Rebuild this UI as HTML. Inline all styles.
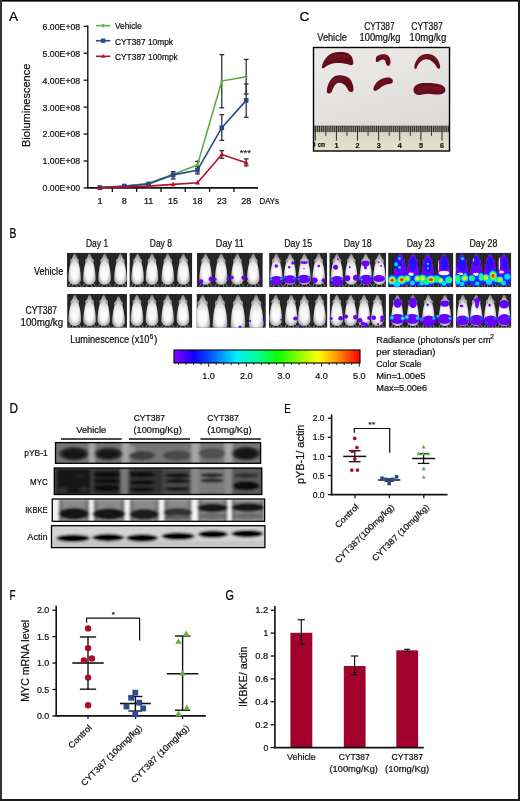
<!DOCTYPE html>
<html><head><meta charset="utf-8"><title>Figure</title>
<style>
html,body{margin:0;padding:0;background:#fff;overflow:hidden;}
svg{display:block;}
text{font-family:'Liberation Sans', Arial, sans-serif;fill:#111;stroke:#111;stroke-width:0.22px;}
</style></head><body>
<svg width="520" height="801" viewBox="0 0 520 801">
<defs>
<filter id="blur03" x="-20%" y="-20%" width="140%" height="140%"><feGaussianBlur stdDeviation="0.3"/></filter>
<filter id="blur05" x="-20%" y="-20%" width="140%" height="140%"><feGaussianBlur stdDeviation="0.5"/></filter>
<filter id="blur08" x="-30%" y="-30%" width="160%" height="160%"><feGaussianBlur stdDeviation="0.8"/></filter>
<filter id="blur12" x="-30%" y="-30%" width="160%" height="160%"><feGaussianBlur stdDeviation="1.2"/></filter>
<filter id="blurD" x="-10%" y="-30%" width="120%" height="160%"><feGaussianBlur stdDeviation="1.4 1.1"/></filter>
<filter id="blur2" x="-30%" y="-30%" width="160%" height="160%"><feGaussianBlur stdDeviation="2"/></filter>
<linearGradient id="cbar" x1="0" y1="0" x2="1" y2="0">
<stop offset="0" stop-color="#8a00ff"/>
<stop offset="0.11" stop-color="#1000ff"/>
<stop offset="0.22" stop-color="#0070ff"/>
<stop offset="0.335" stop-color="#00f0ff"/>
<stop offset="0.45" stop-color="#00ff90"/>
<stop offset="0.56" stop-color="#10ff00"/>
<stop offset="0.775" stop-color="#ffff00"/>
<stop offset="0.88" stop-color="#ff9000"/>
<stop offset="1" stop-color="#ff0000"/>
</linearGradient>
<linearGradient id="photo" x1="0.2" y1="0" x2="0.6" y2="1">
<stop offset="0" stop-color="#eceae9"/>
<stop offset="0.55" stop-color="#e3e1e0"/>
<stop offset="1" stop-color="#dad8d7"/>
</linearGradient>
<linearGradient id="ruler" x1="0" y1="0" x2="0" y2="1">
<stop offset="0" stop-color="#d6d3c2"/>
<stop offset="1" stop-color="#e4e1d2"/>
</linearGradient>
<linearGradient id="mouseg" x1="0" y1="0" x2="0" y2="1">
<stop offset="0" stop-color="#b4b4b4"/>
<stop offset="0.25" stop-color="#dadada"/>
<stop offset="0.45" stop-color="#f2f2f2"/>
<stop offset="0.8" stop-color="#f8f8f8"/>
<stop offset="1" stop-color="#e2e2e2"/>
</linearGradient>
<radialGradient id="mouseedge" cx="0.5" cy="0.55" r="0.55">
<stop offset="0.55" stop-color="#000" stop-opacity="0"/>
<stop offset="1" stop-color="#000" stop-opacity="0.3"/>
</radialGradient>
</defs>
<text x="9.00" y="20.90" font-size="13.5" style="fill:#000;stroke:#000">A</text>
<line x1="87.80" y1="25.50" x2="87.80" y2="188.50" stroke="#111" stroke-width="1.4"/>
<line x1="83.60" y1="187.90" x2="87.80" y2="187.90" stroke="#111" stroke-width="1.3"/>
<text x="80.20" y="191.30" font-size="9" text-anchor="end" textLength="37.60" lengthAdjust="spacingAndGlyphs">0.00E+00</text>
<line x1="83.60" y1="160.97" x2="87.80" y2="160.97" stroke="#111" stroke-width="1.3"/>
<text x="80.20" y="164.37" font-size="9" text-anchor="end" textLength="37.60" lengthAdjust="spacingAndGlyphs">1.00E+08</text>
<line x1="83.60" y1="134.04" x2="87.80" y2="134.04" stroke="#111" stroke-width="1.3"/>
<text x="80.20" y="137.44" font-size="9" text-anchor="end" textLength="37.60" lengthAdjust="spacingAndGlyphs">2.00E+08</text>
<line x1="83.60" y1="107.11" x2="87.80" y2="107.11" stroke="#111" stroke-width="1.3"/>
<text x="80.20" y="110.51" font-size="9" text-anchor="end" textLength="37.60" lengthAdjust="spacingAndGlyphs">3.00E+08</text>
<line x1="83.60" y1="80.18" x2="87.80" y2="80.18" stroke="#111" stroke-width="1.3"/>
<text x="80.20" y="83.58" font-size="9" text-anchor="end" textLength="37.60" lengthAdjust="spacingAndGlyphs">4.00E+08</text>
<line x1="83.60" y1="53.25" x2="87.80" y2="53.25" stroke="#111" stroke-width="1.3"/>
<text x="80.20" y="56.65" font-size="9" text-anchor="end" textLength="37.60" lengthAdjust="spacingAndGlyphs">5.00E+08</text>
<line x1="83.60" y1="26.32" x2="87.80" y2="26.32" stroke="#111" stroke-width="1.3"/>
<text x="80.20" y="29.72" font-size="9" text-anchor="end" textLength="37.60" lengthAdjust="spacingAndGlyphs">6.00E+08</text>
<line x1="87.10" y1="187.90" x2="258.00" y2="187.90" stroke="#111" stroke-width="1.6"/>
<line x1="112.32" y1="187.90" x2="112.32" y2="191.90" stroke="#111" stroke-width="1.3"/>
<line x1="136.64" y1="187.90" x2="136.64" y2="191.90" stroke="#111" stroke-width="1.3"/>
<line x1="160.96" y1="187.90" x2="160.96" y2="191.90" stroke="#111" stroke-width="1.3"/>
<line x1="185.28" y1="187.90" x2="185.28" y2="191.90" stroke="#111" stroke-width="1.3"/>
<line x1="209.60" y1="187.90" x2="209.60" y2="191.90" stroke="#111" stroke-width="1.3"/>
<line x1="233.92" y1="187.90" x2="233.92" y2="191.90" stroke="#111" stroke-width="1.3"/>
<text x="99.90" y="203.80" font-size="9" text-anchor="middle">1</text>
<text x="124.30" y="203.80" font-size="9" text-anchor="middle">8</text>
<text x="148.60" y="203.80" font-size="9" text-anchor="middle">11</text>
<text x="173.10" y="203.80" font-size="9" text-anchor="middle">15</text>
<text x="197.50" y="203.80" font-size="9" text-anchor="middle">18</text>
<text x="221.80" y="203.80" font-size="9" text-anchor="middle">23</text>
<text x="246.20" y="203.80" font-size="9" text-anchor="middle">28</text>
<text x="259.50" y="203.80" font-size="9" textLength="19.50" lengthAdjust="spacingAndGlyphs">DAYs</text>
<text x="30.20" y="105.30" font-size="11" text-anchor="middle" textLength="83.40" lengthAdjust="spacingAndGlyphs" transform="rotate(-90 30.20 105.30)">Bioluminescence</text>
<line x1="221.80" y1="54.70" x2="221.80" y2="107.80" stroke="#222" stroke-width="1.2"/>
<line x1="219.40" y1="54.70" x2="224.20" y2="54.70" stroke="#222" stroke-width="1.2"/>
<line x1="219.40" y1="107.80" x2="224.20" y2="107.80" stroke="#222" stroke-width="1.2"/>
<line x1="246.20" y1="59.40" x2="246.20" y2="94.00" stroke="#222" stroke-width="1.2"/>
<line x1="243.80" y1="59.40" x2="248.60" y2="59.40" stroke="#222" stroke-width="1.2"/>
<line x1="243.80" y1="94.00" x2="248.60" y2="94.00" stroke="#222" stroke-width="1.2"/>
<line x1="197.50" y1="161.30" x2="197.50" y2="168.50" stroke="#222" stroke-width="1.2"/>
<line x1="195.10" y1="161.30" x2="199.90" y2="161.30" stroke="#222" stroke-width="1.2"/>
<line x1="195.10" y1="168.50" x2="199.90" y2="168.50" stroke="#222" stroke-width="1.2"/>
<line x1="221.80" y1="114.70" x2="221.80" y2="140.30" stroke="#222" stroke-width="1.2"/>
<line x1="219.40" y1="114.70" x2="224.20" y2="114.70" stroke="#222" stroke-width="1.2"/>
<line x1="219.40" y1="140.30" x2="224.20" y2="140.30" stroke="#222" stroke-width="1.2"/>
<line x1="246.20" y1="83.90" x2="246.20" y2="117.30" stroke="#222" stroke-width="1.2"/>
<line x1="243.80" y1="83.90" x2="248.60" y2="83.90" stroke="#222" stroke-width="1.2"/>
<line x1="243.80" y1="117.30" x2="248.60" y2="117.30" stroke="#222" stroke-width="1.2"/>
<line x1="197.50" y1="166.30" x2="197.50" y2="174.00" stroke="#222" stroke-width="1.2"/>
<line x1="195.10" y1="166.30" x2="199.90" y2="166.30" stroke="#222" stroke-width="1.2"/>
<line x1="195.10" y1="174.00" x2="199.90" y2="174.00" stroke="#222" stroke-width="1.2"/>
<line x1="173.10" y1="171.70" x2="173.10" y2="179.00" stroke="#222" stroke-width="1.2"/>
<line x1="170.70" y1="171.70" x2="175.50" y2="171.70" stroke="#222" stroke-width="1.2"/>
<line x1="170.70" y1="179.00" x2="175.50" y2="179.00" stroke="#222" stroke-width="1.2"/>
<line x1="221.80" y1="150.70" x2="221.80" y2="158.20" stroke="#222" stroke-width="1.2"/>
<line x1="219.40" y1="150.70" x2="224.20" y2="150.70" stroke="#222" stroke-width="1.2"/>
<line x1="219.40" y1="158.20" x2="224.20" y2="158.20" stroke="#222" stroke-width="1.2"/>
<line x1="246.20" y1="158.90" x2="246.20" y2="165.90" stroke="#222" stroke-width="1.2"/>
<line x1="243.80" y1="158.90" x2="248.60" y2="158.90" stroke="#222" stroke-width="1.2"/>
<line x1="243.80" y1="165.90" x2="248.60" y2="165.90" stroke="#222" stroke-width="1.2"/>
<polyline points="99.9,187.6 124.3,186.4 148.6,183.3 173.1,174.3 197.5,164.9 221.8,81.0 246.2,76.7" fill="none" stroke="#5dac3e" stroke-width="1.6" stroke-linejoin="round"/>
<polyline points="99.9,187.6 124.3,186.1 148.6,184.0 173.1,174.9 197.5,170.2 221.8,127.7 246.2,100.4" fill="none" stroke="#27468b" stroke-width="1.6" stroke-linejoin="round"/>
<polyline points="99.9,187.6 124.3,187.0 148.6,186.1 173.1,184.4 197.5,182.7 221.8,154.5 246.2,162.7" fill="none" stroke="#b3112e" stroke-width="1.6" stroke-linejoin="round"/>
<path d="M99.9 185.5 L101.5 187.6 L99.9 189.7 L98.3 187.6Z" fill="#5dac3e"/>
<path d="M124.3 184.3 L125.9 186.4 L124.3 188.5 L122.7 186.4Z" fill="#5dac3e"/>
<path d="M148.6 181.2 L150.2 183.3 L148.6 185.4 L147.0 183.3Z" fill="#5dac3e"/>
<path d="M173.1 172.2 L174.7 174.3 L173.1 176.4 L171.5 174.3Z" fill="#5dac3e"/>
<path d="M197.5 162.8 L199.1 164.9 L197.5 167.0 L195.9 164.9Z" fill="#5dac3e"/>
<path d="M221.8 78.9 L223.4 81.0 L221.8 83.1 L220.2 81.0Z" fill="#5dac3e"/>
<path d="M246.2 74.6 L247.8 76.7 L246.2 78.8 L244.6 76.7Z" fill="#5dac3e"/>
<rect x="97.6" y="185.2" width="4.6" height="4.8" fill="#27468b"/>
<rect x="122.0" y="183.7" width="4.6" height="4.8" fill="#27468b"/>
<rect x="146.3" y="181.6" width="4.6" height="4.8" fill="#27468b"/>
<rect x="170.8" y="172.5" width="4.6" height="4.8" fill="#27468b"/>
<rect x="195.2" y="167.8" width="4.6" height="4.8" fill="#27468b"/>
<rect x="219.5" y="125.3" width="4.6" height="4.8" fill="#27468b"/>
<rect x="243.9" y="98.0" width="4.6" height="4.8" fill="#27468b"/>
<path d="M99.9 184.9 L102.4 189.4 L97.4 189.4Z" fill="#b3112e"/>
<path d="M124.3 184.3 L126.8 188.8 L121.8 188.8Z" fill="#b3112e"/>
<path d="M148.6 183.4 L151.1 187.9 L146.1 187.9Z" fill="#b3112e"/>
<path d="M173.1 181.7 L175.6 186.2 L170.6 186.2Z" fill="#b3112e"/>
<path d="M197.5 180.0 L200.0 184.5 L195.0 184.5Z" fill="#b3112e"/>
<path d="M221.8 151.8 L224.3 156.3 L219.3 156.3Z" fill="#b3112e"/>
<path d="M246.2 160.0 L248.7 164.5 L243.7 164.5Z" fill="#b3112e"/>
<text x="245.40" y="156.30" font-size="8.2" text-anchor="middle" textLength="11.30" lengthAdjust="spacingAndGlyphs" style="stroke-width:0.1px">***</text>
<line x1="95.90" y1="25.60" x2="110.30" y2="25.60" stroke="#5dac3e" stroke-width="1.6"/>
<path d="M103.2 23.5 L104.8 25.6 L103.2 27.700000000000003 L101.60000000000001 25.6Z" fill="#5dac3e"/>
<text x="115.00" y="29.40" font-size="9" textLength="26.80" lengthAdjust="spacingAndGlyphs">Vehicle</text>
<line x1="95.90" y1="40.70" x2="110.30" y2="40.70" stroke="#27468b" stroke-width="1.6"/>
<rect x="101.10000000000001" y="38.5" width="4.2" height="4.4" fill="#27468b"/>
<text x="115.00" y="44.50" font-size="9" textLength="58.00" lengthAdjust="spacingAndGlyphs">CYT387 10mpk</text>
<line x1="95.90" y1="56.30" x2="110.30" y2="56.30" stroke="#b3112e" stroke-width="1.6"/>
<path d="M103.2 53.9 L105.4 57.8 L101.0 57.8Z" fill="#b3112e"/>
<text x="115.00" y="60.10" font-size="9" textLength="62.80" lengthAdjust="spacingAndGlyphs">CYT387 100mpk</text>
<text x="299.40" y="20.90" font-size="13.5" style="fill:#000;stroke:#000">C</text>
<text x="317.30" y="41.30" font-size="10" textLength="29.60" lengthAdjust="spacingAndGlyphs">Vehicle</text>
<text x="364.20" y="30.00" font-size="10" textLength="30.40" lengthAdjust="spacingAndGlyphs">CYT387</text>
<text x="359.60" y="41.30" font-size="10" textLength="40.80" lengthAdjust="spacingAndGlyphs">100mg/kg</text>
<text x="411.30" y="30.00" font-size="10" textLength="31.60" lengthAdjust="spacingAndGlyphs">CYT387</text>
<text x="409.60" y="41.30" font-size="10" textLength="36.60" lengthAdjust="spacingAndGlyphs">10mg/kg</text>
<clipPath id="photoclip"><rect x="313.5" y="47.5" width="136.0" height="103.5"/></clipPath><g clip-path="url(#photoclip)">
<rect x="313.5" y="47.5" width="136.0" height="103.5" fill="url(#photo)"/>
<rect x="313.5" y="125.4" width="136.0" height="25.599999999999994" fill="url(#ruler)"/>
<rect x="313.5" y="125.4" width="136.0" height="1.2" fill="#8a887c" opacity="0.6"/>
<rect x="313.5" y="125.8" width="136.0" height="6.2" fill="#5a5850" opacity="0.55"/>
<g opacity="0.9"><line x1="315.28" y1="126.0" x2="315.28" y2="140.6" stroke="#111" stroke-width="1.0"/><line x1="317.39" y1="126.0" x2="317.39" y2="132.2" stroke="#111" stroke-width="0.85"/><line x1="319.50" y1="126.0" x2="319.50" y2="132.2" stroke="#111" stroke-width="0.85"/><line x1="321.62" y1="126.0" x2="321.62" y2="132.2" stroke="#111" stroke-width="0.85"/><line x1="323.73" y1="126.0" x2="323.73" y2="132.2" stroke="#111" stroke-width="0.85"/><line x1="325.84" y1="126.0" x2="325.84" y2="135.8" stroke="#111" stroke-width="0.95"/><line x1="327.95" y1="126.0" x2="327.95" y2="132.2" stroke="#111" stroke-width="0.85"/><line x1="330.06" y1="126.0" x2="330.06" y2="132.2" stroke="#111" stroke-width="0.85"/><line x1="332.18" y1="126.0" x2="332.18" y2="132.2" stroke="#111" stroke-width="0.85"/><line x1="334.29" y1="126.0" x2="334.29" y2="132.2" stroke="#111" stroke-width="0.85"/><line x1="336.40" y1="126.0" x2="336.40" y2="140.6" stroke="#111" stroke-width="1.0"/><line x1="338.51" y1="126.0" x2="338.51" y2="132.2" stroke="#111" stroke-width="0.85"/><line x1="340.62" y1="126.0" x2="340.62" y2="132.2" stroke="#111" stroke-width="0.85"/><line x1="342.74" y1="126.0" x2="342.74" y2="132.2" stroke="#111" stroke-width="0.85"/><line x1="344.85" y1="126.0" x2="344.85" y2="132.2" stroke="#111" stroke-width="0.85"/><line x1="346.96" y1="126.0" x2="346.96" y2="135.8" stroke="#111" stroke-width="0.95"/><line x1="349.07" y1="126.0" x2="349.07" y2="132.2" stroke="#111" stroke-width="0.85"/><line x1="351.18" y1="126.0" x2="351.18" y2="132.2" stroke="#111" stroke-width="0.85"/><line x1="353.30" y1="126.0" x2="353.30" y2="132.2" stroke="#111" stroke-width="0.85"/><line x1="355.41" y1="126.0" x2="355.41" y2="132.2" stroke="#111" stroke-width="0.85"/><line x1="357.52" y1="126.0" x2="357.52" y2="140.6" stroke="#111" stroke-width="1.0"/><line x1="359.63" y1="126.0" x2="359.63" y2="132.2" stroke="#111" stroke-width="0.85"/><line x1="361.74" y1="126.0" x2="361.74" y2="132.2" stroke="#111" stroke-width="0.85"/><line x1="363.86" y1="126.0" x2="363.86" y2="132.2" stroke="#111" stroke-width="0.85"/><line x1="365.97" y1="126.0" x2="365.97" y2="132.2" stroke="#111" stroke-width="0.85"/><line x1="368.08" y1="126.0" x2="368.08" y2="135.8" stroke="#111" stroke-width="0.95"/><line x1="370.19" y1="126.0" x2="370.19" y2="132.2" stroke="#111" stroke-width="0.85"/><line x1="372.30" y1="126.0" x2="372.30" y2="132.2" stroke="#111" stroke-width="0.85"/><line x1="374.42" y1="126.0" x2="374.42" y2="132.2" stroke="#111" stroke-width="0.85"/><line x1="376.53" y1="126.0" x2="376.53" y2="132.2" stroke="#111" stroke-width="0.85"/><line x1="378.64" y1="126.0" x2="378.64" y2="140.6" stroke="#111" stroke-width="1.0"/><line x1="380.75" y1="126.0" x2="380.75" y2="132.2" stroke="#111" stroke-width="0.85"/><line x1="382.86" y1="126.0" x2="382.86" y2="132.2" stroke="#111" stroke-width="0.85"/><line x1="384.98" y1="126.0" x2="384.98" y2="132.2" stroke="#111" stroke-width="0.85"/><line x1="387.09" y1="126.0" x2="387.09" y2="132.2" stroke="#111" stroke-width="0.85"/><line x1="389.20" y1="126.0" x2="389.20" y2="135.8" stroke="#111" stroke-width="0.95"/><line x1="391.31" y1="126.0" x2="391.31" y2="132.2" stroke="#111" stroke-width="0.85"/><line x1="393.42" y1="126.0" x2="393.42" y2="132.2" stroke="#111" stroke-width="0.85"/><line x1="395.54" y1="126.0" x2="395.54" y2="132.2" stroke="#111" stroke-width="0.85"/><line x1="397.65" y1="126.0" x2="397.65" y2="132.2" stroke="#111" stroke-width="0.85"/><line x1="399.76" y1="126.0" x2="399.76" y2="140.6" stroke="#111" stroke-width="1.0"/><line x1="401.87" y1="126.0" x2="401.87" y2="132.2" stroke="#111" stroke-width="0.85"/><line x1="403.98" y1="126.0" x2="403.98" y2="132.2" stroke="#111" stroke-width="0.85"/><line x1="406.10" y1="126.0" x2="406.10" y2="132.2" stroke="#111" stroke-width="0.85"/><line x1="408.21" y1="126.0" x2="408.21" y2="132.2" stroke="#111" stroke-width="0.85"/><line x1="410.32" y1="126.0" x2="410.32" y2="135.8" stroke="#111" stroke-width="0.95"/><line x1="412.43" y1="126.0" x2="412.43" y2="132.2" stroke="#111" stroke-width="0.85"/><line x1="414.54" y1="126.0" x2="414.54" y2="132.2" stroke="#111" stroke-width="0.85"/><line x1="416.66" y1="126.0" x2="416.66" y2="132.2" stroke="#111" stroke-width="0.85"/><line x1="418.77" y1="126.0" x2="418.77" y2="132.2" stroke="#111" stroke-width="0.85"/><line x1="420.88" y1="126.0" x2="420.88" y2="140.6" stroke="#111" stroke-width="1.0"/><line x1="422.99" y1="126.0" x2="422.99" y2="132.2" stroke="#111" stroke-width="0.85"/><line x1="425.10" y1="126.0" x2="425.10" y2="132.2" stroke="#111" stroke-width="0.85"/><line x1="427.22" y1="126.0" x2="427.22" y2="132.2" stroke="#111" stroke-width="0.85"/><line x1="429.33" y1="126.0" x2="429.33" y2="132.2" stroke="#111" stroke-width="0.85"/><line x1="431.44" y1="126.0" x2="431.44" y2="135.8" stroke="#111" stroke-width="0.95"/><line x1="433.55" y1="126.0" x2="433.55" y2="132.2" stroke="#111" stroke-width="0.85"/><line x1="435.66" y1="126.0" x2="435.66" y2="132.2" stroke="#111" stroke-width="0.85"/><line x1="437.78" y1="126.0" x2="437.78" y2="132.2" stroke="#111" stroke-width="0.85"/><line x1="439.89" y1="126.0" x2="439.89" y2="132.2" stroke="#111" stroke-width="0.85"/><line x1="442.00" y1="126.0" x2="442.00" y2="140.6" stroke="#111" stroke-width="1.0"/><line x1="444.11" y1="126.0" x2="444.11" y2="132.2" stroke="#111" stroke-width="0.85"/><line x1="446.22" y1="126.0" x2="446.22" y2="132.2" stroke="#111" stroke-width="0.85"/><line x1="448.34" y1="126.0" x2="448.34" y2="132.2" stroke="#111" stroke-width="0.85"/></g>
<text x="336.40" y="147.60" font-size="7.2" text-anchor="middle" font-weight="bold">1</text>
<text x="357.52" y="147.60" font-size="7.2" text-anchor="middle" font-weight="bold">2</text>
<text x="378.64" y="147.60" font-size="7.2" text-anchor="middle" font-weight="bold">3</text>
<text x="399.76" y="147.60" font-size="7.2" text-anchor="middle" font-weight="bold">4</text>
<text x="420.88" y="147.60" font-size="7.2" text-anchor="middle" font-weight="bold">5</text>
<text x="442.00" y="147.60" font-size="7.2" text-anchor="middle" font-weight="bold">6</text>
<text x="318.00" y="147.40" font-size="6.8" textLength="7.20" lengthAdjust="spacingAndGlyphs" font-weight="bold">cm</text>
<text x="313.60" y="147.40" font-size="7.2" text-anchor="middle" font-weight="bold">0</text>
<clipPath id="kc0"><path d="M321.8,67 C323,61 327,55.5 332,53.3 C337,51.6 344,51.6 348,53.3 C351.5,55 353.4,59 353.3,63.6 C353.1,65.4 351,65.6 349.3,64.8 C346,63.6 341,63 336,63.1 C331,63.4 326.5,65.6 324,68 C323,68.8 321.6,68.5 321.8,67 Z"/></clipPath>
<path d="M321.8,67 C323,61 327,55.5 332,53.3 C337,51.6 344,51.6 348,53.3 C351.5,55 353.4,59 353.3,63.6 C353.1,65.4 351,65.6 349.3,64.8 C346,63.6 341,63 336,63.1 C331,63.4 326.5,65.6 324,68 C323,68.8 321.6,68.5 321.8,67 Z" fill="#620a1a" filter="url(#blur03)"/>
<clipPath id="kc1"><path d="M326.8,91.5 C327,85 330.5,78 335.8,75.8 C340,74.6 345,75.3 348.7,77.8 C351.8,80.3 353.6,85.5 353.5,90 C353.2,92.5 350.3,92.8 348.5,90.8 C347,87.5 345,84 341,83 C337.5,82.2 335,84.5 333.5,87.5 C332.5,89.5 332,92 330.8,93 C329,94 326.6,93.2 326.8,91.5 Z"/></clipPath>
<path d="M326.8,91.5 C327,85 330.5,78 335.8,75.8 C340,74.6 345,75.3 348.7,77.8 C351.8,80.3 353.6,85.5 353.5,90 C353.2,92.5 350.3,92.8 348.5,90.8 C347,87.5 345,84 341,83 C337.5,82.2 335,84.5 333.5,87.5 C332.5,89.5 332,92 330.8,93 C329,94 326.6,93.2 326.8,91.5 Z" fill="#620a1a" filter="url(#blur03)"/>
<clipPath id="kc2"><path d="M375.8,59 C376,55.8 379.5,54.3 384,54.3 C388,54.4 390.5,57.5 390.5,61.5 C390.5,64.5 389.2,66.2 387.8,66 C386.3,65.5 386,63 385.3,61 C384.5,59.5 382.5,59 380.5,60.3 C378.8,61.5 376.8,62.8 376,61.5 C375.7,60.8 375.7,60 375.8,59 Z"/></clipPath>
<path d="M375.8,59 C376,55.8 379.5,54.3 384,54.3 C388,54.4 390.5,57.5 390.5,61.5 C390.5,64.5 389.2,66.2 387.8,66 C386.3,65.5 386,63 385.3,61 C384.5,59.5 382.5,59 380.5,60.3 C378.8,61.5 376.8,62.8 376,61.5 C375.7,60.8 375.7,60 375.8,59 Z" fill="#620a1a" filter="url(#blur03)"/>
<clipPath id="kc3"><path d="M373.5,88.3 C374.5,84 378,80 383.5,78.2 C387,77.2 391,77.2 392.6,79.8 C393.5,81.8 392.3,83.8 389.5,84 C386.5,84.2 383.5,85.3 381,87.3 C378.5,89.3 376.5,91 374.8,90.9 C373.6,90.8 373.2,89.5 373.5,88.3 Z"/></clipPath>
<path d="M373.5,88.3 C374.5,84 378,80 383.5,78.2 C387,77.2 391,77.2 392.6,79.8 C393.5,81.8 392.3,83.8 389.5,84 C386.5,84.2 383.5,85.3 381,87.3 C378.5,89.3 376.5,91 374.8,90.9 C373.6,90.8 373.2,89.5 373.5,88.3 Z" fill="#620a1a" filter="url(#blur03)"/>
<clipPath id="kc4"><path d="M414.3,67 C414.8,62 418,57 422,55 C425.5,53.5 429.5,53.5 433,55.3 C437,57.5 439.7,62 440.2,66.8 C440.3,68.8 438.5,69.5 437.3,68 C436,65.5 433.5,61.8 430,60 C427.5,59 424.5,59 422,60.5 C419,62.5 417.5,65.5 416.6,68 C416,69.5 414.2,69 414.3,67 Z"/></clipPath>
<path d="M414.3,67 C414.8,62 418,57 422,55 C425.5,53.5 429.5,53.5 433,55.3 C437,57.5 439.7,62 440.2,66.8 C440.3,68.8 438.5,69.5 437.3,68 C436,65.5 433.5,61.8 430,60 C427.5,59 424.5,59 422,60.5 C419,62.5 417.5,65.5 416.6,68 C416,69.5 414.2,69 414.3,67 Z" fill="#620a1a" filter="url(#blur03)"/>
<clipPath id="kc5"><path d="M413.5,89.2 C413.8,86 417,83.8 423,83.1 C428,82.7 436,82.9 441,84.8 C444.5,86.2 445.8,88.5 445.4,90.5 C445,93 442,94.6 437.5,94.6 C434,94.6 431,93.8 428.5,93.8 C425,93.9 422,95 418.5,94.9 C415.5,94.8 413.3,92.5 413.5,89.2 Z"/></clipPath>
<path d="M413.5,89.2 C413.8,86 417,83.8 423,83.1 C428,82.7 436,82.9 441,84.8 C444.5,86.2 445.8,88.5 445.4,90.5 C445,93 442,94.6 437.5,94.6 C434,94.6 431,93.8 428.5,93.8 C425,93.9 422,95 418.5,94.9 C415.5,94.8 413.3,92.5 413.5,89.2 Z" fill="#620a1a" filter="url(#blur03)"/>
<path d="M328,60 C334,56 342,55 349,57.5" fill="none" stroke="#8a1a2a" stroke-width="2.86" opacity="0.6" filter="url(#blur08)" clip-path="url(#kc0)"/>
<path d="M331,84 C334,79 340,77.5 346,79.5" fill="none" stroke="#8a1a2a" stroke-width="2.34" opacity="0.6" filter="url(#blur08)" clip-path="url(#kc1)"/>
<path d="M379,57 C382,56 386,56 388,59" fill="none" stroke="#8a1a2a" stroke-width="1.56" opacity="0.6" filter="url(#blur08)" clip-path="url(#kc2)"/>
<path d="M377,87 C380,83 384,80.5 389,80" fill="none" stroke="#8a1a2a" stroke-width="1.95" opacity="0.6" filter="url(#blur08)" clip-path="url(#kc3)"/>
<path d="M418,62 C421,57.5 426,56 431,56.5" fill="none" stroke="#8a1a2a" stroke-width="1.95" opacity="0.6" filter="url(#blur08)" clip-path="url(#kc4)"/>
<path d="M418,89.5 C424,87 434,87 442,89" fill="none" stroke="#8a1a2a" stroke-width="3.12" opacity="0.6" filter="url(#blur08)" clip-path="url(#kc5)"/>
</g>
<rect x="313.5" y="47.5" width="136.0" height="103.5" fill="none" stroke="#000" stroke-width="1.4"/>
<text x="9.60" y="237.60" font-size="14" style="fill:#000;stroke:#000" textLength="6.90" lengthAdjust="spacingAndGlyphs">B</text>
<text x="97.05" y="246.50" font-size="10" text-anchor="middle" textLength="22.20" lengthAdjust="spacingAndGlyphs">Day 1</text>
<text x="160.85" y="246.50" font-size="10" text-anchor="middle" textLength="22.20" lengthAdjust="spacingAndGlyphs">Day 8</text>
<text x="229.85" y="246.50" font-size="10" text-anchor="middle" textLength="28.00" lengthAdjust="spacingAndGlyphs">Day 11</text>
<text x="298.15" y="246.50" font-size="10" text-anchor="middle" textLength="28.00" lengthAdjust="spacingAndGlyphs">Day 15</text>
<text x="357.65" y="246.50" font-size="10" text-anchor="middle" textLength="28.00" lengthAdjust="spacingAndGlyphs">Day 18</text>
<text x="420.70" y="246.50" font-size="10" text-anchor="middle" textLength="28.00" lengthAdjust="spacingAndGlyphs">Day 23</text>
<text x="483.40" y="246.50" font-size="10" text-anchor="middle" textLength="28.00" lengthAdjust="spacingAndGlyphs">Day 28</text>
<text x="63.20" y="274.90" font-size="10" text-anchor="end" textLength="29.30" lengthAdjust="spacingAndGlyphs">Vehicle</text>
<text x="41.30" y="314.30" font-size="10" text-anchor="middle" textLength="31.50" lengthAdjust="spacingAndGlyphs">CYT387</text>
<text x="41.80" y="326.20" font-size="10" text-anchor="middle" textLength="42.60" lengthAdjust="spacingAndGlyphs">100mg/kg</text>
<text x="70.20" y="343.40" font-size="10" textLength="79.20" lengthAdjust="spacingAndGlyphs">Luminescence (x10</text>
<text x="149.80" y="339.00" font-size="6.5">6</text>
<text x="154.00" y="343.40" font-size="10">)</text>
<rect x="174" y="350" width="186" height="13" fill="url(#cbar)" stroke="#000" stroke-width="1.1"/>
<line x1="178.53" y1="363.00" x2="178.53" y2="365.00" stroke="#111" stroke-width="0.9"/>
<line x1="186.06" y1="363.00" x2="186.06" y2="365.00" stroke="#111" stroke-width="0.9"/>
<line x1="193.59" y1="363.00" x2="193.59" y2="365.00" stroke="#111" stroke-width="0.9"/>
<line x1="201.12" y1="363.00" x2="201.12" y2="365.00" stroke="#111" stroke-width="0.9"/>
<line x1="208.65" y1="363.00" x2="208.65" y2="366.80" stroke="#111" stroke-width="0.9"/>
<line x1="216.18" y1="363.00" x2="216.18" y2="365.00" stroke="#111" stroke-width="0.9"/>
<line x1="223.71" y1="363.00" x2="223.71" y2="365.00" stroke="#111" stroke-width="0.9"/>
<line x1="231.24" y1="363.00" x2="231.24" y2="365.00" stroke="#111" stroke-width="0.9"/>
<line x1="238.77" y1="363.00" x2="238.77" y2="365.00" stroke="#111" stroke-width="0.9"/>
<line x1="246.30" y1="363.00" x2="246.30" y2="366.80" stroke="#111" stroke-width="0.9"/>
<line x1="253.83" y1="363.00" x2="253.83" y2="365.00" stroke="#111" stroke-width="0.9"/>
<line x1="261.36" y1="363.00" x2="261.36" y2="365.00" stroke="#111" stroke-width="0.9"/>
<line x1="268.89" y1="363.00" x2="268.89" y2="365.00" stroke="#111" stroke-width="0.9"/>
<line x1="276.42" y1="363.00" x2="276.42" y2="365.00" stroke="#111" stroke-width="0.9"/>
<line x1="283.95" y1="363.00" x2="283.95" y2="366.80" stroke="#111" stroke-width="0.9"/>
<line x1="291.48" y1="363.00" x2="291.48" y2="365.00" stroke="#111" stroke-width="0.9"/>
<line x1="299.01" y1="363.00" x2="299.01" y2="365.00" stroke="#111" stroke-width="0.9"/>
<line x1="306.54" y1="363.00" x2="306.54" y2="365.00" stroke="#111" stroke-width="0.9"/>
<line x1="314.07" y1="363.00" x2="314.07" y2="365.00" stroke="#111" stroke-width="0.9"/>
<line x1="321.60" y1="363.00" x2="321.60" y2="366.80" stroke="#111" stroke-width="0.9"/>
<line x1="329.13" y1="363.00" x2="329.13" y2="365.00" stroke="#111" stroke-width="0.9"/>
<line x1="336.66" y1="363.00" x2="336.66" y2="365.00" stroke="#111" stroke-width="0.9"/>
<line x1="344.19" y1="363.00" x2="344.19" y2="365.00" stroke="#111" stroke-width="0.9"/>
<line x1="351.72" y1="363.00" x2="351.72" y2="365.00" stroke="#111" stroke-width="0.9"/>
<line x1="359.25" y1="363.00" x2="359.25" y2="366.80" stroke="#111" stroke-width="0.9"/>
<text x="208.60" y="379.30" font-size="9" text-anchor="middle" textLength="12.60" lengthAdjust="spacingAndGlyphs">1.0</text>
<text x="246.25" y="379.30" font-size="9" text-anchor="middle" textLength="12.60" lengthAdjust="spacingAndGlyphs">2.0</text>
<text x="283.90" y="379.30" font-size="9" text-anchor="middle" textLength="12.60" lengthAdjust="spacingAndGlyphs">3.0</text>
<text x="321.55" y="379.30" font-size="9" text-anchor="middle" textLength="12.60" lengthAdjust="spacingAndGlyphs">4.0</text>
<text x="359.20" y="379.30" font-size="9" text-anchor="middle" textLength="12.60" lengthAdjust="spacingAndGlyphs">5.0</text>
<text x="376.30" y="343.20" font-size="9" textLength="114.20" lengthAdjust="spacingAndGlyphs">Radiance (photons/s per cm</text>
<text x="376.30" y="354.80" font-size="9" textLength="59.20" lengthAdjust="spacingAndGlyphs">per steradian)</text>
<text x="376.30" y="366.80" font-size="9" textLength="45.20" lengthAdjust="spacingAndGlyphs">Color Scale</text>
<text x="376.30" y="378.60" font-size="9" textLength="49.20" lengthAdjust="spacingAndGlyphs">Min=1.00e5</text>
<text x="376.30" y="390.50" font-size="9" textLength="50.80" lengthAdjust="spacingAndGlyphs">Max=5.00e6</text>
<text x="490.20" y="339.00" font-size="6.5">2</text>
<clipPath id="clip66_252"><rect x="66.9" y="252.8" width="60.3" height="34.39999999999998"/></clipPath>
<g clip-path="url(#clip66_252)">
<rect x="66.9" y="252.8" width="60.3" height="34.39999999999998" fill="#2c2c2c"/>
<g opacity="0.7"><rect x="68.4" y="252.8" width="1.1" height="34.39999999999998" fill="#1b1b1b"/><rect x="71.0" y="252.8" width="1.1" height="34.39999999999998" fill="#1b1b1b"/><rect x="73.6" y="252.8" width="1.1" height="34.39999999999998" fill="#1b1b1b"/><rect x="76.2" y="252.8" width="1.1" height="34.39999999999998" fill="#1b1b1b"/><rect x="78.8" y="252.8" width="1.1" height="34.39999999999998" fill="#1b1b1b"/><rect x="81.4" y="252.8" width="1.1" height="34.39999999999998" fill="#1b1b1b"/><rect x="84.0" y="252.8" width="1.1" height="34.39999999999998" fill="#1b1b1b"/><rect x="86.6" y="252.8" width="1.1" height="34.39999999999998" fill="#1b1b1b"/><rect x="89.2" y="252.8" width="1.1" height="34.39999999999998" fill="#1b1b1b"/><rect x="91.8" y="252.8" width="1.1" height="34.39999999999998" fill="#1b1b1b"/><rect x="94.4" y="252.8" width="1.1" height="34.39999999999998" fill="#1b1b1b"/><rect x="97.0" y="252.8" width="1.1" height="34.39999999999998" fill="#1b1b1b"/><rect x="99.6" y="252.8" width="1.1" height="34.39999999999998" fill="#1b1b1b"/><rect x="102.2" y="252.8" width="1.1" height="34.39999999999998" fill="#1b1b1b"/><rect x="104.8" y="252.8" width="1.1" height="34.39999999999998" fill="#1b1b1b"/><rect x="107.4" y="252.8" width="1.1" height="34.39999999999998" fill="#1b1b1b"/><rect x="110.0" y="252.8" width="1.1" height="34.39999999999998" fill="#1b1b1b"/><rect x="112.6" y="252.8" width="1.1" height="34.39999999999998" fill="#1b1b1b"/><rect x="115.2" y="252.8" width="1.1" height="34.39999999999998" fill="#1b1b1b"/><rect x="117.8" y="252.8" width="1.1" height="34.39999999999998" fill="#1b1b1b"/><rect x="120.4" y="252.8" width="1.1" height="34.39999999999998" fill="#1b1b1b"/><rect x="123.0" y="252.8" width="1.1" height="34.39999999999998" fill="#1b1b1b"/><rect x="125.6" y="252.8" width="1.1" height="34.39999999999998" fill="#1b1b1b"/></g>
<g transform="translate(74.6 253.6) scale(0.930 1.000)" filter="url(#blur05)"><path d="M-4,29 L-7,33 M-2,30 L-3,33.5 M4,29 L7,33 M2,30 L3,33.5" stroke="#9a9a9a" stroke-width="0.8" fill="none"/><path d="M0,0 C0.8,0.4 1.6,1.8 2.1,3.2 C2.6,4.5 3.2,5.4 4.1,5.9 C4.8,6.4 4.8,8 4.1,8.9 C4.6,10.5 5.4,13 5.8,16 C6.3,19.5 6.8,23 6.6,26 C6.4,28.5 4.5,30.6 0,31.2 C-4.5,30.6 -6.4,28.5 -6.6,26 C-6.8,23 -6.3,19.5 -5.8,16 C-5.4,13 -4.6,10.5 -4.1,8.9 C-4.8,8 -4.8,6.4 -4.1,5.9 C-3.2,5.4 -2.6,4.5 -2.1,3.2 C-1.6,1.8 -0.8,0.4 0,0 Z" fill="url(#mouseg)"/><path d="M0,0 C0.8,0.4 1.6,1.8 2.1,3.2 C2.6,4.5 3.2,5.4 4.1,5.9 C4.8,6.4 4.8,8 4.1,8.9 C4.6,10.5 5.4,13 5.8,16 C6.3,19.5 6.8,23 6.6,26 C6.4,28.5 4.5,30.6 0,31.2 C-4.5,30.6 -6.4,28.5 -6.6,26 C-6.8,23 -6.3,19.5 -5.8,16 C-5.4,13 -4.6,10.5 -4.1,8.9 C-4.8,8 -4.8,6.4 -4.1,5.9 C-3.2,5.4 -2.6,4.5 -2.1,3.2 C-1.6,1.8 -0.8,0.4 0,0 Z" fill="url(#mouseedge)"/><ellipse cx="-3.2" cy="7.6" rx="1.2" ry="1.2" fill="#8c8c8c" opacity="0.6"/><ellipse cx="3.2" cy="7.6" rx="1.2" ry="1.2" fill="#8c8c8c" opacity="0.6"/><ellipse cx="0" cy="19" rx="3.5" ry="6" fill="#fff" opacity="0.5"/></g>
<g transform="translate(89.4 253.6) scale(0.930 1.000)" filter="url(#blur05)"><path d="M-4,29 L-7,33 M-2,30 L-3,33.5 M4,29 L7,33 M2,30 L3,33.5" stroke="#9a9a9a" stroke-width="0.8" fill="none"/><path d="M0,0 C0.8,0.4 1.6,1.8 2.1,3.2 C2.6,4.5 3.2,5.4 4.1,5.9 C4.8,6.4 4.8,8 4.1,8.9 C4.6,10.5 5.4,13 5.8,16 C6.3,19.5 6.8,23 6.6,26 C6.4,28.5 4.5,30.6 0,31.2 C-4.5,30.6 -6.4,28.5 -6.6,26 C-6.8,23 -6.3,19.5 -5.8,16 C-5.4,13 -4.6,10.5 -4.1,8.9 C-4.8,8 -4.8,6.4 -4.1,5.9 C-3.2,5.4 -2.6,4.5 -2.1,3.2 C-1.6,1.8 -0.8,0.4 0,0 Z" fill="url(#mouseg)"/><path d="M0,0 C0.8,0.4 1.6,1.8 2.1,3.2 C2.6,4.5 3.2,5.4 4.1,5.9 C4.8,6.4 4.8,8 4.1,8.9 C4.6,10.5 5.4,13 5.8,16 C6.3,19.5 6.8,23 6.6,26 C6.4,28.5 4.5,30.6 0,31.2 C-4.5,30.6 -6.4,28.5 -6.6,26 C-6.8,23 -6.3,19.5 -5.8,16 C-5.4,13 -4.6,10.5 -4.1,8.9 C-4.8,8 -4.8,6.4 -4.1,5.9 C-3.2,5.4 -2.6,4.5 -2.1,3.2 C-1.6,1.8 -0.8,0.4 0,0 Z" fill="url(#mouseedge)"/><ellipse cx="-3.2" cy="7.6" rx="1.2" ry="1.2" fill="#8c8c8c" opacity="0.6"/><ellipse cx="3.2" cy="7.6" rx="1.2" ry="1.2" fill="#8c8c8c" opacity="0.6"/><ellipse cx="0" cy="19" rx="3.5" ry="6" fill="#fff" opacity="0.5"/></g>
<g transform="translate(104.6 253.6) scale(0.930 1.000)" filter="url(#blur05)"><path d="M-4,29 L-7,33 M-2,30 L-3,33.5 M4,29 L7,33 M2,30 L3,33.5" stroke="#9a9a9a" stroke-width="0.8" fill="none"/><path d="M0,0 C0.8,0.4 1.6,1.8 2.1,3.2 C2.6,4.5 3.2,5.4 4.1,5.9 C4.8,6.4 4.8,8 4.1,8.9 C4.6,10.5 5.4,13 5.8,16 C6.3,19.5 6.8,23 6.6,26 C6.4,28.5 4.5,30.6 0,31.2 C-4.5,30.6 -6.4,28.5 -6.6,26 C-6.8,23 -6.3,19.5 -5.8,16 C-5.4,13 -4.6,10.5 -4.1,8.9 C-4.8,8 -4.8,6.4 -4.1,5.9 C-3.2,5.4 -2.6,4.5 -2.1,3.2 C-1.6,1.8 -0.8,0.4 0,0 Z" fill="url(#mouseg)"/><path d="M0,0 C0.8,0.4 1.6,1.8 2.1,3.2 C2.6,4.5 3.2,5.4 4.1,5.9 C4.8,6.4 4.8,8 4.1,8.9 C4.6,10.5 5.4,13 5.8,16 C6.3,19.5 6.8,23 6.6,26 C6.4,28.5 4.5,30.6 0,31.2 C-4.5,30.6 -6.4,28.5 -6.6,26 C-6.8,23 -6.3,19.5 -5.8,16 C-5.4,13 -4.6,10.5 -4.1,8.9 C-4.8,8 -4.8,6.4 -4.1,5.9 C-3.2,5.4 -2.6,4.5 -2.1,3.2 C-1.6,1.8 -0.8,0.4 0,0 Z" fill="url(#mouseedge)"/><ellipse cx="-3.2" cy="7.6" rx="1.2" ry="1.2" fill="#8c8c8c" opacity="0.6"/><ellipse cx="3.2" cy="7.6" rx="1.2" ry="1.2" fill="#8c8c8c" opacity="0.6"/><ellipse cx="0" cy="19" rx="3.5" ry="6" fill="#fff" opacity="0.5"/></g>
<g transform="translate(120.4 253.6) scale(0.930 1.000)" filter="url(#blur05)"><path d="M-4,29 L-7,33 M-2,30 L-3,33.5 M4,29 L7,33 M2,30 L3,33.5" stroke="#9a9a9a" stroke-width="0.8" fill="none"/><path d="M0,0 C0.8,0.4 1.6,1.8 2.1,3.2 C2.6,4.5 3.2,5.4 4.1,5.9 C4.8,6.4 4.8,8 4.1,8.9 C4.6,10.5 5.4,13 5.8,16 C6.3,19.5 6.8,23 6.6,26 C6.4,28.5 4.5,30.6 0,31.2 C-4.5,30.6 -6.4,28.5 -6.6,26 C-6.8,23 -6.3,19.5 -5.8,16 C-5.4,13 -4.6,10.5 -4.1,8.9 C-4.8,8 -4.8,6.4 -4.1,5.9 C-3.2,5.4 -2.6,4.5 -2.1,3.2 C-1.6,1.8 -0.8,0.4 0,0 Z" fill="url(#mouseg)"/><path d="M0,0 C0.8,0.4 1.6,1.8 2.1,3.2 C2.6,4.5 3.2,5.4 4.1,5.9 C4.8,6.4 4.8,8 4.1,8.9 C4.6,10.5 5.4,13 5.8,16 C6.3,19.5 6.8,23 6.6,26 C6.4,28.5 4.5,30.6 0,31.2 C-4.5,30.6 -6.4,28.5 -6.6,26 C-6.8,23 -6.3,19.5 -5.8,16 C-5.4,13 -4.6,10.5 -4.1,8.9 C-4.8,8 -4.8,6.4 -4.1,5.9 C-3.2,5.4 -2.6,4.5 -2.1,3.2 C-1.6,1.8 -0.8,0.4 0,0 Z" fill="url(#mouseedge)"/><ellipse cx="-3.2" cy="7.6" rx="1.2" ry="1.2" fill="#8c8c8c" opacity="0.6"/><ellipse cx="3.2" cy="7.6" rx="1.2" ry="1.2" fill="#8c8c8c" opacity="0.6"/><ellipse cx="0" cy="19" rx="3.5" ry="6" fill="#fff" opacity="0.5"/></g>
</g>
<clipPath id="clip129_252"><rect x="129.4" y="252.8" width="62.900000000000006" height="34.39999999999998"/></clipPath>
<g clip-path="url(#clip129_252)">
<rect x="129.4" y="252.8" width="62.900000000000006" height="34.39999999999998" fill="#2c2c2c"/>
<g opacity="0.7"><rect x="130.9" y="252.8" width="1.1" height="34.39999999999998" fill="#1b1b1b"/><rect x="133.5" y="252.8" width="1.1" height="34.39999999999998" fill="#1b1b1b"/><rect x="136.1" y="252.8" width="1.1" height="34.39999999999998" fill="#1b1b1b"/><rect x="138.7" y="252.8" width="1.1" height="34.39999999999998" fill="#1b1b1b"/><rect x="141.3" y="252.8" width="1.1" height="34.39999999999998" fill="#1b1b1b"/><rect x="143.9" y="252.8" width="1.1" height="34.39999999999998" fill="#1b1b1b"/><rect x="146.5" y="252.8" width="1.1" height="34.39999999999998" fill="#1b1b1b"/><rect x="149.1" y="252.8" width="1.1" height="34.39999999999998" fill="#1b1b1b"/><rect x="151.7" y="252.8" width="1.1" height="34.39999999999998" fill="#1b1b1b"/><rect x="154.3" y="252.8" width="1.1" height="34.39999999999998" fill="#1b1b1b"/><rect x="156.9" y="252.8" width="1.1" height="34.39999999999998" fill="#1b1b1b"/><rect x="159.5" y="252.8" width="1.1" height="34.39999999999998" fill="#1b1b1b"/><rect x="162.1" y="252.8" width="1.1" height="34.39999999999998" fill="#1b1b1b"/><rect x="164.7" y="252.8" width="1.1" height="34.39999999999998" fill="#1b1b1b"/><rect x="167.3" y="252.8" width="1.1" height="34.39999999999998" fill="#1b1b1b"/><rect x="169.9" y="252.8" width="1.1" height="34.39999999999998" fill="#1b1b1b"/><rect x="172.5" y="252.8" width="1.1" height="34.39999999999998" fill="#1b1b1b"/><rect x="175.1" y="252.8" width="1.1" height="34.39999999999998" fill="#1b1b1b"/><rect x="177.7" y="252.8" width="1.1" height="34.39999999999998" fill="#1b1b1b"/><rect x="180.3" y="252.8" width="1.1" height="34.39999999999998" fill="#1b1b1b"/><rect x="182.9" y="252.8" width="1.1" height="34.39999999999998" fill="#1b1b1b"/><rect x="185.5" y="252.8" width="1.1" height="34.39999999999998" fill="#1b1b1b"/><rect x="188.1" y="252.8" width="1.1" height="34.39999999999998" fill="#1b1b1b"/><rect x="190.7" y="252.8" width="1.1" height="34.39999999999998" fill="#1b1b1b"/></g>
<g transform="translate(137.6 253.6) scale(0.930 1.000)" filter="url(#blur05)"><path d="M-4,29 L-7,33 M-2,30 L-3,33.5 M4,29 L7,33 M2,30 L3,33.5" stroke="#9a9a9a" stroke-width="0.8" fill="none"/><path d="M0,0 C0.8,0.4 1.6,1.8 2.1,3.2 C2.6,4.5 3.2,5.4 4.1,5.9 C4.8,6.4 4.8,8 4.1,8.9 C4.6,10.5 5.4,13 5.8,16 C6.3,19.5 6.8,23 6.6,26 C6.4,28.5 4.5,30.6 0,31.2 C-4.5,30.6 -6.4,28.5 -6.6,26 C-6.8,23 -6.3,19.5 -5.8,16 C-5.4,13 -4.6,10.5 -4.1,8.9 C-4.8,8 -4.8,6.4 -4.1,5.9 C-3.2,5.4 -2.6,4.5 -2.1,3.2 C-1.6,1.8 -0.8,0.4 0,0 Z" fill="url(#mouseg)"/><path d="M0,0 C0.8,0.4 1.6,1.8 2.1,3.2 C2.6,4.5 3.2,5.4 4.1,5.9 C4.8,6.4 4.8,8 4.1,8.9 C4.6,10.5 5.4,13 5.8,16 C6.3,19.5 6.8,23 6.6,26 C6.4,28.5 4.5,30.6 0,31.2 C-4.5,30.6 -6.4,28.5 -6.6,26 C-6.8,23 -6.3,19.5 -5.8,16 C-5.4,13 -4.6,10.5 -4.1,8.9 C-4.8,8 -4.8,6.4 -4.1,5.9 C-3.2,5.4 -2.6,4.5 -2.1,3.2 C-1.6,1.8 -0.8,0.4 0,0 Z" fill="url(#mouseedge)"/><ellipse cx="-3.2" cy="7.6" rx="1.2" ry="1.2" fill="#8c8c8c" opacity="0.6"/><ellipse cx="3.2" cy="7.6" rx="1.2" ry="1.2" fill="#8c8c8c" opacity="0.6"/><ellipse cx="0" cy="19" rx="3.5" ry="6" fill="#fff" opacity="0.5"/></g>
<g transform="translate(152.0 253.6) scale(0.930 1.000)" filter="url(#blur05)"><path d="M-4,29 L-7,33 M-2,30 L-3,33.5 M4,29 L7,33 M2,30 L3,33.5" stroke="#9a9a9a" stroke-width="0.8" fill="none"/><path d="M0,0 C0.8,0.4 1.6,1.8 2.1,3.2 C2.6,4.5 3.2,5.4 4.1,5.9 C4.8,6.4 4.8,8 4.1,8.9 C4.6,10.5 5.4,13 5.8,16 C6.3,19.5 6.8,23 6.6,26 C6.4,28.5 4.5,30.6 0,31.2 C-4.5,30.6 -6.4,28.5 -6.6,26 C-6.8,23 -6.3,19.5 -5.8,16 C-5.4,13 -4.6,10.5 -4.1,8.9 C-4.8,8 -4.8,6.4 -4.1,5.9 C-3.2,5.4 -2.6,4.5 -2.1,3.2 C-1.6,1.8 -0.8,0.4 0,0 Z" fill="url(#mouseg)"/><path d="M0,0 C0.8,0.4 1.6,1.8 2.1,3.2 C2.6,4.5 3.2,5.4 4.1,5.9 C4.8,6.4 4.8,8 4.1,8.9 C4.6,10.5 5.4,13 5.8,16 C6.3,19.5 6.8,23 6.6,26 C6.4,28.5 4.5,30.6 0,31.2 C-4.5,30.6 -6.4,28.5 -6.6,26 C-6.8,23 -6.3,19.5 -5.8,16 C-5.4,13 -4.6,10.5 -4.1,8.9 C-4.8,8 -4.8,6.4 -4.1,5.9 C-3.2,5.4 -2.6,4.5 -2.1,3.2 C-1.6,1.8 -0.8,0.4 0,0 Z" fill="url(#mouseedge)"/><ellipse cx="-3.2" cy="7.6" rx="1.2" ry="1.2" fill="#8c8c8c" opacity="0.6"/><ellipse cx="3.2" cy="7.6" rx="1.2" ry="1.2" fill="#8c8c8c" opacity="0.6"/><ellipse cx="0" cy="19" rx="3.5" ry="6" fill="#fff" opacity="0.5"/></g>
<g transform="translate(167.8 253.6) scale(0.930 1.000)" filter="url(#blur05)"><path d="M-4,29 L-7,33 M-2,30 L-3,33.5 M4,29 L7,33 M2,30 L3,33.5" stroke="#9a9a9a" stroke-width="0.8" fill="none"/><path d="M0,0 C0.8,0.4 1.6,1.8 2.1,3.2 C2.6,4.5 3.2,5.4 4.1,5.9 C4.8,6.4 4.8,8 4.1,8.9 C4.6,10.5 5.4,13 5.8,16 C6.3,19.5 6.8,23 6.6,26 C6.4,28.5 4.5,30.6 0,31.2 C-4.5,30.6 -6.4,28.5 -6.6,26 C-6.8,23 -6.3,19.5 -5.8,16 C-5.4,13 -4.6,10.5 -4.1,8.9 C-4.8,8 -4.8,6.4 -4.1,5.9 C-3.2,5.4 -2.6,4.5 -2.1,3.2 C-1.6,1.8 -0.8,0.4 0,0 Z" fill="url(#mouseg)"/><path d="M0,0 C0.8,0.4 1.6,1.8 2.1,3.2 C2.6,4.5 3.2,5.4 4.1,5.9 C4.8,6.4 4.8,8 4.1,8.9 C4.6,10.5 5.4,13 5.8,16 C6.3,19.5 6.8,23 6.6,26 C6.4,28.5 4.5,30.6 0,31.2 C-4.5,30.6 -6.4,28.5 -6.6,26 C-6.8,23 -6.3,19.5 -5.8,16 C-5.4,13 -4.6,10.5 -4.1,8.9 C-4.8,8 -4.8,6.4 -4.1,5.9 C-3.2,5.4 -2.6,4.5 -2.1,3.2 C-1.6,1.8 -0.8,0.4 0,0 Z" fill="url(#mouseedge)"/><ellipse cx="-3.2" cy="7.6" rx="1.2" ry="1.2" fill="#8c8c8c" opacity="0.6"/><ellipse cx="3.2" cy="7.6" rx="1.2" ry="1.2" fill="#8c8c8c" opacity="0.6"/><ellipse cx="0" cy="19" rx="3.5" ry="6" fill="#fff" opacity="0.5"/></g>
<g transform="translate(183.4 253.6) scale(0.930 1.000)" filter="url(#blur05)"><path d="M-4,29 L-7,33 M-2,30 L-3,33.5 M4,29 L7,33 M2,30 L3,33.5" stroke="#9a9a9a" stroke-width="0.8" fill="none"/><path d="M0,0 C0.8,0.4 1.6,1.8 2.1,3.2 C2.6,4.5 3.2,5.4 4.1,5.9 C4.8,6.4 4.8,8 4.1,8.9 C4.6,10.5 5.4,13 5.8,16 C6.3,19.5 6.8,23 6.6,26 C6.4,28.5 4.5,30.6 0,31.2 C-4.5,30.6 -6.4,28.5 -6.6,26 C-6.8,23 -6.3,19.5 -5.8,16 C-5.4,13 -4.6,10.5 -4.1,8.9 C-4.8,8 -4.8,6.4 -4.1,5.9 C-3.2,5.4 -2.6,4.5 -2.1,3.2 C-1.6,1.8 -0.8,0.4 0,0 Z" fill="url(#mouseg)"/><path d="M0,0 C0.8,0.4 1.6,1.8 2.1,3.2 C2.6,4.5 3.2,5.4 4.1,5.9 C4.8,6.4 4.8,8 4.1,8.9 C4.6,10.5 5.4,13 5.8,16 C6.3,19.5 6.8,23 6.6,26 C6.4,28.5 4.5,30.6 0,31.2 C-4.5,30.6 -6.4,28.5 -6.6,26 C-6.8,23 -6.3,19.5 -5.8,16 C-5.4,13 -4.6,10.5 -4.1,8.9 C-4.8,8 -4.8,6.4 -4.1,5.9 C-3.2,5.4 -2.6,4.5 -2.1,3.2 C-1.6,1.8 -0.8,0.4 0,0 Z" fill="url(#mouseedge)"/><ellipse cx="-3.2" cy="7.6" rx="1.2" ry="1.2" fill="#8c8c8c" opacity="0.6"/><ellipse cx="3.2" cy="7.6" rx="1.2" ry="1.2" fill="#8c8c8c" opacity="0.6"/><ellipse cx="0" cy="19" rx="3.5" ry="6" fill="#fff" opacity="0.5"/></g>
</g>
<clipPath id="clip196_252"><rect x="196.9" y="252.8" width="65.9" height="34.39999999999998"/></clipPath>
<g clip-path="url(#clip196_252)">
<rect x="196.9" y="252.8" width="65.9" height="34.39999999999998" fill="#2c2c2c"/>
<g opacity="0.7"><rect x="198.4" y="252.8" width="1.1" height="34.39999999999998" fill="#1b1b1b"/><rect x="201.0" y="252.8" width="1.1" height="34.39999999999998" fill="#1b1b1b"/><rect x="203.6" y="252.8" width="1.1" height="34.39999999999998" fill="#1b1b1b"/><rect x="206.2" y="252.8" width="1.1" height="34.39999999999998" fill="#1b1b1b"/><rect x="208.8" y="252.8" width="1.1" height="34.39999999999998" fill="#1b1b1b"/><rect x="211.4" y="252.8" width="1.1" height="34.39999999999998" fill="#1b1b1b"/><rect x="214.0" y="252.8" width="1.1" height="34.39999999999998" fill="#1b1b1b"/><rect x="216.6" y="252.8" width="1.1" height="34.39999999999998" fill="#1b1b1b"/><rect x="219.2" y="252.8" width="1.1" height="34.39999999999998" fill="#1b1b1b"/><rect x="221.8" y="252.8" width="1.1" height="34.39999999999998" fill="#1b1b1b"/><rect x="224.4" y="252.8" width="1.1" height="34.39999999999998" fill="#1b1b1b"/><rect x="227.0" y="252.8" width="1.1" height="34.39999999999998" fill="#1b1b1b"/><rect x="229.6" y="252.8" width="1.1" height="34.39999999999998" fill="#1b1b1b"/><rect x="232.2" y="252.8" width="1.1" height="34.39999999999998" fill="#1b1b1b"/><rect x="234.8" y="252.8" width="1.1" height="34.39999999999998" fill="#1b1b1b"/><rect x="237.4" y="252.8" width="1.1" height="34.39999999999998" fill="#1b1b1b"/><rect x="240.0" y="252.8" width="1.1" height="34.39999999999998" fill="#1b1b1b"/><rect x="242.6" y="252.8" width="1.1" height="34.39999999999998" fill="#1b1b1b"/><rect x="245.2" y="252.8" width="1.1" height="34.39999999999998" fill="#1b1b1b"/><rect x="247.8" y="252.8" width="1.1" height="34.39999999999998" fill="#1b1b1b"/><rect x="250.4" y="252.8" width="1.1" height="34.39999999999998" fill="#1b1b1b"/><rect x="253.0" y="252.8" width="1.1" height="34.39999999999998" fill="#1b1b1b"/><rect x="255.6" y="252.8" width="1.1" height="34.39999999999998" fill="#1b1b1b"/><rect x="258.2" y="252.8" width="1.1" height="34.39999999999998" fill="#1b1b1b"/><rect x="260.8" y="252.8" width="1.1" height="34.39999999999998" fill="#1b1b1b"/></g>
<g transform="translate(205.6 253.6) scale(0.930 1.000)" filter="url(#blur05)"><path d="M-4,29 L-7,33 M-2,30 L-3,33.5 M4,29 L7,33 M2,30 L3,33.5" stroke="#9a9a9a" stroke-width="0.8" fill="none"/><path d="M0,0 C0.8,0.4 1.6,1.8 2.1,3.2 C2.6,4.5 3.2,5.4 4.1,5.9 C4.8,6.4 4.8,8 4.1,8.9 C4.6,10.5 5.4,13 5.8,16 C6.3,19.5 6.8,23 6.6,26 C6.4,28.5 4.5,30.6 0,31.2 C-4.5,30.6 -6.4,28.5 -6.6,26 C-6.8,23 -6.3,19.5 -5.8,16 C-5.4,13 -4.6,10.5 -4.1,8.9 C-4.8,8 -4.8,6.4 -4.1,5.9 C-3.2,5.4 -2.6,4.5 -2.1,3.2 C-1.6,1.8 -0.8,0.4 0,0 Z" fill="url(#mouseg)"/><path d="M0,0 C0.8,0.4 1.6,1.8 2.1,3.2 C2.6,4.5 3.2,5.4 4.1,5.9 C4.8,6.4 4.8,8 4.1,8.9 C4.6,10.5 5.4,13 5.8,16 C6.3,19.5 6.8,23 6.6,26 C6.4,28.5 4.5,30.6 0,31.2 C-4.5,30.6 -6.4,28.5 -6.6,26 C-6.8,23 -6.3,19.5 -5.8,16 C-5.4,13 -4.6,10.5 -4.1,8.9 C-4.8,8 -4.8,6.4 -4.1,5.9 C-3.2,5.4 -2.6,4.5 -2.1,3.2 C-1.6,1.8 -0.8,0.4 0,0 Z" fill="url(#mouseedge)"/><ellipse cx="-3.2" cy="7.6" rx="1.2" ry="1.2" fill="#8c8c8c" opacity="0.6"/><ellipse cx="3.2" cy="7.6" rx="1.2" ry="1.2" fill="#8c8c8c" opacity="0.6"/><ellipse cx="0" cy="19" rx="3.5" ry="6" fill="#fff" opacity="0.5"/></g>
<g transform="translate(221.2 253.6) scale(0.930 1.000)" filter="url(#blur05)"><path d="M-4,29 L-7,33 M-2,30 L-3,33.5 M4,29 L7,33 M2,30 L3,33.5" stroke="#9a9a9a" stroke-width="0.8" fill="none"/><path d="M0,0 C0.8,0.4 1.6,1.8 2.1,3.2 C2.6,4.5 3.2,5.4 4.1,5.9 C4.8,6.4 4.8,8 4.1,8.9 C4.6,10.5 5.4,13 5.8,16 C6.3,19.5 6.8,23 6.6,26 C6.4,28.5 4.5,30.6 0,31.2 C-4.5,30.6 -6.4,28.5 -6.6,26 C-6.8,23 -6.3,19.5 -5.8,16 C-5.4,13 -4.6,10.5 -4.1,8.9 C-4.8,8 -4.8,6.4 -4.1,5.9 C-3.2,5.4 -2.6,4.5 -2.1,3.2 C-1.6,1.8 -0.8,0.4 0,0 Z" fill="url(#mouseg)"/><path d="M0,0 C0.8,0.4 1.6,1.8 2.1,3.2 C2.6,4.5 3.2,5.4 4.1,5.9 C4.8,6.4 4.8,8 4.1,8.9 C4.6,10.5 5.4,13 5.8,16 C6.3,19.5 6.8,23 6.6,26 C6.4,28.5 4.5,30.6 0,31.2 C-4.5,30.6 -6.4,28.5 -6.6,26 C-6.8,23 -6.3,19.5 -5.8,16 C-5.4,13 -4.6,10.5 -4.1,8.9 C-4.8,8 -4.8,6.4 -4.1,5.9 C-3.2,5.4 -2.6,4.5 -2.1,3.2 C-1.6,1.8 -0.8,0.4 0,0 Z" fill="url(#mouseedge)"/><ellipse cx="-3.2" cy="7.6" rx="1.2" ry="1.2" fill="#8c8c8c" opacity="0.6"/><ellipse cx="3.2" cy="7.6" rx="1.2" ry="1.2" fill="#8c8c8c" opacity="0.6"/><ellipse cx="0" cy="19" rx="3.5" ry="6" fill="#fff" opacity="0.5"/></g>
<g transform="translate(237.4 253.6) scale(0.930 1.000)" filter="url(#blur05)"><path d="M-4,29 L-7,33 M-2,30 L-3,33.5 M4,29 L7,33 M2,30 L3,33.5" stroke="#9a9a9a" stroke-width="0.8" fill="none"/><path d="M0,0 C0.8,0.4 1.6,1.8 2.1,3.2 C2.6,4.5 3.2,5.4 4.1,5.9 C4.8,6.4 4.8,8 4.1,8.9 C4.6,10.5 5.4,13 5.8,16 C6.3,19.5 6.8,23 6.6,26 C6.4,28.5 4.5,30.6 0,31.2 C-4.5,30.6 -6.4,28.5 -6.6,26 C-6.8,23 -6.3,19.5 -5.8,16 C-5.4,13 -4.6,10.5 -4.1,8.9 C-4.8,8 -4.8,6.4 -4.1,5.9 C-3.2,5.4 -2.6,4.5 -2.1,3.2 C-1.6,1.8 -0.8,0.4 0,0 Z" fill="url(#mouseg)"/><path d="M0,0 C0.8,0.4 1.6,1.8 2.1,3.2 C2.6,4.5 3.2,5.4 4.1,5.9 C4.8,6.4 4.8,8 4.1,8.9 C4.6,10.5 5.4,13 5.8,16 C6.3,19.5 6.8,23 6.6,26 C6.4,28.5 4.5,30.6 0,31.2 C-4.5,30.6 -6.4,28.5 -6.6,26 C-6.8,23 -6.3,19.5 -5.8,16 C-5.4,13 -4.6,10.5 -4.1,8.9 C-4.8,8 -4.8,6.4 -4.1,5.9 C-3.2,5.4 -2.6,4.5 -2.1,3.2 C-1.6,1.8 -0.8,0.4 0,0 Z" fill="url(#mouseedge)"/><ellipse cx="-3.2" cy="7.6" rx="1.2" ry="1.2" fill="#8c8c8c" opacity="0.6"/><ellipse cx="3.2" cy="7.6" rx="1.2" ry="1.2" fill="#8c8c8c" opacity="0.6"/><ellipse cx="0" cy="19" rx="3.5" ry="6" fill="#fff" opacity="0.5"/></g>
<g transform="translate(253.2 253.6) scale(0.930 1.000)" filter="url(#blur05)"><path d="M-4,29 L-7,33 M-2,30 L-3,33.5 M4,29 L7,33 M2,30 L3,33.5" stroke="#9a9a9a" stroke-width="0.8" fill="none"/><path d="M0,0 C0.8,0.4 1.6,1.8 2.1,3.2 C2.6,4.5 3.2,5.4 4.1,5.9 C4.8,6.4 4.8,8 4.1,8.9 C4.6,10.5 5.4,13 5.8,16 C6.3,19.5 6.8,23 6.6,26 C6.4,28.5 4.5,30.6 0,31.2 C-4.5,30.6 -6.4,28.5 -6.6,26 C-6.8,23 -6.3,19.5 -5.8,16 C-5.4,13 -4.6,10.5 -4.1,8.9 C-4.8,8 -4.8,6.4 -4.1,5.9 C-3.2,5.4 -2.6,4.5 -2.1,3.2 C-1.6,1.8 -0.8,0.4 0,0 Z" fill="url(#mouseg)"/><path d="M0,0 C0.8,0.4 1.6,1.8 2.1,3.2 C2.6,4.5 3.2,5.4 4.1,5.9 C4.8,6.4 4.8,8 4.1,8.9 C4.6,10.5 5.4,13 5.8,16 C6.3,19.5 6.8,23 6.6,26 C6.4,28.5 4.5,30.6 0,31.2 C-4.5,30.6 -6.4,28.5 -6.6,26 C-6.8,23 -6.3,19.5 -5.8,16 C-5.4,13 -4.6,10.5 -4.1,8.9 C-4.8,8 -4.8,6.4 -4.1,5.9 C-3.2,5.4 -2.6,4.5 -2.1,3.2 C-1.6,1.8 -0.8,0.4 0,0 Z" fill="url(#mouseedge)"/><ellipse cx="-3.2" cy="7.6" rx="1.2" ry="1.2" fill="#8c8c8c" opacity="0.6"/><ellipse cx="3.2" cy="7.6" rx="1.2" ry="1.2" fill="#8c8c8c" opacity="0.6"/><ellipse cx="0" cy="19" rx="3.5" ry="6" fill="#fff" opacity="0.5"/></g>
<g filter="url(#blur05)">
<circle cx="201" cy="281.6" r="2.4" fill="#6a00ff"/>
<circle cx="211.2" cy="279" r="2.5" fill="#6a00ff"/>
<circle cx="215.2" cy="279.3" r="1.3" fill="#6a00ff"/>
<circle cx="228" cy="278.7" r="1.6" fill="#6a00ff"/>
<circle cx="232" cy="277.6" r="1.8" fill="#6a00ff"/>
<circle cx="243.7" cy="277.6" r="2.2" fill="#6a00ff"/>
<circle cx="247.2" cy="278.7" r="1.0" fill="#6a00ff"/>
<circle cx="260.3" cy="278.7" r="1.0" fill="#6a00ff"/>
</g>
</g>
<clipPath id="clip269_252"><rect x="269.1" y="252.8" width="58.099999999999966" height="34.39999999999998"/></clipPath>
<g clip-path="url(#clip269_252)">
<rect x="269.1" y="252.8" width="58.099999999999966" height="34.39999999999998" fill="#2c2c2c"/>
<g opacity="0.7"><rect x="270.6" y="252.8" width="1.1" height="34.39999999999998" fill="#1b1b1b"/><rect x="273.2" y="252.8" width="1.1" height="34.39999999999998" fill="#1b1b1b"/><rect x="275.8" y="252.8" width="1.1" height="34.39999999999998" fill="#1b1b1b"/><rect x="278.4" y="252.8" width="1.1" height="34.39999999999998" fill="#1b1b1b"/><rect x="281.0" y="252.8" width="1.1" height="34.39999999999998" fill="#1b1b1b"/><rect x="283.6" y="252.8" width="1.1" height="34.39999999999998" fill="#1b1b1b"/><rect x="286.2" y="252.8" width="1.1" height="34.39999999999998" fill="#1b1b1b"/><rect x="288.8" y="252.8" width="1.1" height="34.39999999999998" fill="#1b1b1b"/><rect x="291.4" y="252.8" width="1.1" height="34.39999999999998" fill="#1b1b1b"/><rect x="294.0" y="252.8" width="1.1" height="34.39999999999998" fill="#1b1b1b"/><rect x="296.6" y="252.8" width="1.1" height="34.39999999999998" fill="#1b1b1b"/><rect x="299.2" y="252.8" width="1.1" height="34.39999999999998" fill="#1b1b1b"/><rect x="301.8" y="252.8" width="1.1" height="34.39999999999998" fill="#1b1b1b"/><rect x="304.4" y="252.8" width="1.1" height="34.39999999999998" fill="#1b1b1b"/><rect x="307.0" y="252.8" width="1.1" height="34.39999999999998" fill="#1b1b1b"/><rect x="309.6" y="252.8" width="1.1" height="34.39999999999998" fill="#1b1b1b"/><rect x="312.2" y="252.8" width="1.1" height="34.39999999999998" fill="#1b1b1b"/><rect x="314.8" y="252.8" width="1.1" height="34.39999999999998" fill="#1b1b1b"/><rect x="317.4" y="252.8" width="1.1" height="34.39999999999998" fill="#1b1b1b"/><rect x="320.0" y="252.8" width="1.1" height="34.39999999999998" fill="#1b1b1b"/><rect x="322.6" y="252.8" width="1.1" height="34.39999999999998" fill="#1b1b1b"/><rect x="325.2" y="252.8" width="1.1" height="34.39999999999998" fill="#1b1b1b"/></g>
<g transform="translate(276.3 253.6) scale(0.930 1.000)" filter="url(#blur05)"><path d="M-4,29 L-7,33 M-2,30 L-3,33.5 M4,29 L7,33 M2,30 L3,33.5" stroke="#9a9a9a" stroke-width="0.8" fill="none"/><path d="M0,0 C0.8,0.4 1.6,1.8 2.1,3.2 C2.6,4.5 3.2,5.4 4.1,5.9 C4.8,6.4 4.8,8 4.1,8.9 C4.6,10.5 5.4,13 5.8,16 C6.3,19.5 6.8,23 6.6,26 C6.4,28.5 4.5,30.6 0,31.2 C-4.5,30.6 -6.4,28.5 -6.6,26 C-6.8,23 -6.3,19.5 -5.8,16 C-5.4,13 -4.6,10.5 -4.1,8.9 C-4.8,8 -4.8,6.4 -4.1,5.9 C-3.2,5.4 -2.6,4.5 -2.1,3.2 C-1.6,1.8 -0.8,0.4 0,0 Z" fill="url(#mouseg)"/><path d="M0,0 C0.8,0.4 1.6,1.8 2.1,3.2 C2.6,4.5 3.2,5.4 4.1,5.9 C4.8,6.4 4.8,8 4.1,8.9 C4.6,10.5 5.4,13 5.8,16 C6.3,19.5 6.8,23 6.6,26 C6.4,28.5 4.5,30.6 0,31.2 C-4.5,30.6 -6.4,28.5 -6.6,26 C-6.8,23 -6.3,19.5 -5.8,16 C-5.4,13 -4.6,10.5 -4.1,8.9 C-4.8,8 -4.8,6.4 -4.1,5.9 C-3.2,5.4 -2.6,4.5 -2.1,3.2 C-1.6,1.8 -0.8,0.4 0,0 Z" fill="url(#mouseedge)"/><ellipse cx="-3.2" cy="7.6" rx="1.2" ry="1.2" fill="#8c8c8c" opacity="0.6"/><ellipse cx="3.2" cy="7.6" rx="1.2" ry="1.2" fill="#8c8c8c" opacity="0.6"/><ellipse cx="0" cy="19" rx="3.5" ry="6" fill="#fff" opacity="0.5"/></g>
<g transform="translate(290.0 253.6) scale(0.930 1.000)" filter="url(#blur05)"><path d="M-4,29 L-7,33 M-2,30 L-3,33.5 M4,29 L7,33 M2,30 L3,33.5" stroke="#9a9a9a" stroke-width="0.8" fill="none"/><path d="M0,0 C0.8,0.4 1.6,1.8 2.1,3.2 C2.6,4.5 3.2,5.4 4.1,5.9 C4.8,6.4 4.8,8 4.1,8.9 C4.6,10.5 5.4,13 5.8,16 C6.3,19.5 6.8,23 6.6,26 C6.4,28.5 4.5,30.6 0,31.2 C-4.5,30.6 -6.4,28.5 -6.6,26 C-6.8,23 -6.3,19.5 -5.8,16 C-5.4,13 -4.6,10.5 -4.1,8.9 C-4.8,8 -4.8,6.4 -4.1,5.9 C-3.2,5.4 -2.6,4.5 -2.1,3.2 C-1.6,1.8 -0.8,0.4 0,0 Z" fill="url(#mouseg)"/><path d="M0,0 C0.8,0.4 1.6,1.8 2.1,3.2 C2.6,4.5 3.2,5.4 4.1,5.9 C4.8,6.4 4.8,8 4.1,8.9 C4.6,10.5 5.4,13 5.8,16 C6.3,19.5 6.8,23 6.6,26 C6.4,28.5 4.5,30.6 0,31.2 C-4.5,30.6 -6.4,28.5 -6.6,26 C-6.8,23 -6.3,19.5 -5.8,16 C-5.4,13 -4.6,10.5 -4.1,8.9 C-4.8,8 -4.8,6.4 -4.1,5.9 C-3.2,5.4 -2.6,4.5 -2.1,3.2 C-1.6,1.8 -0.8,0.4 0,0 Z" fill="url(#mouseedge)"/><ellipse cx="-3.2" cy="7.6" rx="1.2" ry="1.2" fill="#8c8c8c" opacity="0.6"/><ellipse cx="3.2" cy="7.6" rx="1.2" ry="1.2" fill="#8c8c8c" opacity="0.6"/><ellipse cx="0" cy="19" rx="3.5" ry="6" fill="#fff" opacity="0.5"/></g>
<g transform="translate(304.5 253.6) scale(0.930 1.000)" filter="url(#blur05)"><path d="M-4,29 L-7,33 M-2,30 L-3,33.5 M4,29 L7,33 M2,30 L3,33.5" stroke="#9a9a9a" stroke-width="0.8" fill="none"/><path d="M0,0 C0.8,0.4 1.6,1.8 2.1,3.2 C2.6,4.5 3.2,5.4 4.1,5.9 C4.8,6.4 4.8,8 4.1,8.9 C4.6,10.5 5.4,13 5.8,16 C6.3,19.5 6.8,23 6.6,26 C6.4,28.5 4.5,30.6 0,31.2 C-4.5,30.6 -6.4,28.5 -6.6,26 C-6.8,23 -6.3,19.5 -5.8,16 C-5.4,13 -4.6,10.5 -4.1,8.9 C-4.8,8 -4.8,6.4 -4.1,5.9 C-3.2,5.4 -2.6,4.5 -2.1,3.2 C-1.6,1.8 -0.8,0.4 0,0 Z" fill="url(#mouseg)"/><path d="M0,0 C0.8,0.4 1.6,1.8 2.1,3.2 C2.6,4.5 3.2,5.4 4.1,5.9 C4.8,6.4 4.8,8 4.1,8.9 C4.6,10.5 5.4,13 5.8,16 C6.3,19.5 6.8,23 6.6,26 C6.4,28.5 4.5,30.6 0,31.2 C-4.5,30.6 -6.4,28.5 -6.6,26 C-6.8,23 -6.3,19.5 -5.8,16 C-5.4,13 -4.6,10.5 -4.1,8.9 C-4.8,8 -4.8,6.4 -4.1,5.9 C-3.2,5.4 -2.6,4.5 -2.1,3.2 C-1.6,1.8 -0.8,0.4 0,0 Z" fill="url(#mouseedge)"/><ellipse cx="-3.2" cy="7.6" rx="1.2" ry="1.2" fill="#8c8c8c" opacity="0.6"/><ellipse cx="3.2" cy="7.6" rx="1.2" ry="1.2" fill="#8c8c8c" opacity="0.6"/><ellipse cx="0" cy="19" rx="3.5" ry="6" fill="#fff" opacity="0.5"/></g>
<g transform="translate(318.7 253.6) scale(0.930 1.000)" filter="url(#blur05)"><path d="M-4,29 L-7,33 M-2,30 L-3,33.5 M4,29 L7,33 M2,30 L3,33.5" stroke="#9a9a9a" stroke-width="0.8" fill="none"/><path d="M0,0 C0.8,0.4 1.6,1.8 2.1,3.2 C2.6,4.5 3.2,5.4 4.1,5.9 C4.8,6.4 4.8,8 4.1,8.9 C4.6,10.5 5.4,13 5.8,16 C6.3,19.5 6.8,23 6.6,26 C6.4,28.5 4.5,30.6 0,31.2 C-4.5,30.6 -6.4,28.5 -6.6,26 C-6.8,23 -6.3,19.5 -5.8,16 C-5.4,13 -4.6,10.5 -4.1,8.9 C-4.8,8 -4.8,6.4 -4.1,5.9 C-3.2,5.4 -2.6,4.5 -2.1,3.2 C-1.6,1.8 -0.8,0.4 0,0 Z" fill="url(#mouseg)"/><path d="M0,0 C0.8,0.4 1.6,1.8 2.1,3.2 C2.6,4.5 3.2,5.4 4.1,5.9 C4.8,6.4 4.8,8 4.1,8.9 C4.6,10.5 5.4,13 5.8,16 C6.3,19.5 6.8,23 6.6,26 C6.4,28.5 4.5,30.6 0,31.2 C-4.5,30.6 -6.4,28.5 -6.6,26 C-6.8,23 -6.3,19.5 -5.8,16 C-5.4,13 -4.6,10.5 -4.1,8.9 C-4.8,8 -4.8,6.4 -4.1,5.9 C-3.2,5.4 -2.6,4.5 -2.1,3.2 C-1.6,1.8 -0.8,0.4 0,0 Z" fill="url(#mouseedge)"/><ellipse cx="-3.2" cy="7.6" rx="1.2" ry="1.2" fill="#8c8c8c" opacity="0.6"/><ellipse cx="3.2" cy="7.6" rx="1.2" ry="1.2" fill="#8c8c8c" opacity="0.6"/><ellipse cx="0" cy="19" rx="3.5" ry="6" fill="#fff" opacity="0.5"/></g>
<g filter="url(#blur05)"><ellipse cx="276.3" cy="266" rx="1.8" ry="1.7" fill="#6a00ff"/><ellipse cx="276.3" cy="280.5" rx="6.5" ry="4.5" fill="#6a00ff"/><circle cx="271.3" cy="279.5" r="1.8" fill="#1a3cff"/><circle cx="271.3" cy="279.5" r="0.90" fill="#30a8ff"/><circle cx="281.2" cy="279" r="1.8" fill="#1a3cff"/><circle cx="281.2" cy="279" r="0.90" fill="#30a8ff"/><ellipse cx="289.2" cy="267.2" rx="1.2" ry="1.2" fill="#6a00ff"/><ellipse cx="292.8" cy="263" rx="1.5" ry="1.5" fill="#6a00ff"/><ellipse cx="290" cy="279.5" rx="6.25" ry="4.25" fill="#6a00ff"/><circle cx="284.8" cy="277" r="1.6" fill="#1a3cff"/><circle cx="284.8" cy="277" r="0.80" fill="#30a8ff"/><circle cx="294" cy="278.3" r="1.6" fill="#1a3cff"/><circle cx="294" cy="278.3" r="0.80" fill="#30a8ff"/><ellipse cx="304.2" cy="262.6" rx="3.5" ry="1.4" fill="#6a00ff"/><ellipse cx="304" cy="268.5" rx="0.7" ry="0.7" fill="#6a00ff"/><ellipse cx="304" cy="279" rx="6.5" ry="4.25" fill="#6a00ff"/><circle cx="298.8" cy="279" r="1.6" fill="#1a3cff"/><circle cx="298.8" cy="279" r="0.80" fill="#30a8ff"/><circle cx="308.8" cy="277.7" r="1.6" fill="#1a3cff"/><circle cx="308.8" cy="277.7" r="0.80" fill="#30a8ff"/><ellipse cx="318.7" cy="266" rx="1.3" ry="1.3" fill="#6a00ff"/><ellipse cx="314.6" cy="280.2" rx="3.0" ry="2.75" fill="#6a00ff"/><ellipse cx="323.6" cy="280.2" rx="2.0" ry="2.0" fill="#6a00ff"/></g>
</g>
<clipPath id="clip329_252"><rect x="329.3" y="252.8" width="56.69999999999999" height="34.39999999999998"/></clipPath>
<g clip-path="url(#clip329_252)">
<rect x="329.3" y="252.8" width="56.69999999999999" height="34.39999999999998" fill="#2c2c2c"/>
<g opacity="0.7"><rect x="330.8" y="252.8" width="1.1" height="34.39999999999998" fill="#1b1b1b"/><rect x="333.4" y="252.8" width="1.1" height="34.39999999999998" fill="#1b1b1b"/><rect x="336.0" y="252.8" width="1.1" height="34.39999999999998" fill="#1b1b1b"/><rect x="338.6" y="252.8" width="1.1" height="34.39999999999998" fill="#1b1b1b"/><rect x="341.2" y="252.8" width="1.1" height="34.39999999999998" fill="#1b1b1b"/><rect x="343.8" y="252.8" width="1.1" height="34.39999999999998" fill="#1b1b1b"/><rect x="346.4" y="252.8" width="1.1" height="34.39999999999998" fill="#1b1b1b"/><rect x="349.0" y="252.8" width="1.1" height="34.39999999999998" fill="#1b1b1b"/><rect x="351.6" y="252.8" width="1.1" height="34.39999999999998" fill="#1b1b1b"/><rect x="354.2" y="252.8" width="1.1" height="34.39999999999998" fill="#1b1b1b"/><rect x="356.8" y="252.8" width="1.1" height="34.39999999999998" fill="#1b1b1b"/><rect x="359.4" y="252.8" width="1.1" height="34.39999999999998" fill="#1b1b1b"/><rect x="362.0" y="252.8" width="1.1" height="34.39999999999998" fill="#1b1b1b"/><rect x="364.6" y="252.8" width="1.1" height="34.39999999999998" fill="#1b1b1b"/><rect x="367.2" y="252.8" width="1.1" height="34.39999999999998" fill="#1b1b1b"/><rect x="369.8" y="252.8" width="1.1" height="34.39999999999998" fill="#1b1b1b"/><rect x="372.4" y="252.8" width="1.1" height="34.39999999999998" fill="#1b1b1b"/><rect x="375.0" y="252.8" width="1.1" height="34.39999999999998" fill="#1b1b1b"/><rect x="377.6" y="252.8" width="1.1" height="34.39999999999998" fill="#1b1b1b"/><rect x="380.2" y="252.8" width="1.1" height="34.39999999999998" fill="#1b1b1b"/><rect x="382.8" y="252.8" width="1.1" height="34.39999999999998" fill="#1b1b1b"/><rect x="385.4" y="252.8" width="1.1" height="34.39999999999998" fill="#1b1b1b"/></g>
<g transform="translate(337.0 253.6) scale(0.930 1.000)" filter="url(#blur05)"><path d="M-4,29 L-7,33 M-2,30 L-3,33.5 M4,29 L7,33 M2,30 L3,33.5" stroke="#9a9a9a" stroke-width="0.8" fill="none"/><path d="M0,0 C0.8,0.4 1.6,1.8 2.1,3.2 C2.6,4.5 3.2,5.4 4.1,5.9 C4.8,6.4 4.8,8 4.1,8.9 C4.6,10.5 5.4,13 5.8,16 C6.3,19.5 6.8,23 6.6,26 C6.4,28.5 4.5,30.6 0,31.2 C-4.5,30.6 -6.4,28.5 -6.6,26 C-6.8,23 -6.3,19.5 -5.8,16 C-5.4,13 -4.6,10.5 -4.1,8.9 C-4.8,8 -4.8,6.4 -4.1,5.9 C-3.2,5.4 -2.6,4.5 -2.1,3.2 C-1.6,1.8 -0.8,0.4 0,0 Z" fill="url(#mouseg)"/><path d="M0,0 C0.8,0.4 1.6,1.8 2.1,3.2 C2.6,4.5 3.2,5.4 4.1,5.9 C4.8,6.4 4.8,8 4.1,8.9 C4.6,10.5 5.4,13 5.8,16 C6.3,19.5 6.8,23 6.6,26 C6.4,28.5 4.5,30.6 0,31.2 C-4.5,30.6 -6.4,28.5 -6.6,26 C-6.8,23 -6.3,19.5 -5.8,16 C-5.4,13 -4.6,10.5 -4.1,8.9 C-4.8,8 -4.8,6.4 -4.1,5.9 C-3.2,5.4 -2.6,4.5 -2.1,3.2 C-1.6,1.8 -0.8,0.4 0,0 Z" fill="url(#mouseedge)"/><ellipse cx="-3.2" cy="7.6" rx="1.2" ry="1.2" fill="#8c8c8c" opacity="0.6"/><ellipse cx="3.2" cy="7.6" rx="1.2" ry="1.2" fill="#8c8c8c" opacity="0.6"/><ellipse cx="0" cy="19" rx="3.5" ry="6" fill="#fff" opacity="0.5"/></g>
<g transform="translate(351.2 253.6) scale(0.930 1.000)" filter="url(#blur05)"><path d="M-4,29 L-7,33 M-2,30 L-3,33.5 M4,29 L7,33 M2,30 L3,33.5" stroke="#9a9a9a" stroke-width="0.8" fill="none"/><path d="M0,0 C0.8,0.4 1.6,1.8 2.1,3.2 C2.6,4.5 3.2,5.4 4.1,5.9 C4.8,6.4 4.8,8 4.1,8.9 C4.6,10.5 5.4,13 5.8,16 C6.3,19.5 6.8,23 6.6,26 C6.4,28.5 4.5,30.6 0,31.2 C-4.5,30.6 -6.4,28.5 -6.6,26 C-6.8,23 -6.3,19.5 -5.8,16 C-5.4,13 -4.6,10.5 -4.1,8.9 C-4.8,8 -4.8,6.4 -4.1,5.9 C-3.2,5.4 -2.6,4.5 -2.1,3.2 C-1.6,1.8 -0.8,0.4 0,0 Z" fill="url(#mouseg)"/><path d="M0,0 C0.8,0.4 1.6,1.8 2.1,3.2 C2.6,4.5 3.2,5.4 4.1,5.9 C4.8,6.4 4.8,8 4.1,8.9 C4.6,10.5 5.4,13 5.8,16 C6.3,19.5 6.8,23 6.6,26 C6.4,28.5 4.5,30.6 0,31.2 C-4.5,30.6 -6.4,28.5 -6.6,26 C-6.8,23 -6.3,19.5 -5.8,16 C-5.4,13 -4.6,10.5 -4.1,8.9 C-4.8,8 -4.8,6.4 -4.1,5.9 C-3.2,5.4 -2.6,4.5 -2.1,3.2 C-1.6,1.8 -0.8,0.4 0,0 Z" fill="url(#mouseedge)"/><ellipse cx="-3.2" cy="7.6" rx="1.2" ry="1.2" fill="#8c8c8c" opacity="0.6"/><ellipse cx="3.2" cy="7.6" rx="1.2" ry="1.2" fill="#8c8c8c" opacity="0.6"/><ellipse cx="0" cy="19" rx="3.5" ry="6" fill="#fff" opacity="0.5"/></g>
<g transform="translate(365.8 253.6) scale(0.930 1.000)" filter="url(#blur05)"><path d="M-4,29 L-7,33 M-2,30 L-3,33.5 M4,29 L7,33 M2,30 L3,33.5" stroke="#9a9a9a" stroke-width="0.8" fill="none"/><path d="M0,0 C0.8,0.4 1.6,1.8 2.1,3.2 C2.6,4.5 3.2,5.4 4.1,5.9 C4.8,6.4 4.8,8 4.1,8.9 C4.6,10.5 5.4,13 5.8,16 C6.3,19.5 6.8,23 6.6,26 C6.4,28.5 4.5,30.6 0,31.2 C-4.5,30.6 -6.4,28.5 -6.6,26 C-6.8,23 -6.3,19.5 -5.8,16 C-5.4,13 -4.6,10.5 -4.1,8.9 C-4.8,8 -4.8,6.4 -4.1,5.9 C-3.2,5.4 -2.6,4.5 -2.1,3.2 C-1.6,1.8 -0.8,0.4 0,0 Z" fill="url(#mouseg)"/><path d="M0,0 C0.8,0.4 1.6,1.8 2.1,3.2 C2.6,4.5 3.2,5.4 4.1,5.9 C4.8,6.4 4.8,8 4.1,8.9 C4.6,10.5 5.4,13 5.8,16 C6.3,19.5 6.8,23 6.6,26 C6.4,28.5 4.5,30.6 0,31.2 C-4.5,30.6 -6.4,28.5 -6.6,26 C-6.8,23 -6.3,19.5 -5.8,16 C-5.4,13 -4.6,10.5 -4.1,8.9 C-4.8,8 -4.8,6.4 -4.1,5.9 C-3.2,5.4 -2.6,4.5 -2.1,3.2 C-1.6,1.8 -0.8,0.4 0,0 Z" fill="url(#mouseedge)"/><ellipse cx="-3.2" cy="7.6" rx="1.2" ry="1.2" fill="#8c8c8c" opacity="0.6"/><ellipse cx="3.2" cy="7.6" rx="1.2" ry="1.2" fill="#8c8c8c" opacity="0.6"/><ellipse cx="0" cy="19" rx="3.5" ry="6" fill="#fff" opacity="0.5"/></g>
<g transform="translate(379.4 253.6) scale(0.930 1.000)" filter="url(#blur05)"><path d="M-4,29 L-7,33 M-2,30 L-3,33.5 M4,29 L7,33 M2,30 L3,33.5" stroke="#9a9a9a" stroke-width="0.8" fill="none"/><path d="M0,0 C0.8,0.4 1.6,1.8 2.1,3.2 C2.6,4.5 3.2,5.4 4.1,5.9 C4.8,6.4 4.8,8 4.1,8.9 C4.6,10.5 5.4,13 5.8,16 C6.3,19.5 6.8,23 6.6,26 C6.4,28.5 4.5,30.6 0,31.2 C-4.5,30.6 -6.4,28.5 -6.6,26 C-6.8,23 -6.3,19.5 -5.8,16 C-5.4,13 -4.6,10.5 -4.1,8.9 C-4.8,8 -4.8,6.4 -4.1,5.9 C-3.2,5.4 -2.6,4.5 -2.1,3.2 C-1.6,1.8 -0.8,0.4 0,0 Z" fill="url(#mouseg)"/><path d="M0,0 C0.8,0.4 1.6,1.8 2.1,3.2 C2.6,4.5 3.2,5.4 4.1,5.9 C4.8,6.4 4.8,8 4.1,8.9 C4.6,10.5 5.4,13 5.8,16 C6.3,19.5 6.8,23 6.6,26 C6.4,28.5 4.5,30.6 0,31.2 C-4.5,30.6 -6.4,28.5 -6.6,26 C-6.8,23 -6.3,19.5 -5.8,16 C-5.4,13 -4.6,10.5 -4.1,8.9 C-4.8,8 -4.8,6.4 -4.1,5.9 C-3.2,5.4 -2.6,4.5 -2.1,3.2 C-1.6,1.8 -0.8,0.4 0,0 Z" fill="url(#mouseedge)"/><ellipse cx="-3.2" cy="7.6" rx="1.2" ry="1.2" fill="#8c8c8c" opacity="0.6"/><ellipse cx="3.2" cy="7.6" rx="1.2" ry="1.2" fill="#8c8c8c" opacity="0.6"/><ellipse cx="0" cy="19" rx="3.5" ry="6" fill="#fff" opacity="0.5"/></g>
<g filter="url(#blur05)"><ellipse cx="338" cy="259.2" rx="0.9" ry="0.9" fill="#6a00ff"/><ellipse cx="335.6" cy="267.2" rx="2.5" ry="2.5" fill="#6a00ff"/><ellipse cx="337" cy="281" rx="6.5" ry="5.0" fill="#6a00ff"/><circle cx="332" cy="280.2" r="1.8" fill="#1a3cff"/><circle cx="332" cy="280.2" r="0.90" fill="#30a8ff"/><circle cx="341.8" cy="279" r="1.6" fill="#1a3cff"/><circle cx="341.8" cy="279" r="0.80" fill="#30a8ff"/><ellipse cx="349.8" cy="267.2" rx="1.0" ry="1.0" fill="#6a00ff"/><ellipse cx="347.3" cy="278.3" rx="3.0" ry="3.0" fill="#6a00ff"/><ellipse cx="355.9" cy="277.7" rx="3.0" ry="3.0" fill="#6a00ff"/><ellipse cx="365.5" cy="263.5" rx="4.0" ry="3.0" fill="#6a00ff"/><ellipse cx="365.5" cy="267.5" rx="1.5" ry="2.0" fill="#6a00ff"/><ellipse cx="366" cy="279.8" rx="6.5" ry="5.0" fill="#6a00ff"/><circle cx="361.5" cy="279.5" r="1.8" fill="#1a3cff"/><circle cx="361.5" cy="279.5" r="0.90" fill="#30a8ff"/><circle cx="370.7" cy="276.5" r="1.6" fill="#1a3cff"/><circle cx="370.7" cy="276.5" r="0.80" fill="#30a8ff"/><ellipse cx="378.7" cy="262.3" rx="0.9" ry="0.9" fill="#6a00ff"/><ellipse cx="381.2" cy="266" rx="0.9" ry="0.9" fill="#6a00ff"/><ellipse cx="379" cy="278.6" rx="6.0" ry="3.5" fill="#6a00ff"/></g>
</g>
<clipPath id="clip388_252"><rect x="388.1" y="252.8" width="65.19999999999999" height="34.39999999999998"/></clipPath>
<g clip-path="url(#clip388_252)">
<rect x="388.1" y="252.8" width="65.19999999999999" height="34.39999999999998" fill="#2c2c2c"/>
<g opacity="0.7"><rect x="389.6" y="252.8" width="1.1" height="34.39999999999998" fill="#1b1b1b"/><rect x="392.2" y="252.8" width="1.1" height="34.39999999999998" fill="#1b1b1b"/><rect x="394.8" y="252.8" width="1.1" height="34.39999999999998" fill="#1b1b1b"/><rect x="397.4" y="252.8" width="1.1" height="34.39999999999998" fill="#1b1b1b"/><rect x="400.0" y="252.8" width="1.1" height="34.39999999999998" fill="#1b1b1b"/><rect x="402.6" y="252.8" width="1.1" height="34.39999999999998" fill="#1b1b1b"/><rect x="405.2" y="252.8" width="1.1" height="34.39999999999998" fill="#1b1b1b"/><rect x="407.8" y="252.8" width="1.1" height="34.39999999999998" fill="#1b1b1b"/><rect x="410.4" y="252.8" width="1.1" height="34.39999999999998" fill="#1b1b1b"/><rect x="413.0" y="252.8" width="1.1" height="34.39999999999998" fill="#1b1b1b"/><rect x="415.6" y="252.8" width="1.1" height="34.39999999999998" fill="#1b1b1b"/><rect x="418.2" y="252.8" width="1.1" height="34.39999999999998" fill="#1b1b1b"/><rect x="420.8" y="252.8" width="1.1" height="34.39999999999998" fill="#1b1b1b"/><rect x="423.4" y="252.8" width="1.1" height="34.39999999999998" fill="#1b1b1b"/><rect x="426.0" y="252.8" width="1.1" height="34.39999999999998" fill="#1b1b1b"/><rect x="428.6" y="252.8" width="1.1" height="34.39999999999998" fill="#1b1b1b"/><rect x="431.2" y="252.8" width="1.1" height="34.39999999999998" fill="#1b1b1b"/><rect x="433.8" y="252.8" width="1.1" height="34.39999999999998" fill="#1b1b1b"/><rect x="436.4" y="252.8" width="1.1" height="34.39999999999998" fill="#1b1b1b"/><rect x="439.0" y="252.8" width="1.1" height="34.39999999999998" fill="#1b1b1b"/><rect x="441.6" y="252.8" width="1.1" height="34.39999999999998" fill="#1b1b1b"/><rect x="444.2" y="252.8" width="1.1" height="34.39999999999998" fill="#1b1b1b"/><rect x="446.8" y="252.8" width="1.1" height="34.39999999999998" fill="#1b1b1b"/><rect x="449.4" y="252.8" width="1.1" height="34.39999999999998" fill="#1b1b1b"/><rect x="452.0" y="252.8" width="1.1" height="34.39999999999998" fill="#1b1b1b"/></g>
<g transform="translate(400.2 253.6) scale(0.930 1.000)" filter="url(#blur05)"><path d="M-4,29 L-7,33 M-2,30 L-3,33.5 M4,29 L7,33 M2,30 L3,33.5" stroke="#9a9a9a" stroke-width="0.8" fill="none"/><path d="M0,0 C0.8,0.4 1.6,1.8 2.1,3.2 C2.6,4.5 3.2,5.4 4.1,5.9 C4.8,6.4 4.8,8 4.1,8.9 C4.6,10.5 5.4,13 5.8,16 C6.3,19.5 6.8,23 6.6,26 C6.4,28.5 4.5,30.6 0,31.2 C-4.5,30.6 -6.4,28.5 -6.6,26 C-6.8,23 -6.3,19.5 -5.8,16 C-5.4,13 -4.6,10.5 -4.1,8.9 C-4.8,8 -4.8,6.4 -4.1,5.9 C-3.2,5.4 -2.6,4.5 -2.1,3.2 C-1.6,1.8 -0.8,0.4 0,0 Z" fill="url(#mouseg)"/><path d="M0,0 C0.8,0.4 1.6,1.8 2.1,3.2 C2.6,4.5 3.2,5.4 4.1,5.9 C4.8,6.4 4.8,8 4.1,8.9 C4.6,10.5 5.4,13 5.8,16 C6.3,19.5 6.8,23 6.6,26 C6.4,28.5 4.5,30.6 0,31.2 C-4.5,30.6 -6.4,28.5 -6.6,26 C-6.8,23 -6.3,19.5 -5.8,16 C-5.4,13 -4.6,10.5 -4.1,8.9 C-4.8,8 -4.8,6.4 -4.1,5.9 C-3.2,5.4 -2.6,4.5 -2.1,3.2 C-1.6,1.8 -0.8,0.4 0,0 Z" fill="url(#mouseedge)"/><ellipse cx="-3.2" cy="7.6" rx="1.2" ry="1.2" fill="#8c8c8c" opacity="0.6"/><ellipse cx="3.2" cy="7.6" rx="1.2" ry="1.2" fill="#8c8c8c" opacity="0.6"/><ellipse cx="0" cy="19" rx="3.5" ry="6" fill="#fff" opacity="0.5"/></g>
<g transform="translate(413.0 253.6) scale(0.930 1.000)" filter="url(#blur05)"><path d="M-4,29 L-7,33 M-2,30 L-3,33.5 M4,29 L7,33 M2,30 L3,33.5" stroke="#9a9a9a" stroke-width="0.8" fill="none"/><path d="M0,0 C0.8,0.4 1.6,1.8 2.1,3.2 C2.6,4.5 3.2,5.4 4.1,5.9 C4.8,6.4 4.8,8 4.1,8.9 C4.6,10.5 5.4,13 5.8,16 C6.3,19.5 6.8,23 6.6,26 C6.4,28.5 4.5,30.6 0,31.2 C-4.5,30.6 -6.4,28.5 -6.6,26 C-6.8,23 -6.3,19.5 -5.8,16 C-5.4,13 -4.6,10.5 -4.1,8.9 C-4.8,8 -4.8,6.4 -4.1,5.9 C-3.2,5.4 -2.6,4.5 -2.1,3.2 C-1.6,1.8 -0.8,0.4 0,0 Z" fill="url(#mouseg)"/><path d="M0,0 C0.8,0.4 1.6,1.8 2.1,3.2 C2.6,4.5 3.2,5.4 4.1,5.9 C4.8,6.4 4.8,8 4.1,8.9 C4.6,10.5 5.4,13 5.8,16 C6.3,19.5 6.8,23 6.6,26 C6.4,28.5 4.5,30.6 0,31.2 C-4.5,30.6 -6.4,28.5 -6.6,26 C-6.8,23 -6.3,19.5 -5.8,16 C-5.4,13 -4.6,10.5 -4.1,8.9 C-4.8,8 -4.8,6.4 -4.1,5.9 C-3.2,5.4 -2.6,4.5 -2.1,3.2 C-1.6,1.8 -0.8,0.4 0,0 Z" fill="url(#mouseedge)"/><ellipse cx="-3.2" cy="7.6" rx="1.2" ry="1.2" fill="#8c8c8c" opacity="0.6"/><ellipse cx="3.2" cy="7.6" rx="1.2" ry="1.2" fill="#8c8c8c" opacity="0.6"/><ellipse cx="0" cy="19" rx="3.5" ry="6" fill="#fff" opacity="0.5"/></g>
<g transform="translate(427.8 253.6) scale(0.930 1.000)" filter="url(#blur05)"><path d="M-4,29 L-7,33 M-2,30 L-3,33.5 M4,29 L7,33 M2,30 L3,33.5" stroke="#9a9a9a" stroke-width="0.8" fill="none"/><path d="M0,0 C0.8,0.4 1.6,1.8 2.1,3.2 C2.6,4.5 3.2,5.4 4.1,5.9 C4.8,6.4 4.8,8 4.1,8.9 C4.6,10.5 5.4,13 5.8,16 C6.3,19.5 6.8,23 6.6,26 C6.4,28.5 4.5,30.6 0,31.2 C-4.5,30.6 -6.4,28.5 -6.6,26 C-6.8,23 -6.3,19.5 -5.8,16 C-5.4,13 -4.6,10.5 -4.1,8.9 C-4.8,8 -4.8,6.4 -4.1,5.9 C-3.2,5.4 -2.6,4.5 -2.1,3.2 C-1.6,1.8 -0.8,0.4 0,0 Z" fill="url(#mouseg)"/><path d="M0,0 C0.8,0.4 1.6,1.8 2.1,3.2 C2.6,4.5 3.2,5.4 4.1,5.9 C4.8,6.4 4.8,8 4.1,8.9 C4.6,10.5 5.4,13 5.8,16 C6.3,19.5 6.8,23 6.6,26 C6.4,28.5 4.5,30.6 0,31.2 C-4.5,30.6 -6.4,28.5 -6.6,26 C-6.8,23 -6.3,19.5 -5.8,16 C-5.4,13 -4.6,10.5 -4.1,8.9 C-4.8,8 -4.8,6.4 -4.1,5.9 C-3.2,5.4 -2.6,4.5 -2.1,3.2 C-1.6,1.8 -0.8,0.4 0,0 Z" fill="url(#mouseedge)"/><ellipse cx="-3.2" cy="7.6" rx="1.2" ry="1.2" fill="#8c8c8c" opacity="0.6"/><ellipse cx="3.2" cy="7.6" rx="1.2" ry="1.2" fill="#8c8c8c" opacity="0.6"/><ellipse cx="0" cy="19" rx="3.5" ry="6" fill="#fff" opacity="0.5"/></g>
<g transform="translate(444.0 253.6) scale(0.930 1.000)" filter="url(#blur05)"><path d="M-4,29 L-7,33 M-2,30 L-3,33.5 M4,29 L7,33 M2,30 L3,33.5" stroke="#9a9a9a" stroke-width="0.8" fill="none"/><path d="M0,0 C0.8,0.4 1.6,1.8 2.1,3.2 C2.6,4.5 3.2,5.4 4.1,5.9 C4.8,6.4 4.8,8 4.1,8.9 C4.6,10.5 5.4,13 5.8,16 C6.3,19.5 6.8,23 6.6,26 C6.4,28.5 4.5,30.6 0,31.2 C-4.5,30.6 -6.4,28.5 -6.6,26 C-6.8,23 -6.3,19.5 -5.8,16 C-5.4,13 -4.6,10.5 -4.1,8.9 C-4.8,8 -4.8,6.4 -4.1,5.9 C-3.2,5.4 -2.6,4.5 -2.1,3.2 C-1.6,1.8 -0.8,0.4 0,0 Z" fill="url(#mouseg)"/><path d="M0,0 C0.8,0.4 1.6,1.8 2.1,3.2 C2.6,4.5 3.2,5.4 4.1,5.9 C4.8,6.4 4.8,8 4.1,8.9 C4.6,10.5 5.4,13 5.8,16 C6.3,19.5 6.8,23 6.6,26 C6.4,28.5 4.5,30.6 0,31.2 C-4.5,30.6 -6.4,28.5 -6.6,26 C-6.8,23 -6.3,19.5 -5.8,16 C-5.4,13 -4.6,10.5 -4.1,8.9 C-4.8,8 -4.8,6.4 -4.1,5.9 C-3.2,5.4 -2.6,4.5 -2.1,3.2 C-1.6,1.8 -0.8,0.4 0,0 Z" fill="url(#mouseedge)"/><ellipse cx="-3.2" cy="7.6" rx="1.2" ry="1.2" fill="#8c8c8c" opacity="0.6"/><ellipse cx="3.2" cy="7.6" rx="1.2" ry="1.2" fill="#8c8c8c" opacity="0.6"/><ellipse cx="0" cy="19" rx="3.5" ry="6" fill="#fff" opacity="0.5"/></g>
<g filter="url(#blur05)"><g transform="translate(400.2 253.6)"><path d="M0,0 C0.8,0.4 1.6,1.8 2.1,3.2 C2.6,4.5 3.2,5.4 4.1,5.9 C4.8,6.4 4.8,8 4.1,8.9 C4.6,10.5 5.4,13 5.8,16 C6.3,19.5 6.8,23 6.6,26 C6.4,28.5 4.5,30.6 0,31.2 C-4.5,30.6 -6.4,28.5 -6.6,26 C-6.8,23 -6.3,19.5 -5.8,16 C-5.4,13 -4.6,10.5 -4.1,8.9 C-4.8,8 -4.8,6.4 -4.1,5.9 C-3.2,5.4 -2.6,4.5 -2.1,3.2 C-1.6,1.8 -0.8,0.4 0,0 Z" fill="#6a00ff"/></g><g transform="translate(413.0 253.6)"><path d="M0,0 C0.8,0.4 1.6,1.8 2.1,3.2 C2.6,4.5 3.2,5.4 4.1,5.9 C4.8,6.4 4.8,8 4.1,8.9 C4.6,10.5 5.4,13 5.8,16 C6.3,19.5 6.8,23 6.6,26 C6.4,28.5 4.5,30.6 0,31.2 C-4.5,30.6 -6.4,28.5 -6.6,26 C-6.8,23 -6.3,19.5 -5.8,16 C-5.4,13 -4.6,10.5 -4.1,8.9 C-4.8,8 -4.8,6.4 -4.1,5.9 C-3.2,5.4 -2.6,4.5 -2.1,3.2 C-1.6,1.8 -0.8,0.4 0,0 Z" fill="#6a00ff"/></g><g transform="translate(427.8 253.6)"><path d="M0,0 C0.8,0.4 1.6,1.8 2.1,3.2 C2.6,4.5 3.2,5.4 4.1,5.9 C4.8,6.4 4.8,8 4.1,8.9 C4.6,10.5 5.4,13 5.8,16 C6.3,19.5 6.8,23 6.6,26 C6.4,28.5 4.5,30.6 0,31.2 C-4.5,30.6 -6.4,28.5 -6.6,26 C-6.8,23 -6.3,19.5 -5.8,16 C-5.4,13 -4.6,10.5 -4.1,8.9 C-4.8,8 -4.8,6.4 -4.1,5.9 C-3.2,5.4 -2.6,4.5 -2.1,3.2 C-1.6,1.8 -0.8,0.4 0,0 Z" fill="#6a00ff"/></g><g transform="translate(444.0 253.6)"><path d="M0,0 C0.8,0.4 1.6,1.8 2.1,3.2 C2.6,4.5 3.2,5.4 4.1,5.9 C4.8,6.4 4.8,8 4.1,8.9 C4.6,10.5 5.4,13 5.8,16 C6.3,19.5 6.8,23 6.6,26 C6.4,28.5 4.5,30.6 0,31.2 C-4.5,30.6 -6.4,28.5 -6.6,26 C-6.8,23 -6.3,19.5 -5.8,16 C-5.4,13 -4.6,10.5 -4.1,8.9 C-4.8,8 -4.8,6.4 -4.1,5.9 C-3.2,5.4 -2.6,4.5 -2.1,3.2 C-1.6,1.8 -0.8,0.4 0,0 Z" fill="#6a00ff"/></g><ellipse cx="397.8" cy="263.5" rx="3.6" ry="7.0" fill="#2a10ff"/><ellipse cx="413.0" cy="264" rx="3.4" ry="7.0" fill="#2a10ff"/><ellipse cx="428.0" cy="265" rx="3.4" ry="7.0" fill="#2a10ff"/><ellipse cx="444.5" cy="263.5" rx="3.4" ry="7.0" fill="#2a10ff"/><ellipse cx="396.8" cy="281.0" rx="8.2" ry="5.6" fill="#1a28ff"/><ellipse cx="412.5" cy="280.5" rx="7.8" ry="5.6" fill="#1a28ff"/><ellipse cx="427.0" cy="281.0" rx="8.0" ry="5.6" fill="#1a28ff"/><ellipse cx="443.5" cy="280.5" rx="8.0" ry="5.6" fill="#1a28ff"/><ellipse cx="411.0" cy="274.2" rx="2.8" ry="1.8" fill="#f0f0f0"/><ellipse cx="444.0" cy="273.0" rx="5.4" ry="2.3" fill="#f0f0f0"/><ellipse cx="438.6" cy="266.0" rx="0.5" ry="6.0" fill="#f0f0f0"/><ellipse cx="399.5" cy="258.7" rx="1.80" ry="1.80" fill="#1830ff"/><ellipse cx="396.2" cy="264.2" rx="2.40" ry="2.40" fill="#1830ff"/><ellipse cx="399.5" cy="267.5" rx="1.80" ry="1.80" fill="#1830ff"/><ellipse cx="427.9" cy="263.9" rx="1.40" ry="1.40" fill="#1830ff"/><ellipse cx="427.9" cy="268.3" rx="1.40" ry="1.40" fill="#1830ff"/><ellipse cx="397.0" cy="283.8" rx="4.00" ry="4.00" fill="#1830ff"/><ellipse cx="392.2" cy="280.2" rx="5.60" ry="5.60" fill="#1830ff"/><ellipse cx="401.8" cy="279.8" rx="6.38" ry="5.51" fill="#1830ff"/><ellipse cx="407.3" cy="278.6" rx="4.20" ry="4.20" fill="#1830ff"/><ellipse cx="417.5" cy="278.6" rx="4.20" ry="4.20" fill="#1830ff"/><ellipse cx="412.3" cy="283.0" rx="3.00" ry="3.00" fill="#1830ff"/><ellipse cx="422.6" cy="278.4" rx="4.60" ry="4.60" fill="#1830ff"/><ellipse cx="431.0" cy="279.6" rx="6.90" ry="5.10" fill="#1830ff"/><ellipse cx="421.7" cy="283.2" rx="3.00" ry="3.00" fill="#1830ff"/><ellipse cx="426.5" cy="282.5" rx="3.20" ry="3.20" fill="#1830ff"/><ellipse cx="436.8" cy="279.0" rx="4.40" ry="4.40" fill="#1830ff"/><ellipse cx="440.5" cy="280.4" rx="3.80" ry="3.80" fill="#1830ff"/><ellipse cx="448.7" cy="280.0" rx="4.40" ry="4.40" fill="#1830ff"/><ellipse cx="444" cy="283.5" rx="3.00" ry="3.00" fill="#1830ff"/><ellipse cx="399.5" cy="258.7" rx="1.44" ry="1.44" fill="#00d8ff"/><ellipse cx="396.2" cy="264.2" rx="1.92" ry="1.92" fill="#00d8ff"/><ellipse cx="399.5" cy="267.5" rx="1.44" ry="1.44" fill="#00d8ff"/><ellipse cx="427.9" cy="263.9" rx="1.12" ry="1.12" fill="#00d8ff"/><ellipse cx="427.9" cy="268.3" rx="1.12" ry="1.12" fill="#00d8ff"/><ellipse cx="397.0" cy="283.8" rx="3.20" ry="3.20" fill="#00d8ff"/><ellipse cx="392.2" cy="280.2" rx="4.48" ry="4.48" fill="#00d8ff"/><ellipse cx="401.8" cy="279.8" rx="5.10" ry="4.41" fill="#00d8ff"/><ellipse cx="407.3" cy="278.6" rx="3.36" ry="3.36" fill="#00d8ff"/><ellipse cx="417.5" cy="278.6" rx="3.36" ry="3.36" fill="#00d8ff"/><ellipse cx="412.3" cy="283.0" rx="2.40" ry="2.40" fill="#00d8ff"/><ellipse cx="422.6" cy="278.4" rx="3.68" ry="3.68" fill="#00d8ff"/><ellipse cx="431.0" cy="279.6" rx="5.52" ry="4.08" fill="#00d8ff"/><ellipse cx="421.7" cy="283.2" rx="2.40" ry="2.40" fill="#00d8ff"/><ellipse cx="426.5" cy="282.5" rx="2.56" ry="2.56" fill="#00d8ff"/><ellipse cx="436.8" cy="279.0" rx="3.52" ry="3.52" fill="#00d8ff"/><ellipse cx="440.5" cy="280.4" rx="3.04" ry="3.04" fill="#00d8ff"/><ellipse cx="448.7" cy="280.0" rx="3.52" ry="3.52" fill="#00d8ff"/><ellipse cx="444" cy="283.5" rx="2.40" ry="2.40" fill="#00d8ff"/><ellipse cx="392.2" cy="280.2" rx="3.47" ry="3.47" fill="#20ff60"/><ellipse cx="401.8" cy="279.8" rx="3.96" ry="3.42" fill="#20ff60"/><ellipse cx="407.3" cy="278.6" rx="2.60" ry="2.60" fill="#20ff60"/><ellipse cx="417.5" cy="278.6" rx="2.60" ry="2.60" fill="#20ff60"/><ellipse cx="422.6" cy="278.4" rx="2.85" ry="2.85" fill="#20ff60"/><ellipse cx="431.0" cy="279.6" rx="4.28" ry="3.16" fill="#20ff60"/><ellipse cx="426.5" cy="282.5" rx="1.98" ry="1.98" fill="#20ff60"/><ellipse cx="436.8" cy="279.0" rx="2.73" ry="2.73" fill="#20ff60"/><ellipse cx="440.5" cy="280.4" rx="2.36" ry="2.36" fill="#20ff60"/><ellipse cx="448.7" cy="280.0" rx="2.73" ry="2.73" fill="#20ff60"/><ellipse cx="392.2" cy="280.2" rx="2.58" ry="2.58" fill="#f8ff00"/><ellipse cx="401.8" cy="279.8" rx="2.93" ry="2.53" fill="#f8ff00"/><ellipse cx="407.3" cy="278.6" rx="1.93" ry="1.93" fill="#f8ff00"/><ellipse cx="417.5" cy="278.6" rx="1.93" ry="1.93" fill="#f8ff00"/><ellipse cx="422.6" cy="278.4" rx="2.12" ry="2.12" fill="#f8ff00"/><ellipse cx="431.0" cy="279.6" rx="3.17" ry="2.35" fill="#f8ff00"/><ellipse cx="440.5" cy="280.4" rx="1.75" ry="1.75" fill="#f8ff00"/><ellipse cx="392.2" cy="280.2" rx="1.79" ry="1.79" fill="#ff2000"/><ellipse cx="401.8" cy="279.8" rx="2.04" ry="1.76" fill="#ff2000"/><ellipse cx="431.0" cy="279.6" rx="2.21" ry="1.63" fill="#ff2000"/></g>
</g>
<clipPath id="clip455_252"><rect x="455.5" y="252.8" width="55.80000000000001" height="34.39999999999998"/></clipPath>
<g clip-path="url(#clip455_252)">
<rect x="455.5" y="252.8" width="55.80000000000001" height="34.39999999999998" fill="#2c2c2c"/>
<g opacity="0.7"><rect x="457.0" y="252.8" width="1.1" height="34.39999999999998" fill="#1b1b1b"/><rect x="459.6" y="252.8" width="1.1" height="34.39999999999998" fill="#1b1b1b"/><rect x="462.2" y="252.8" width="1.1" height="34.39999999999998" fill="#1b1b1b"/><rect x="464.8" y="252.8" width="1.1" height="34.39999999999998" fill="#1b1b1b"/><rect x="467.4" y="252.8" width="1.1" height="34.39999999999998" fill="#1b1b1b"/><rect x="470.0" y="252.8" width="1.1" height="34.39999999999998" fill="#1b1b1b"/><rect x="472.6" y="252.8" width="1.1" height="34.39999999999998" fill="#1b1b1b"/><rect x="475.2" y="252.8" width="1.1" height="34.39999999999998" fill="#1b1b1b"/><rect x="477.8" y="252.8" width="1.1" height="34.39999999999998" fill="#1b1b1b"/><rect x="480.4" y="252.8" width="1.1" height="34.39999999999998" fill="#1b1b1b"/><rect x="483.0" y="252.8" width="1.1" height="34.39999999999998" fill="#1b1b1b"/><rect x="485.6" y="252.8" width="1.1" height="34.39999999999998" fill="#1b1b1b"/><rect x="488.2" y="252.8" width="1.1" height="34.39999999999998" fill="#1b1b1b"/><rect x="490.8" y="252.8" width="1.1" height="34.39999999999998" fill="#1b1b1b"/><rect x="493.4" y="252.8" width="1.1" height="34.39999999999998" fill="#1b1b1b"/><rect x="496.0" y="252.8" width="1.1" height="34.39999999999998" fill="#1b1b1b"/><rect x="498.6" y="252.8" width="1.1" height="34.39999999999998" fill="#1b1b1b"/><rect x="501.2" y="252.8" width="1.1" height="34.39999999999998" fill="#1b1b1b"/><rect x="503.8" y="252.8" width="1.1" height="34.39999999999998" fill="#1b1b1b"/><rect x="506.4" y="252.8" width="1.1" height="34.39999999999998" fill="#1b1b1b"/><rect x="509.0" y="252.8" width="1.1" height="34.39999999999998" fill="#1b1b1b"/></g>
<g transform="translate(462.0 253.6) scale(0.930 1.000)" filter="url(#blur05)"><path d="M-4,29 L-7,33 M-2,30 L-3,33.5 M4,29 L7,33 M2,30 L3,33.5" stroke="#9a9a9a" stroke-width="0.8" fill="none"/><path d="M0,0 C0.8,0.4 1.6,1.8 2.1,3.2 C2.6,4.5 3.2,5.4 4.1,5.9 C4.8,6.4 4.8,8 4.1,8.9 C4.6,10.5 5.4,13 5.8,16 C6.3,19.5 6.8,23 6.6,26 C6.4,28.5 4.5,30.6 0,31.2 C-4.5,30.6 -6.4,28.5 -6.6,26 C-6.8,23 -6.3,19.5 -5.8,16 C-5.4,13 -4.6,10.5 -4.1,8.9 C-4.8,8 -4.8,6.4 -4.1,5.9 C-3.2,5.4 -2.6,4.5 -2.1,3.2 C-1.6,1.8 -0.8,0.4 0,0 Z" fill="url(#mouseg)"/><path d="M0,0 C0.8,0.4 1.6,1.8 2.1,3.2 C2.6,4.5 3.2,5.4 4.1,5.9 C4.8,6.4 4.8,8 4.1,8.9 C4.6,10.5 5.4,13 5.8,16 C6.3,19.5 6.8,23 6.6,26 C6.4,28.5 4.5,30.6 0,31.2 C-4.5,30.6 -6.4,28.5 -6.6,26 C-6.8,23 -6.3,19.5 -5.8,16 C-5.4,13 -4.6,10.5 -4.1,8.9 C-4.8,8 -4.8,6.4 -4.1,5.9 C-3.2,5.4 -2.6,4.5 -2.1,3.2 C-1.6,1.8 -0.8,0.4 0,0 Z" fill="url(#mouseedge)"/><ellipse cx="-3.2" cy="7.6" rx="1.2" ry="1.2" fill="#8c8c8c" opacity="0.6"/><ellipse cx="3.2" cy="7.6" rx="1.2" ry="1.2" fill="#8c8c8c" opacity="0.6"/><ellipse cx="0" cy="19" rx="3.5" ry="6" fill="#fff" opacity="0.5"/></g>
<g transform="translate(476.3 253.6) scale(0.930 1.000)" filter="url(#blur05)"><path d="M-4,29 L-7,33 M-2,30 L-3,33.5 M4,29 L7,33 M2,30 L3,33.5" stroke="#9a9a9a" stroke-width="0.8" fill="none"/><path d="M0,0 C0.8,0.4 1.6,1.8 2.1,3.2 C2.6,4.5 3.2,5.4 4.1,5.9 C4.8,6.4 4.8,8 4.1,8.9 C4.6,10.5 5.4,13 5.8,16 C6.3,19.5 6.8,23 6.6,26 C6.4,28.5 4.5,30.6 0,31.2 C-4.5,30.6 -6.4,28.5 -6.6,26 C-6.8,23 -6.3,19.5 -5.8,16 C-5.4,13 -4.6,10.5 -4.1,8.9 C-4.8,8 -4.8,6.4 -4.1,5.9 C-3.2,5.4 -2.6,4.5 -2.1,3.2 C-1.6,1.8 -0.8,0.4 0,0 Z" fill="url(#mouseg)"/><path d="M0,0 C0.8,0.4 1.6,1.8 2.1,3.2 C2.6,4.5 3.2,5.4 4.1,5.9 C4.8,6.4 4.8,8 4.1,8.9 C4.6,10.5 5.4,13 5.8,16 C6.3,19.5 6.8,23 6.6,26 C6.4,28.5 4.5,30.6 0,31.2 C-4.5,30.6 -6.4,28.5 -6.6,26 C-6.8,23 -6.3,19.5 -5.8,16 C-5.4,13 -4.6,10.5 -4.1,8.9 C-4.8,8 -4.8,6.4 -4.1,5.9 C-3.2,5.4 -2.6,4.5 -2.1,3.2 C-1.6,1.8 -0.8,0.4 0,0 Z" fill="url(#mouseedge)"/><ellipse cx="-3.2" cy="7.6" rx="1.2" ry="1.2" fill="#8c8c8c" opacity="0.6"/><ellipse cx="3.2" cy="7.6" rx="1.2" ry="1.2" fill="#8c8c8c" opacity="0.6"/><ellipse cx="0" cy="19" rx="3.5" ry="6" fill="#fff" opacity="0.5"/></g>
<g transform="translate(490.2 253.6) scale(0.930 1.000)" filter="url(#blur05)"><path d="M-4,29 L-7,33 M-2,30 L-3,33.5 M4,29 L7,33 M2,30 L3,33.5" stroke="#9a9a9a" stroke-width="0.8" fill="none"/><path d="M0,0 C0.8,0.4 1.6,1.8 2.1,3.2 C2.6,4.5 3.2,5.4 4.1,5.9 C4.8,6.4 4.8,8 4.1,8.9 C4.6,10.5 5.4,13 5.8,16 C6.3,19.5 6.8,23 6.6,26 C6.4,28.5 4.5,30.6 0,31.2 C-4.5,30.6 -6.4,28.5 -6.6,26 C-6.8,23 -6.3,19.5 -5.8,16 C-5.4,13 -4.6,10.5 -4.1,8.9 C-4.8,8 -4.8,6.4 -4.1,5.9 C-3.2,5.4 -2.6,4.5 -2.1,3.2 C-1.6,1.8 -0.8,0.4 0,0 Z" fill="url(#mouseg)"/><path d="M0,0 C0.8,0.4 1.6,1.8 2.1,3.2 C2.6,4.5 3.2,5.4 4.1,5.9 C4.8,6.4 4.8,8 4.1,8.9 C4.6,10.5 5.4,13 5.8,16 C6.3,19.5 6.8,23 6.6,26 C6.4,28.5 4.5,30.6 0,31.2 C-4.5,30.6 -6.4,28.5 -6.6,26 C-6.8,23 -6.3,19.5 -5.8,16 C-5.4,13 -4.6,10.5 -4.1,8.9 C-4.8,8 -4.8,6.4 -4.1,5.9 C-3.2,5.4 -2.6,4.5 -2.1,3.2 C-1.6,1.8 -0.8,0.4 0,0 Z" fill="url(#mouseedge)"/><ellipse cx="-3.2" cy="7.6" rx="1.2" ry="1.2" fill="#8c8c8c" opacity="0.6"/><ellipse cx="3.2" cy="7.6" rx="1.2" ry="1.2" fill="#8c8c8c" opacity="0.6"/><ellipse cx="0" cy="19" rx="3.5" ry="6" fill="#fff" opacity="0.5"/></g>
<g transform="translate(503.8 253.6) scale(0.930 1.000)" filter="url(#blur05)"><path d="M-4,29 L-7,33 M-2,30 L-3,33.5 M4,29 L7,33 M2,30 L3,33.5" stroke="#9a9a9a" stroke-width="0.8" fill="none"/><path d="M0,0 C0.8,0.4 1.6,1.8 2.1,3.2 C2.6,4.5 3.2,5.4 4.1,5.9 C4.8,6.4 4.8,8 4.1,8.9 C4.6,10.5 5.4,13 5.8,16 C6.3,19.5 6.8,23 6.6,26 C6.4,28.5 4.5,30.6 0,31.2 C-4.5,30.6 -6.4,28.5 -6.6,26 C-6.8,23 -6.3,19.5 -5.8,16 C-5.4,13 -4.6,10.5 -4.1,8.9 C-4.8,8 -4.8,6.4 -4.1,5.9 C-3.2,5.4 -2.6,4.5 -2.1,3.2 C-1.6,1.8 -0.8,0.4 0,0 Z" fill="url(#mouseg)"/><path d="M0,0 C0.8,0.4 1.6,1.8 2.1,3.2 C2.6,4.5 3.2,5.4 4.1,5.9 C4.8,6.4 4.8,8 4.1,8.9 C4.6,10.5 5.4,13 5.8,16 C6.3,19.5 6.8,23 6.6,26 C6.4,28.5 4.5,30.6 0,31.2 C-4.5,30.6 -6.4,28.5 -6.6,26 C-6.8,23 -6.3,19.5 -5.8,16 C-5.4,13 -4.6,10.5 -4.1,8.9 C-4.8,8 -4.8,6.4 -4.1,5.9 C-3.2,5.4 -2.6,4.5 -2.1,3.2 C-1.6,1.8 -0.8,0.4 0,0 Z" fill="url(#mouseedge)"/><ellipse cx="-3.2" cy="7.6" rx="1.2" ry="1.2" fill="#8c8c8c" opacity="0.6"/><ellipse cx="3.2" cy="7.6" rx="1.2" ry="1.2" fill="#8c8c8c" opacity="0.6"/><ellipse cx="0" cy="19" rx="3.5" ry="6" fill="#fff" opacity="0.5"/></g>
<g filter="url(#blur05)"><g transform="translate(462.0 253.6)"><path d="M0,0 C0.8,0.4 1.6,1.8 2.1,3.2 C2.6,4.5 3.2,5.4 4.1,5.9 C4.8,6.4 4.8,8 4.1,8.9 C4.6,10.5 5.4,13 5.8,16 C6.3,19.5 6.8,23 6.6,26 C6.4,28.5 4.5,30.6 0,31.2 C-4.5,30.6 -6.4,28.5 -6.6,26 C-6.8,23 -6.3,19.5 -5.8,16 C-5.4,13 -4.6,10.5 -4.1,8.9 C-4.8,8 -4.8,6.4 -4.1,5.9 C-3.2,5.4 -2.6,4.5 -2.1,3.2 C-1.6,1.8 -0.8,0.4 0,0 Z" fill="#6a00ff"/></g><g transform="translate(476.3 253.6)"><path d="M0,0 C0.8,0.4 1.6,1.8 2.1,3.2 C2.6,4.5 3.2,5.4 4.1,5.9 C4.8,6.4 4.8,8 4.1,8.9 C4.6,10.5 5.4,13 5.8,16 C6.3,19.5 6.8,23 6.6,26 C6.4,28.5 4.5,30.6 0,31.2 C-4.5,30.6 -6.4,28.5 -6.6,26 C-6.8,23 -6.3,19.5 -5.8,16 C-5.4,13 -4.6,10.5 -4.1,8.9 C-4.8,8 -4.8,6.4 -4.1,5.9 C-3.2,5.4 -2.6,4.5 -2.1,3.2 C-1.6,1.8 -0.8,0.4 0,0 Z" fill="#6a00ff"/></g><g transform="translate(490.2 253.6)"><path d="M0,0 C0.8,0.4 1.6,1.8 2.1,3.2 C2.6,4.5 3.2,5.4 4.1,5.9 C4.8,6.4 4.8,8 4.1,8.9 C4.6,10.5 5.4,13 5.8,16 C6.3,19.5 6.8,23 6.6,26 C6.4,28.5 4.5,30.6 0,31.2 C-4.5,30.6 -6.4,28.5 -6.6,26 C-6.8,23 -6.3,19.5 -5.8,16 C-5.4,13 -4.6,10.5 -4.1,8.9 C-4.8,8 -4.8,6.4 -4.1,5.9 C-3.2,5.4 -2.6,4.5 -2.1,3.2 C-1.6,1.8 -0.8,0.4 0,0 Z" fill="#6a00ff"/></g><g transform="translate(503.8 253.6)"><path d="M0,0 C0.8,0.4 1.6,1.8 2.1,3.2 C2.6,4.5 3.2,5.4 4.1,5.9 C4.8,6.4 4.8,8 4.1,8.9 C4.6,10.5 5.4,13 5.8,16 C6.3,19.5 6.8,23 6.6,26 C6.4,28.5 4.5,30.6 0,31.2 C-4.5,30.6 -6.4,28.5 -6.6,26 C-6.8,23 -6.3,19.5 -5.8,16 C-5.4,13 -4.6,10.5 -4.1,8.9 C-4.8,8 -4.8,6.4 -4.1,5.9 C-3.2,5.4 -2.6,4.5 -2.1,3.2 C-1.6,1.8 -0.8,0.4 0,0 Z" fill="#6a00ff"/></g><ellipse cx="462.0" cy="264.0" rx="4.2" ry="7.5" fill="#2a10ff"/><ellipse cx="476.0" cy="261.0" rx="2.6" ry="5.0" fill="#2a10ff"/><ellipse cx="490.0" cy="263.5" rx="3.2" ry="6.5" fill="#2a10ff"/><ellipse cx="505.0" cy="264.0" rx="2.8" ry="6.0" fill="#2a10ff"/><ellipse cx="461.5" cy="280.5" rx="7.6" ry="5.6" fill="#1a28ff"/><ellipse cx="476.3" cy="280.5" rx="7.4" ry="5.6" fill="#1a28ff"/><ellipse cx="490.0" cy="280.0" rx="7.8" ry="5.6" fill="#1a28ff"/><ellipse cx="503.8" cy="280.0" rx="7.4" ry="5.4" fill="#1a28ff"/><ellipse cx="460.3" cy="274.2" rx="3.2" ry="1.4" fill="#f0f0f0"/><ellipse cx="476.2" cy="274.3" rx="3.2" ry="1.5" fill="#f0f0f0"/><ellipse cx="499.4" cy="264.0" rx="0.7" ry="7.0" fill="#f0f0f0"/><ellipse cx="501.5" cy="272.0" rx="2.5" ry="1.5" fill="#f0f0f0"/><ellipse cx="473.6" cy="260.0" rx="0.5" ry="1.5" fill="#f0f0f0"/><ellipse cx="462.5" cy="258.5" rx="2.00" ry="2.00" fill="#1830ff"/><ellipse cx="457.5" cy="278.3" rx="4.20" ry="4.20" fill="#1830ff"/><ellipse cx="464.7" cy="278.3" rx="4.40" ry="4.40" fill="#1830ff"/><ellipse cx="458.0" cy="282.0" rx="3.00" ry="3.00" fill="#1830ff"/><ellipse cx="462.1" cy="284.0" rx="2.80" ry="2.80" fill="#1830ff"/><ellipse cx="465.3" cy="274.8" rx="2.20" ry="2.20" fill="#1830ff"/><ellipse cx="471.9" cy="278.3" rx="3.80" ry="3.80" fill="#1830ff"/><ellipse cx="481.1" cy="277.1" rx="3.04" ry="4.94" fill="#1830ff"/><ellipse cx="477.1" cy="283.5" rx="2.60" ry="2.60" fill="#1830ff"/><ellipse cx="493.0" cy="275.8" rx="4.93" ry="6.67" fill="#1830ff"/><ellipse cx="485.8" cy="277.8" rx="4.40" ry="4.40" fill="#1830ff"/><ellipse cx="489.0" cy="281.8" rx="3.80" ry="3.80" fill="#1830ff"/><ellipse cx="496.5" cy="279.5" rx="3.40" ry="3.40" fill="#1830ff"/><ellipse cx="500.0" cy="279.8" rx="4.00" ry="4.00" fill="#1830ff"/><ellipse cx="507.3" cy="276.8" rx="3.80" ry="3.80" fill="#1830ff"/><ellipse cx="503.5" cy="283.0" rx="3.00" ry="3.00" fill="#1830ff"/><ellipse cx="462.5" cy="258.5" rx="1.60" ry="1.60" fill="#00d8ff"/><ellipse cx="457.5" cy="278.3" rx="3.36" ry="3.36" fill="#00d8ff"/><ellipse cx="464.7" cy="278.3" rx="3.52" ry="3.52" fill="#00d8ff"/><ellipse cx="458.0" cy="282.0" rx="2.40" ry="2.40" fill="#00d8ff"/><ellipse cx="462.1" cy="284.0" rx="2.24" ry="2.24" fill="#00d8ff"/><ellipse cx="465.3" cy="274.8" rx="1.76" ry="1.76" fill="#00d8ff"/><ellipse cx="471.9" cy="278.3" rx="3.04" ry="3.04" fill="#00d8ff"/><ellipse cx="481.1" cy="277.1" rx="2.43" ry="3.95" fill="#00d8ff"/><ellipse cx="477.1" cy="283.5" rx="2.08" ry="2.08" fill="#00d8ff"/><ellipse cx="493.0" cy="275.8" rx="3.94" ry="5.34" fill="#00d8ff"/><ellipse cx="485.8" cy="277.8" rx="3.52" ry="3.52" fill="#00d8ff"/><ellipse cx="489.0" cy="281.8" rx="3.04" ry="3.04" fill="#00d8ff"/><ellipse cx="496.5" cy="279.5" rx="2.72" ry="2.72" fill="#00d8ff"/><ellipse cx="500.0" cy="279.8" rx="3.20" ry="3.20" fill="#00d8ff"/><ellipse cx="507.3" cy="276.8" rx="3.04" ry="3.04" fill="#00d8ff"/><ellipse cx="503.5" cy="283.0" rx="2.40" ry="2.40" fill="#00d8ff"/><ellipse cx="457.5" cy="278.3" rx="2.60" ry="2.60" fill="#20ff60"/><ellipse cx="464.7" cy="278.3" rx="2.73" ry="2.73" fill="#20ff60"/><ellipse cx="471.9" cy="278.3" rx="2.36" ry="2.36" fill="#20ff60"/><ellipse cx="481.1" cy="277.1" rx="1.88" ry="3.06" fill="#20ff60"/><ellipse cx="493.0" cy="275.8" rx="3.06" ry="4.14" fill="#20ff60"/><ellipse cx="485.8" cy="277.8" rx="2.73" ry="2.73" fill="#20ff60"/><ellipse cx="496.5" cy="279.5" rx="2.11" ry="2.11" fill="#20ff60"/><ellipse cx="500.0" cy="279.8" rx="2.48" ry="2.48" fill="#20ff60"/><ellipse cx="464.7" cy="278.3" rx="2.02" ry="2.02" fill="#f8ff00"/><ellipse cx="493.0" cy="275.8" rx="2.27" ry="3.07" fill="#f8ff00"/><ellipse cx="485.8" cy="277.8" rx="2.02" ry="2.02" fill="#f8ff00"/><ellipse cx="500.0" cy="279.8" rx="1.84" ry="1.84" fill="#f8ff00"/><ellipse cx="493.0" cy="275.8" rx="1.58" ry="2.13" fill="#ff2000"/></g>
</g>
<clipPath id="clip67_293"><rect x="67.1" y="293.9" width="59.80000000000001" height="33.900000000000034"/></clipPath>
<g clip-path="url(#clip67_293)">
<rect x="67.1" y="293.9" width="59.80000000000001" height="33.900000000000034" fill="#2c2c2c"/>
<g opacity="0.7"><rect x="68.6" y="293.9" width="1.1" height="33.900000000000034" fill="#1b1b1b"/><rect x="71.2" y="293.9" width="1.1" height="33.900000000000034" fill="#1b1b1b"/><rect x="73.8" y="293.9" width="1.1" height="33.900000000000034" fill="#1b1b1b"/><rect x="76.4" y="293.9" width="1.1" height="33.900000000000034" fill="#1b1b1b"/><rect x="79.0" y="293.9" width="1.1" height="33.900000000000034" fill="#1b1b1b"/><rect x="81.6" y="293.9" width="1.1" height="33.900000000000034" fill="#1b1b1b"/><rect x="84.2" y="293.9" width="1.1" height="33.900000000000034" fill="#1b1b1b"/><rect x="86.8" y="293.9" width="1.1" height="33.900000000000034" fill="#1b1b1b"/><rect x="89.4" y="293.9" width="1.1" height="33.900000000000034" fill="#1b1b1b"/><rect x="92.0" y="293.9" width="1.1" height="33.900000000000034" fill="#1b1b1b"/><rect x="94.6" y="293.9" width="1.1" height="33.900000000000034" fill="#1b1b1b"/><rect x="97.2" y="293.9" width="1.1" height="33.900000000000034" fill="#1b1b1b"/><rect x="99.8" y="293.9" width="1.1" height="33.900000000000034" fill="#1b1b1b"/><rect x="102.4" y="293.9" width="1.1" height="33.900000000000034" fill="#1b1b1b"/><rect x="105.0" y="293.9" width="1.1" height="33.900000000000034" fill="#1b1b1b"/><rect x="107.6" y="293.9" width="1.1" height="33.900000000000034" fill="#1b1b1b"/><rect x="110.2" y="293.9" width="1.1" height="33.900000000000034" fill="#1b1b1b"/><rect x="112.8" y="293.9" width="1.1" height="33.900000000000034" fill="#1b1b1b"/><rect x="115.4" y="293.9" width="1.1" height="33.900000000000034" fill="#1b1b1b"/><rect x="118.0" y="293.9" width="1.1" height="33.900000000000034" fill="#1b1b1b"/><rect x="120.6" y="293.9" width="1.1" height="33.900000000000034" fill="#1b1b1b"/><rect x="123.2" y="293.9" width="1.1" height="33.900000000000034" fill="#1b1b1b"/><rect x="125.8" y="293.9" width="1.1" height="33.900000000000034" fill="#1b1b1b"/></g>
<g transform="translate(74.8 294.7) scale(0.930 1.000)" filter="url(#blur05)"><path d="M-4,29 L-7,33 M-2,30 L-3,33.5 M4,29 L7,33 M2,30 L3,33.5" stroke="#9a9a9a" stroke-width="0.8" fill="none"/><path d="M0,0 C0.8,0.4 1.6,1.8 2.1,3.2 C2.6,4.5 3.2,5.4 4.1,5.9 C4.8,6.4 4.8,8 4.1,8.9 C4.6,10.5 5.4,13 5.8,16 C6.3,19.5 6.8,23 6.6,26 C6.4,28.5 4.5,30.6 0,31.2 C-4.5,30.6 -6.4,28.5 -6.6,26 C-6.8,23 -6.3,19.5 -5.8,16 C-5.4,13 -4.6,10.5 -4.1,8.9 C-4.8,8 -4.8,6.4 -4.1,5.9 C-3.2,5.4 -2.6,4.5 -2.1,3.2 C-1.6,1.8 -0.8,0.4 0,0 Z" fill="url(#mouseg)"/><path d="M0,0 C0.8,0.4 1.6,1.8 2.1,3.2 C2.6,4.5 3.2,5.4 4.1,5.9 C4.8,6.4 4.8,8 4.1,8.9 C4.6,10.5 5.4,13 5.8,16 C6.3,19.5 6.8,23 6.6,26 C6.4,28.5 4.5,30.6 0,31.2 C-4.5,30.6 -6.4,28.5 -6.6,26 C-6.8,23 -6.3,19.5 -5.8,16 C-5.4,13 -4.6,10.5 -4.1,8.9 C-4.8,8 -4.8,6.4 -4.1,5.9 C-3.2,5.4 -2.6,4.5 -2.1,3.2 C-1.6,1.8 -0.8,0.4 0,0 Z" fill="url(#mouseedge)"/><ellipse cx="-3.2" cy="7.6" rx="1.2" ry="1.2" fill="#8c8c8c" opacity="0.6"/><ellipse cx="3.2" cy="7.6" rx="1.2" ry="1.2" fill="#8c8c8c" opacity="0.6"/><ellipse cx="0" cy="19" rx="3.5" ry="6" fill="#fff" opacity="0.5"/></g>
<g transform="translate(89.6 294.7) scale(0.930 1.000)" filter="url(#blur05)"><path d="M-4,29 L-7,33 M-2,30 L-3,33.5 M4,29 L7,33 M2,30 L3,33.5" stroke="#9a9a9a" stroke-width="0.8" fill="none"/><path d="M0,0 C0.8,0.4 1.6,1.8 2.1,3.2 C2.6,4.5 3.2,5.4 4.1,5.9 C4.8,6.4 4.8,8 4.1,8.9 C4.6,10.5 5.4,13 5.8,16 C6.3,19.5 6.8,23 6.6,26 C6.4,28.5 4.5,30.6 0,31.2 C-4.5,30.6 -6.4,28.5 -6.6,26 C-6.8,23 -6.3,19.5 -5.8,16 C-5.4,13 -4.6,10.5 -4.1,8.9 C-4.8,8 -4.8,6.4 -4.1,5.9 C-3.2,5.4 -2.6,4.5 -2.1,3.2 C-1.6,1.8 -0.8,0.4 0,0 Z" fill="url(#mouseg)"/><path d="M0,0 C0.8,0.4 1.6,1.8 2.1,3.2 C2.6,4.5 3.2,5.4 4.1,5.9 C4.8,6.4 4.8,8 4.1,8.9 C4.6,10.5 5.4,13 5.8,16 C6.3,19.5 6.8,23 6.6,26 C6.4,28.5 4.5,30.6 0,31.2 C-4.5,30.6 -6.4,28.5 -6.6,26 C-6.8,23 -6.3,19.5 -5.8,16 C-5.4,13 -4.6,10.5 -4.1,8.9 C-4.8,8 -4.8,6.4 -4.1,5.9 C-3.2,5.4 -2.6,4.5 -2.1,3.2 C-1.6,1.8 -0.8,0.4 0,0 Z" fill="url(#mouseedge)"/><ellipse cx="-3.2" cy="7.6" rx="1.2" ry="1.2" fill="#8c8c8c" opacity="0.6"/><ellipse cx="3.2" cy="7.6" rx="1.2" ry="1.2" fill="#8c8c8c" opacity="0.6"/><ellipse cx="0" cy="19" rx="3.5" ry="6" fill="#fff" opacity="0.5"/></g>
<g transform="translate(103.7 294.7) scale(0.930 1.000)" filter="url(#blur05)"><path d="M-4,29 L-7,33 M-2,30 L-3,33.5 M4,29 L7,33 M2,30 L3,33.5" stroke="#9a9a9a" stroke-width="0.8" fill="none"/><path d="M0,0 C0.8,0.4 1.6,1.8 2.1,3.2 C2.6,4.5 3.2,5.4 4.1,5.9 C4.8,6.4 4.8,8 4.1,8.9 C4.6,10.5 5.4,13 5.8,16 C6.3,19.5 6.8,23 6.6,26 C6.4,28.5 4.5,30.6 0,31.2 C-4.5,30.6 -6.4,28.5 -6.6,26 C-6.8,23 -6.3,19.5 -5.8,16 C-5.4,13 -4.6,10.5 -4.1,8.9 C-4.8,8 -4.8,6.4 -4.1,5.9 C-3.2,5.4 -2.6,4.5 -2.1,3.2 C-1.6,1.8 -0.8,0.4 0,0 Z" fill="url(#mouseg)"/><path d="M0,0 C0.8,0.4 1.6,1.8 2.1,3.2 C2.6,4.5 3.2,5.4 4.1,5.9 C4.8,6.4 4.8,8 4.1,8.9 C4.6,10.5 5.4,13 5.8,16 C6.3,19.5 6.8,23 6.6,26 C6.4,28.5 4.5,30.6 0,31.2 C-4.5,30.6 -6.4,28.5 -6.6,26 C-6.8,23 -6.3,19.5 -5.8,16 C-5.4,13 -4.6,10.5 -4.1,8.9 C-4.8,8 -4.8,6.4 -4.1,5.9 C-3.2,5.4 -2.6,4.5 -2.1,3.2 C-1.6,1.8 -0.8,0.4 0,0 Z" fill="url(#mouseedge)"/><ellipse cx="-3.2" cy="7.6" rx="1.2" ry="1.2" fill="#8c8c8c" opacity="0.6"/><ellipse cx="3.2" cy="7.6" rx="1.2" ry="1.2" fill="#8c8c8c" opacity="0.6"/><ellipse cx="0" cy="19" rx="3.5" ry="6" fill="#fff" opacity="0.5"/></g>
<g transform="translate(118.5 296.3) scale(0.930 1.000)" filter="url(#blur05)"><path d="M-4,29 L-7,33 M-2,30 L-3,33.5 M4,29 L7,33 M2,30 L3,33.5" stroke="#9a9a9a" stroke-width="0.8" fill="none"/><path d="M0,0 C0.8,0.4 1.6,1.8 2.1,3.2 C2.6,4.5 3.2,5.4 4.1,5.9 C4.8,6.4 4.8,8 4.1,8.9 C4.6,10.5 5.4,13 5.8,16 C6.3,19.5 6.8,23 6.6,26 C6.4,28.5 4.5,30.6 0,31.2 C-4.5,30.6 -6.4,28.5 -6.6,26 C-6.8,23 -6.3,19.5 -5.8,16 C-5.4,13 -4.6,10.5 -4.1,8.9 C-4.8,8 -4.8,6.4 -4.1,5.9 C-3.2,5.4 -2.6,4.5 -2.1,3.2 C-1.6,1.8 -0.8,0.4 0,0 Z" fill="url(#mouseg)"/><path d="M0,0 C0.8,0.4 1.6,1.8 2.1,3.2 C2.6,4.5 3.2,5.4 4.1,5.9 C4.8,6.4 4.8,8 4.1,8.9 C4.6,10.5 5.4,13 5.8,16 C6.3,19.5 6.8,23 6.6,26 C6.4,28.5 4.5,30.6 0,31.2 C-4.5,30.6 -6.4,28.5 -6.6,26 C-6.8,23 -6.3,19.5 -5.8,16 C-5.4,13 -4.6,10.5 -4.1,8.9 C-4.8,8 -4.8,6.4 -4.1,5.9 C-3.2,5.4 -2.6,4.5 -2.1,3.2 C-1.6,1.8 -0.8,0.4 0,0 Z" fill="url(#mouseedge)"/><ellipse cx="-3.2" cy="7.6" rx="1.2" ry="1.2" fill="#8c8c8c" opacity="0.6"/><ellipse cx="3.2" cy="7.6" rx="1.2" ry="1.2" fill="#8c8c8c" opacity="0.6"/><ellipse cx="0" cy="19" rx="3.5" ry="6" fill="#fff" opacity="0.5"/></g>
</g>
<clipPath id="clip129_293"><rect x="129.4" y="293.9" width="62.900000000000006" height="33.900000000000034"/></clipPath>
<g clip-path="url(#clip129_293)">
<rect x="129.4" y="293.9" width="62.900000000000006" height="33.900000000000034" fill="#2c2c2c"/>
<g opacity="0.7"><rect x="130.9" y="293.9" width="1.1" height="33.900000000000034" fill="#1b1b1b"/><rect x="133.5" y="293.9" width="1.1" height="33.900000000000034" fill="#1b1b1b"/><rect x="136.1" y="293.9" width="1.1" height="33.900000000000034" fill="#1b1b1b"/><rect x="138.7" y="293.9" width="1.1" height="33.900000000000034" fill="#1b1b1b"/><rect x="141.3" y="293.9" width="1.1" height="33.900000000000034" fill="#1b1b1b"/><rect x="143.9" y="293.9" width="1.1" height="33.900000000000034" fill="#1b1b1b"/><rect x="146.5" y="293.9" width="1.1" height="33.900000000000034" fill="#1b1b1b"/><rect x="149.1" y="293.9" width="1.1" height="33.900000000000034" fill="#1b1b1b"/><rect x="151.7" y="293.9" width="1.1" height="33.900000000000034" fill="#1b1b1b"/><rect x="154.3" y="293.9" width="1.1" height="33.900000000000034" fill="#1b1b1b"/><rect x="156.9" y="293.9" width="1.1" height="33.900000000000034" fill="#1b1b1b"/><rect x="159.5" y="293.9" width="1.1" height="33.900000000000034" fill="#1b1b1b"/><rect x="162.1" y="293.9" width="1.1" height="33.900000000000034" fill="#1b1b1b"/><rect x="164.7" y="293.9" width="1.1" height="33.900000000000034" fill="#1b1b1b"/><rect x="167.3" y="293.9" width="1.1" height="33.900000000000034" fill="#1b1b1b"/><rect x="169.9" y="293.9" width="1.1" height="33.900000000000034" fill="#1b1b1b"/><rect x="172.5" y="293.9" width="1.1" height="33.900000000000034" fill="#1b1b1b"/><rect x="175.1" y="293.9" width="1.1" height="33.900000000000034" fill="#1b1b1b"/><rect x="177.7" y="293.9" width="1.1" height="33.900000000000034" fill="#1b1b1b"/><rect x="180.3" y="293.9" width="1.1" height="33.900000000000034" fill="#1b1b1b"/><rect x="182.9" y="293.9" width="1.1" height="33.900000000000034" fill="#1b1b1b"/><rect x="185.5" y="293.9" width="1.1" height="33.900000000000034" fill="#1b1b1b"/><rect x="188.1" y="293.9" width="1.1" height="33.900000000000034" fill="#1b1b1b"/><rect x="190.7" y="293.9" width="1.1" height="33.900000000000034" fill="#1b1b1b"/></g>
<g transform="translate(137.0 294.7) scale(0.930 1.000)" filter="url(#blur05)"><path d="M-4,29 L-7,33 M-2,30 L-3,33.5 M4,29 L7,33 M2,30 L3,33.5" stroke="#9a9a9a" stroke-width="0.8" fill="none"/><path d="M0,0 C0.8,0.4 1.6,1.8 2.1,3.2 C2.6,4.5 3.2,5.4 4.1,5.9 C4.8,6.4 4.8,8 4.1,8.9 C4.6,10.5 5.4,13 5.8,16 C6.3,19.5 6.8,23 6.6,26 C6.4,28.5 4.5,30.6 0,31.2 C-4.5,30.6 -6.4,28.5 -6.6,26 C-6.8,23 -6.3,19.5 -5.8,16 C-5.4,13 -4.6,10.5 -4.1,8.9 C-4.8,8 -4.8,6.4 -4.1,5.9 C-3.2,5.4 -2.6,4.5 -2.1,3.2 C-1.6,1.8 -0.8,0.4 0,0 Z" fill="url(#mouseg)"/><path d="M0,0 C0.8,0.4 1.6,1.8 2.1,3.2 C2.6,4.5 3.2,5.4 4.1,5.9 C4.8,6.4 4.8,8 4.1,8.9 C4.6,10.5 5.4,13 5.8,16 C6.3,19.5 6.8,23 6.6,26 C6.4,28.5 4.5,30.6 0,31.2 C-4.5,30.6 -6.4,28.5 -6.6,26 C-6.8,23 -6.3,19.5 -5.8,16 C-5.4,13 -4.6,10.5 -4.1,8.9 C-4.8,8 -4.8,6.4 -4.1,5.9 C-3.2,5.4 -2.6,4.5 -2.1,3.2 C-1.6,1.8 -0.8,0.4 0,0 Z" fill="url(#mouseedge)"/><ellipse cx="-3.2" cy="7.6" rx="1.2" ry="1.2" fill="#8c8c8c" opacity="0.6"/><ellipse cx="3.2" cy="7.6" rx="1.2" ry="1.2" fill="#8c8c8c" opacity="0.6"/><ellipse cx="0" cy="19" rx="3.5" ry="6" fill="#fff" opacity="0.5"/></g>
<g transform="translate(152.0 294.7) scale(0.930 1.000)" filter="url(#blur05)"><path d="M-4,29 L-7,33 M-2,30 L-3,33.5 M4,29 L7,33 M2,30 L3,33.5" stroke="#9a9a9a" stroke-width="0.8" fill="none"/><path d="M0,0 C0.8,0.4 1.6,1.8 2.1,3.2 C2.6,4.5 3.2,5.4 4.1,5.9 C4.8,6.4 4.8,8 4.1,8.9 C4.6,10.5 5.4,13 5.8,16 C6.3,19.5 6.8,23 6.6,26 C6.4,28.5 4.5,30.6 0,31.2 C-4.5,30.6 -6.4,28.5 -6.6,26 C-6.8,23 -6.3,19.5 -5.8,16 C-5.4,13 -4.6,10.5 -4.1,8.9 C-4.8,8 -4.8,6.4 -4.1,5.9 C-3.2,5.4 -2.6,4.5 -2.1,3.2 C-1.6,1.8 -0.8,0.4 0,0 Z" fill="url(#mouseg)"/><path d="M0,0 C0.8,0.4 1.6,1.8 2.1,3.2 C2.6,4.5 3.2,5.4 4.1,5.9 C4.8,6.4 4.8,8 4.1,8.9 C4.6,10.5 5.4,13 5.8,16 C6.3,19.5 6.8,23 6.6,26 C6.4,28.5 4.5,30.6 0,31.2 C-4.5,30.6 -6.4,28.5 -6.6,26 C-6.8,23 -6.3,19.5 -5.8,16 C-5.4,13 -4.6,10.5 -4.1,8.9 C-4.8,8 -4.8,6.4 -4.1,5.9 C-3.2,5.4 -2.6,4.5 -2.1,3.2 C-1.6,1.8 -0.8,0.4 0,0 Z" fill="url(#mouseedge)"/><ellipse cx="-3.2" cy="7.6" rx="1.2" ry="1.2" fill="#8c8c8c" opacity="0.6"/><ellipse cx="3.2" cy="7.6" rx="1.2" ry="1.2" fill="#8c8c8c" opacity="0.6"/><ellipse cx="0" cy="19" rx="3.5" ry="6" fill="#fff" opacity="0.5"/></g>
<g transform="translate(167.6 294.7) scale(0.930 1.000)" filter="url(#blur05)"><path d="M-4,29 L-7,33 M-2,30 L-3,33.5 M4,29 L7,33 M2,30 L3,33.5" stroke="#9a9a9a" stroke-width="0.8" fill="none"/><path d="M0,0 C0.8,0.4 1.6,1.8 2.1,3.2 C2.6,4.5 3.2,5.4 4.1,5.9 C4.8,6.4 4.8,8 4.1,8.9 C4.6,10.5 5.4,13 5.8,16 C6.3,19.5 6.8,23 6.6,26 C6.4,28.5 4.5,30.6 0,31.2 C-4.5,30.6 -6.4,28.5 -6.6,26 C-6.8,23 -6.3,19.5 -5.8,16 C-5.4,13 -4.6,10.5 -4.1,8.9 C-4.8,8 -4.8,6.4 -4.1,5.9 C-3.2,5.4 -2.6,4.5 -2.1,3.2 C-1.6,1.8 -0.8,0.4 0,0 Z" fill="url(#mouseg)"/><path d="M0,0 C0.8,0.4 1.6,1.8 2.1,3.2 C2.6,4.5 3.2,5.4 4.1,5.9 C4.8,6.4 4.8,8 4.1,8.9 C4.6,10.5 5.4,13 5.8,16 C6.3,19.5 6.8,23 6.6,26 C6.4,28.5 4.5,30.6 0,31.2 C-4.5,30.6 -6.4,28.5 -6.6,26 C-6.8,23 -6.3,19.5 -5.8,16 C-5.4,13 -4.6,10.5 -4.1,8.9 C-4.8,8 -4.8,6.4 -4.1,5.9 C-3.2,5.4 -2.6,4.5 -2.1,3.2 C-1.6,1.8 -0.8,0.4 0,0 Z" fill="url(#mouseedge)"/><ellipse cx="-3.2" cy="7.6" rx="1.2" ry="1.2" fill="#8c8c8c" opacity="0.6"/><ellipse cx="3.2" cy="7.6" rx="1.2" ry="1.2" fill="#8c8c8c" opacity="0.6"/><ellipse cx="0" cy="19" rx="3.5" ry="6" fill="#fff" opacity="0.5"/></g>
<g transform="translate(183.0 294.7) scale(0.930 1.000)" filter="url(#blur05)"><path d="M-4,29 L-7,33 M-2,30 L-3,33.5 M4,29 L7,33 M2,30 L3,33.5" stroke="#9a9a9a" stroke-width="0.8" fill="none"/><path d="M0,0 C0.8,0.4 1.6,1.8 2.1,3.2 C2.6,4.5 3.2,5.4 4.1,5.9 C4.8,6.4 4.8,8 4.1,8.9 C4.6,10.5 5.4,13 5.8,16 C6.3,19.5 6.8,23 6.6,26 C6.4,28.5 4.5,30.6 0,31.2 C-4.5,30.6 -6.4,28.5 -6.6,26 C-6.8,23 -6.3,19.5 -5.8,16 C-5.4,13 -4.6,10.5 -4.1,8.9 C-4.8,8 -4.8,6.4 -4.1,5.9 C-3.2,5.4 -2.6,4.5 -2.1,3.2 C-1.6,1.8 -0.8,0.4 0,0 Z" fill="url(#mouseg)"/><path d="M0,0 C0.8,0.4 1.6,1.8 2.1,3.2 C2.6,4.5 3.2,5.4 4.1,5.9 C4.8,6.4 4.8,8 4.1,8.9 C4.6,10.5 5.4,13 5.8,16 C6.3,19.5 6.8,23 6.6,26 C6.4,28.5 4.5,30.6 0,31.2 C-4.5,30.6 -6.4,28.5 -6.6,26 C-6.8,23 -6.3,19.5 -5.8,16 C-5.4,13 -4.6,10.5 -4.1,8.9 C-4.8,8 -4.8,6.4 -4.1,5.9 C-3.2,5.4 -2.6,4.5 -2.1,3.2 C-1.6,1.8 -0.8,0.4 0,0 Z" fill="url(#mouseedge)"/><ellipse cx="-3.2" cy="7.6" rx="1.2" ry="1.2" fill="#8c8c8c" opacity="0.6"/><ellipse cx="3.2" cy="7.6" rx="1.2" ry="1.2" fill="#8c8c8c" opacity="0.6"/><ellipse cx="0" cy="19" rx="3.5" ry="6" fill="#fff" opacity="0.5"/></g>
</g>
<clipPath id="clip196_293"><rect x="196.5" y="293.9" width="69.30000000000001" height="33.900000000000034"/></clipPath>
<g clip-path="url(#clip196_293)">
<rect x="196.5" y="293.9" width="69.30000000000001" height="33.900000000000034" fill="#2c2c2c"/>
<g opacity="0.7"><rect x="198.0" y="293.9" width="1.1" height="33.900000000000034" fill="#1b1b1b"/><rect x="200.6" y="293.9" width="1.1" height="33.900000000000034" fill="#1b1b1b"/><rect x="203.2" y="293.9" width="1.1" height="33.900000000000034" fill="#1b1b1b"/><rect x="205.8" y="293.9" width="1.1" height="33.900000000000034" fill="#1b1b1b"/><rect x="208.4" y="293.9" width="1.1" height="33.900000000000034" fill="#1b1b1b"/><rect x="211.0" y="293.9" width="1.1" height="33.900000000000034" fill="#1b1b1b"/><rect x="213.6" y="293.9" width="1.1" height="33.900000000000034" fill="#1b1b1b"/><rect x="216.2" y="293.9" width="1.1" height="33.900000000000034" fill="#1b1b1b"/><rect x="218.8" y="293.9" width="1.1" height="33.900000000000034" fill="#1b1b1b"/><rect x="221.4" y="293.9" width="1.1" height="33.900000000000034" fill="#1b1b1b"/><rect x="224.0" y="293.9" width="1.1" height="33.900000000000034" fill="#1b1b1b"/><rect x="226.6" y="293.9" width="1.1" height="33.900000000000034" fill="#1b1b1b"/><rect x="229.2" y="293.9" width="1.1" height="33.900000000000034" fill="#1b1b1b"/><rect x="231.8" y="293.9" width="1.1" height="33.900000000000034" fill="#1b1b1b"/><rect x="234.4" y="293.9" width="1.1" height="33.900000000000034" fill="#1b1b1b"/><rect x="237.0" y="293.9" width="1.1" height="33.900000000000034" fill="#1b1b1b"/><rect x="239.6" y="293.9" width="1.1" height="33.900000000000034" fill="#1b1b1b"/><rect x="242.2" y="293.9" width="1.1" height="33.900000000000034" fill="#1b1b1b"/><rect x="244.8" y="293.9" width="1.1" height="33.900000000000034" fill="#1b1b1b"/><rect x="247.4" y="293.9" width="1.1" height="33.900000000000034" fill="#1b1b1b"/><rect x="250.0" y="293.9" width="1.1" height="33.900000000000034" fill="#1b1b1b"/><rect x="252.6" y="293.9" width="1.1" height="33.900000000000034" fill="#1b1b1b"/><rect x="255.2" y="293.9" width="1.1" height="33.900000000000034" fill="#1b1b1b"/><rect x="257.8" y="293.9" width="1.1" height="33.900000000000034" fill="#1b1b1b"/><rect x="260.4" y="293.9" width="1.1" height="33.900000000000034" fill="#1b1b1b"/><rect x="263.0" y="293.9" width="1.1" height="33.900000000000034" fill="#1b1b1b"/><rect x="265.6" y="293.9" width="1.1" height="33.900000000000034" fill="#1b1b1b"/></g>
<g transform="translate(202.6 294.7) scale(1.088 1.170)" filter="url(#blur05)"><path d="M-4,29 L-7,33 M-2,30 L-3,33.5 M4,29 L7,33 M2,30 L3,33.5" stroke="#9a9a9a" stroke-width="0.8" fill="none"/><path d="M0,0 C0.8,0.4 1.6,1.8 2.1,3.2 C2.6,4.5 3.2,5.4 4.1,5.9 C4.8,6.4 4.8,8 4.1,8.9 C4.6,10.5 5.4,13 5.8,16 C6.3,19.5 6.8,23 6.6,26 C6.4,28.5 4.5,30.6 0,31.2 C-4.5,30.6 -6.4,28.5 -6.6,26 C-6.8,23 -6.3,19.5 -5.8,16 C-5.4,13 -4.6,10.5 -4.1,8.9 C-4.8,8 -4.8,6.4 -4.1,5.9 C-3.2,5.4 -2.6,4.5 -2.1,3.2 C-1.6,1.8 -0.8,0.4 0,0 Z" fill="url(#mouseg)"/><path d="M0,0 C0.8,0.4 1.6,1.8 2.1,3.2 C2.6,4.5 3.2,5.4 4.1,5.9 C4.8,6.4 4.8,8 4.1,8.9 C4.6,10.5 5.4,13 5.8,16 C6.3,19.5 6.8,23 6.6,26 C6.4,28.5 4.5,30.6 0,31.2 C-4.5,30.6 -6.4,28.5 -6.6,26 C-6.8,23 -6.3,19.5 -5.8,16 C-5.4,13 -4.6,10.5 -4.1,8.9 C-4.8,8 -4.8,6.4 -4.1,5.9 C-3.2,5.4 -2.6,4.5 -2.1,3.2 C-1.6,1.8 -0.8,0.4 0,0 Z" fill="url(#mouseedge)"/><ellipse cx="-3.2" cy="7.6" rx="1.2" ry="1.2" fill="#8c8c8c" opacity="0.6"/><ellipse cx="3.2" cy="7.6" rx="1.2" ry="1.2" fill="#8c8c8c" opacity="0.6"/><ellipse cx="0" cy="19" rx="3.5" ry="6" fill="#fff" opacity="0.5"/></g>
<g transform="translate(220.0 294.7) scale(1.088 1.170)" filter="url(#blur05)"><path d="M-4,29 L-7,33 M-2,30 L-3,33.5 M4,29 L7,33 M2,30 L3,33.5" stroke="#9a9a9a" stroke-width="0.8" fill="none"/><path d="M0,0 C0.8,0.4 1.6,1.8 2.1,3.2 C2.6,4.5 3.2,5.4 4.1,5.9 C4.8,6.4 4.8,8 4.1,8.9 C4.6,10.5 5.4,13 5.8,16 C6.3,19.5 6.8,23 6.6,26 C6.4,28.5 4.5,30.6 0,31.2 C-4.5,30.6 -6.4,28.5 -6.6,26 C-6.8,23 -6.3,19.5 -5.8,16 C-5.4,13 -4.6,10.5 -4.1,8.9 C-4.8,8 -4.8,6.4 -4.1,5.9 C-3.2,5.4 -2.6,4.5 -2.1,3.2 C-1.6,1.8 -0.8,0.4 0,0 Z" fill="url(#mouseg)"/><path d="M0,0 C0.8,0.4 1.6,1.8 2.1,3.2 C2.6,4.5 3.2,5.4 4.1,5.9 C4.8,6.4 4.8,8 4.1,8.9 C4.6,10.5 5.4,13 5.8,16 C6.3,19.5 6.8,23 6.6,26 C6.4,28.5 4.5,30.6 0,31.2 C-4.5,30.6 -6.4,28.5 -6.6,26 C-6.8,23 -6.3,19.5 -5.8,16 C-5.4,13 -4.6,10.5 -4.1,8.9 C-4.8,8 -4.8,6.4 -4.1,5.9 C-3.2,5.4 -2.6,4.5 -2.1,3.2 C-1.6,1.8 -0.8,0.4 0,0 Z" fill="url(#mouseedge)"/><ellipse cx="-3.2" cy="7.6" rx="1.2" ry="1.2" fill="#8c8c8c" opacity="0.6"/><ellipse cx="3.2" cy="7.6" rx="1.2" ry="1.2" fill="#8c8c8c" opacity="0.6"/><ellipse cx="0" cy="19" rx="3.5" ry="6" fill="#fff" opacity="0.5"/></g>
<g transform="translate(238.0 294.7) scale(1.088 1.170)" filter="url(#blur05)"><path d="M-4,29 L-7,33 M-2,30 L-3,33.5 M4,29 L7,33 M2,30 L3,33.5" stroke="#9a9a9a" stroke-width="0.8" fill="none"/><path d="M0,0 C0.8,0.4 1.6,1.8 2.1,3.2 C2.6,4.5 3.2,5.4 4.1,5.9 C4.8,6.4 4.8,8 4.1,8.9 C4.6,10.5 5.4,13 5.8,16 C6.3,19.5 6.8,23 6.6,26 C6.4,28.5 4.5,30.6 0,31.2 C-4.5,30.6 -6.4,28.5 -6.6,26 C-6.8,23 -6.3,19.5 -5.8,16 C-5.4,13 -4.6,10.5 -4.1,8.9 C-4.8,8 -4.8,6.4 -4.1,5.9 C-3.2,5.4 -2.6,4.5 -2.1,3.2 C-1.6,1.8 -0.8,0.4 0,0 Z" fill="url(#mouseg)"/><path d="M0,0 C0.8,0.4 1.6,1.8 2.1,3.2 C2.6,4.5 3.2,5.4 4.1,5.9 C4.8,6.4 4.8,8 4.1,8.9 C4.6,10.5 5.4,13 5.8,16 C6.3,19.5 6.8,23 6.6,26 C6.4,28.5 4.5,30.6 0,31.2 C-4.5,30.6 -6.4,28.5 -6.6,26 C-6.8,23 -6.3,19.5 -5.8,16 C-5.4,13 -4.6,10.5 -4.1,8.9 C-4.8,8 -4.8,6.4 -4.1,5.9 C-3.2,5.4 -2.6,4.5 -2.1,3.2 C-1.6,1.8 -0.8,0.4 0,0 Z" fill="url(#mouseedge)"/><ellipse cx="-3.2" cy="7.6" rx="1.2" ry="1.2" fill="#8c8c8c" opacity="0.6"/><ellipse cx="3.2" cy="7.6" rx="1.2" ry="1.2" fill="#8c8c8c" opacity="0.6"/><ellipse cx="0" cy="19" rx="3.5" ry="6" fill="#fff" opacity="0.5"/></g>
<g transform="translate(256.2 294.7) scale(1.088 1.170)" filter="url(#blur05)"><path d="M-4,29 L-7,33 M-2,30 L-3,33.5 M4,29 L7,33 M2,30 L3,33.5" stroke="#9a9a9a" stroke-width="0.8" fill="none"/><path d="M0,0 C0.8,0.4 1.6,1.8 2.1,3.2 C2.6,4.5 3.2,5.4 4.1,5.9 C4.8,6.4 4.8,8 4.1,8.9 C4.6,10.5 5.4,13 5.8,16 C6.3,19.5 6.8,23 6.6,26 C6.4,28.5 4.5,30.6 0,31.2 C-4.5,30.6 -6.4,28.5 -6.6,26 C-6.8,23 -6.3,19.5 -5.8,16 C-5.4,13 -4.6,10.5 -4.1,8.9 C-4.8,8 -4.8,6.4 -4.1,5.9 C-3.2,5.4 -2.6,4.5 -2.1,3.2 C-1.6,1.8 -0.8,0.4 0,0 Z" fill="url(#mouseg)"/><path d="M0,0 C0.8,0.4 1.6,1.8 2.1,3.2 C2.6,4.5 3.2,5.4 4.1,5.9 C4.8,6.4 4.8,8 4.1,8.9 C4.6,10.5 5.4,13 5.8,16 C6.3,19.5 6.8,23 6.6,26 C6.4,28.5 4.5,30.6 0,31.2 C-4.5,30.6 -6.4,28.5 -6.6,26 C-6.8,23 -6.3,19.5 -5.8,16 C-5.4,13 -4.6,10.5 -4.1,8.9 C-4.8,8 -4.8,6.4 -4.1,5.9 C-3.2,5.4 -2.6,4.5 -2.1,3.2 C-1.6,1.8 -0.8,0.4 0,0 Z" fill="url(#mouseedge)"/><ellipse cx="-3.2" cy="7.6" rx="1.2" ry="1.2" fill="#8c8c8c" opacity="0.6"/><ellipse cx="3.2" cy="7.6" rx="1.2" ry="1.2" fill="#8c8c8c" opacity="0.6"/><ellipse cx="0" cy="19" rx="3.5" ry="6" fill="#fff" opacity="0.5"/></g>
<g filter="url(#blur05)">
<circle cx="240" cy="327" r="1.6" fill="#6a00ff"/>
<circle cx="250.2" cy="321" r="1.1" fill="#6a00ff"/>
<circle cx="264.3" cy="319.6" r="1.6" fill="#6a00ff"/>
</g>
</g>
<clipPath id="clip269_293"><rect x="269.0" y="293.9" width="58.39999999999998" height="33.900000000000034"/></clipPath>
<g clip-path="url(#clip269_293)">
<rect x="269.0" y="293.9" width="58.39999999999998" height="33.900000000000034" fill="#2c2c2c"/>
<g opacity="0.7"><rect x="270.5" y="293.9" width="1.1" height="33.900000000000034" fill="#1b1b1b"/><rect x="273.1" y="293.9" width="1.1" height="33.900000000000034" fill="#1b1b1b"/><rect x="275.7" y="293.9" width="1.1" height="33.900000000000034" fill="#1b1b1b"/><rect x="278.3" y="293.9" width="1.1" height="33.900000000000034" fill="#1b1b1b"/><rect x="280.9" y="293.9" width="1.1" height="33.900000000000034" fill="#1b1b1b"/><rect x="283.5" y="293.9" width="1.1" height="33.900000000000034" fill="#1b1b1b"/><rect x="286.1" y="293.9" width="1.1" height="33.900000000000034" fill="#1b1b1b"/><rect x="288.7" y="293.9" width="1.1" height="33.900000000000034" fill="#1b1b1b"/><rect x="291.3" y="293.9" width="1.1" height="33.900000000000034" fill="#1b1b1b"/><rect x="293.9" y="293.9" width="1.1" height="33.900000000000034" fill="#1b1b1b"/><rect x="296.5" y="293.9" width="1.1" height="33.900000000000034" fill="#1b1b1b"/><rect x="299.1" y="293.9" width="1.1" height="33.900000000000034" fill="#1b1b1b"/><rect x="301.7" y="293.9" width="1.1" height="33.900000000000034" fill="#1b1b1b"/><rect x="304.3" y="293.9" width="1.1" height="33.900000000000034" fill="#1b1b1b"/><rect x="306.9" y="293.9" width="1.1" height="33.900000000000034" fill="#1b1b1b"/><rect x="309.5" y="293.9" width="1.1" height="33.900000000000034" fill="#1b1b1b"/><rect x="312.1" y="293.9" width="1.1" height="33.900000000000034" fill="#1b1b1b"/><rect x="314.7" y="293.9" width="1.1" height="33.900000000000034" fill="#1b1b1b"/><rect x="317.3" y="293.9" width="1.1" height="33.900000000000034" fill="#1b1b1b"/><rect x="319.9" y="293.9" width="1.1" height="33.900000000000034" fill="#1b1b1b"/><rect x="322.5" y="293.9" width="1.1" height="33.900000000000034" fill="#1b1b1b"/><rect x="325.1" y="293.9" width="1.1" height="33.900000000000034" fill="#1b1b1b"/></g>
<g transform="translate(275.8 294.7) scale(0.930 1.000)" filter="url(#blur05)"><path d="M-4,29 L-7,33 M-2,30 L-3,33.5 M4,29 L7,33 M2,30 L3,33.5" stroke="#9a9a9a" stroke-width="0.8" fill="none"/><path d="M0,0 C0.8,0.4 1.6,1.8 2.1,3.2 C2.6,4.5 3.2,5.4 4.1,5.9 C4.8,6.4 4.8,8 4.1,8.9 C4.6,10.5 5.4,13 5.8,16 C6.3,19.5 6.8,23 6.6,26 C6.4,28.5 4.5,30.6 0,31.2 C-4.5,30.6 -6.4,28.5 -6.6,26 C-6.8,23 -6.3,19.5 -5.8,16 C-5.4,13 -4.6,10.5 -4.1,8.9 C-4.8,8 -4.8,6.4 -4.1,5.9 C-3.2,5.4 -2.6,4.5 -2.1,3.2 C-1.6,1.8 -0.8,0.4 0,0 Z" fill="url(#mouseg)"/><path d="M0,0 C0.8,0.4 1.6,1.8 2.1,3.2 C2.6,4.5 3.2,5.4 4.1,5.9 C4.8,6.4 4.8,8 4.1,8.9 C4.6,10.5 5.4,13 5.8,16 C6.3,19.5 6.8,23 6.6,26 C6.4,28.5 4.5,30.6 0,31.2 C-4.5,30.6 -6.4,28.5 -6.6,26 C-6.8,23 -6.3,19.5 -5.8,16 C-5.4,13 -4.6,10.5 -4.1,8.9 C-4.8,8 -4.8,6.4 -4.1,5.9 C-3.2,5.4 -2.6,4.5 -2.1,3.2 C-1.6,1.8 -0.8,0.4 0,0 Z" fill="url(#mouseedge)"/><ellipse cx="-3.2" cy="7.6" rx="1.2" ry="1.2" fill="#8c8c8c" opacity="0.6"/><ellipse cx="3.2" cy="7.6" rx="1.2" ry="1.2" fill="#8c8c8c" opacity="0.6"/><ellipse cx="0" cy="19" rx="3.5" ry="6" fill="#fff" opacity="0.5"/></g>
<g transform="translate(291.2 294.7) scale(0.930 1.000)" filter="url(#blur05)"><path d="M-4,29 L-7,33 M-2,30 L-3,33.5 M4,29 L7,33 M2,30 L3,33.5" stroke="#9a9a9a" stroke-width="0.8" fill="none"/><path d="M0,0 C0.8,0.4 1.6,1.8 2.1,3.2 C2.6,4.5 3.2,5.4 4.1,5.9 C4.8,6.4 4.8,8 4.1,8.9 C4.6,10.5 5.4,13 5.8,16 C6.3,19.5 6.8,23 6.6,26 C6.4,28.5 4.5,30.6 0,31.2 C-4.5,30.6 -6.4,28.5 -6.6,26 C-6.8,23 -6.3,19.5 -5.8,16 C-5.4,13 -4.6,10.5 -4.1,8.9 C-4.8,8 -4.8,6.4 -4.1,5.9 C-3.2,5.4 -2.6,4.5 -2.1,3.2 C-1.6,1.8 -0.8,0.4 0,0 Z" fill="url(#mouseg)"/><path d="M0,0 C0.8,0.4 1.6,1.8 2.1,3.2 C2.6,4.5 3.2,5.4 4.1,5.9 C4.8,6.4 4.8,8 4.1,8.9 C4.6,10.5 5.4,13 5.8,16 C6.3,19.5 6.8,23 6.6,26 C6.4,28.5 4.5,30.6 0,31.2 C-4.5,30.6 -6.4,28.5 -6.6,26 C-6.8,23 -6.3,19.5 -5.8,16 C-5.4,13 -4.6,10.5 -4.1,8.9 C-4.8,8 -4.8,6.4 -4.1,5.9 C-3.2,5.4 -2.6,4.5 -2.1,3.2 C-1.6,1.8 -0.8,0.4 0,0 Z" fill="url(#mouseedge)"/><ellipse cx="-3.2" cy="7.6" rx="1.2" ry="1.2" fill="#8c8c8c" opacity="0.6"/><ellipse cx="3.2" cy="7.6" rx="1.2" ry="1.2" fill="#8c8c8c" opacity="0.6"/><ellipse cx="0" cy="19" rx="3.5" ry="6" fill="#fff" opacity="0.5"/></g>
<g transform="translate(304.2 294.7) scale(0.930 1.000)" filter="url(#blur05)"><path d="M-4,29 L-7,33 M-2,30 L-3,33.5 M4,29 L7,33 M2,30 L3,33.5" stroke="#9a9a9a" stroke-width="0.8" fill="none"/><path d="M0,0 C0.8,0.4 1.6,1.8 2.1,3.2 C2.6,4.5 3.2,5.4 4.1,5.9 C4.8,6.4 4.8,8 4.1,8.9 C4.6,10.5 5.4,13 5.8,16 C6.3,19.5 6.8,23 6.6,26 C6.4,28.5 4.5,30.6 0,31.2 C-4.5,30.6 -6.4,28.5 -6.6,26 C-6.8,23 -6.3,19.5 -5.8,16 C-5.4,13 -4.6,10.5 -4.1,8.9 C-4.8,8 -4.8,6.4 -4.1,5.9 C-3.2,5.4 -2.6,4.5 -2.1,3.2 C-1.6,1.8 -0.8,0.4 0,0 Z" fill="url(#mouseg)"/><path d="M0,0 C0.8,0.4 1.6,1.8 2.1,3.2 C2.6,4.5 3.2,5.4 4.1,5.9 C4.8,6.4 4.8,8 4.1,8.9 C4.6,10.5 5.4,13 5.8,16 C6.3,19.5 6.8,23 6.6,26 C6.4,28.5 4.5,30.6 0,31.2 C-4.5,30.6 -6.4,28.5 -6.6,26 C-6.8,23 -6.3,19.5 -5.8,16 C-5.4,13 -4.6,10.5 -4.1,8.9 C-4.8,8 -4.8,6.4 -4.1,5.9 C-3.2,5.4 -2.6,4.5 -2.1,3.2 C-1.6,1.8 -0.8,0.4 0,0 Z" fill="url(#mouseedge)"/><ellipse cx="-3.2" cy="7.6" rx="1.2" ry="1.2" fill="#8c8c8c" opacity="0.6"/><ellipse cx="3.2" cy="7.6" rx="1.2" ry="1.2" fill="#8c8c8c" opacity="0.6"/><ellipse cx="0" cy="19" rx="3.5" ry="6" fill="#fff" opacity="0.5"/></g>
<g transform="translate(319.6 294.7) scale(0.930 1.000)" filter="url(#blur05)"><path d="M-4,29 L-7,33 M-2,30 L-3,33.5 M4,29 L7,33 M2,30 L3,33.5" stroke="#9a9a9a" stroke-width="0.8" fill="none"/><path d="M0,0 C0.8,0.4 1.6,1.8 2.1,3.2 C2.6,4.5 3.2,5.4 4.1,5.9 C4.8,6.4 4.8,8 4.1,8.9 C4.6,10.5 5.4,13 5.8,16 C6.3,19.5 6.8,23 6.6,26 C6.4,28.5 4.5,30.6 0,31.2 C-4.5,30.6 -6.4,28.5 -6.6,26 C-6.8,23 -6.3,19.5 -5.8,16 C-5.4,13 -4.6,10.5 -4.1,8.9 C-4.8,8 -4.8,6.4 -4.1,5.9 C-3.2,5.4 -2.6,4.5 -2.1,3.2 C-1.6,1.8 -0.8,0.4 0,0 Z" fill="url(#mouseg)"/><path d="M0,0 C0.8,0.4 1.6,1.8 2.1,3.2 C2.6,4.5 3.2,5.4 4.1,5.9 C4.8,6.4 4.8,8 4.1,8.9 C4.6,10.5 5.4,13 5.8,16 C6.3,19.5 6.8,23 6.6,26 C6.4,28.5 4.5,30.6 0,31.2 C-4.5,30.6 -6.4,28.5 -6.6,26 C-6.8,23 -6.3,19.5 -5.8,16 C-5.4,13 -4.6,10.5 -4.1,8.9 C-4.8,8 -4.8,6.4 -4.1,5.9 C-3.2,5.4 -2.6,4.5 -2.1,3.2 C-1.6,1.8 -0.8,0.4 0,0 Z" fill="url(#mouseedge)"/><ellipse cx="-3.2" cy="7.6" rx="1.2" ry="1.2" fill="#8c8c8c" opacity="0.6"/><ellipse cx="3.2" cy="7.6" rx="1.2" ry="1.2" fill="#8c8c8c" opacity="0.6"/><ellipse cx="0" cy="19" rx="3.5" ry="6" fill="#fff" opacity="0.5"/></g>
<g filter="url(#blur05)">
<circle cx="264.2" cy="319.7" r="1.5" fill="#6a00ff"/>
<circle cx="281.2" cy="319.7" r="1.0" fill="#6a00ff"/>
<circle cx="295.3" cy="318.5" r="2.1" fill="#6a00ff"/>
<circle cx="301.5" cy="327" r="1.3" fill="#6a00ff"/>
<circle cx="325.8" cy="320.5" r="0.9" fill="#6a00ff"/>
</g>
</g>
<clipPath id="clip329_293"><rect x="329.6" y="293.9" width="56.299999999999955" height="33.900000000000034"/></clipPath>
<g clip-path="url(#clip329_293)">
<rect x="329.6" y="293.9" width="56.299999999999955" height="33.900000000000034" fill="#2c2c2c"/>
<g opacity="0.7"><rect x="331.1" y="293.9" width="1.1" height="33.900000000000034" fill="#1b1b1b"/><rect x="333.7" y="293.9" width="1.1" height="33.900000000000034" fill="#1b1b1b"/><rect x="336.3" y="293.9" width="1.1" height="33.900000000000034" fill="#1b1b1b"/><rect x="338.9" y="293.9" width="1.1" height="33.900000000000034" fill="#1b1b1b"/><rect x="341.5" y="293.9" width="1.1" height="33.900000000000034" fill="#1b1b1b"/><rect x="344.1" y="293.9" width="1.1" height="33.900000000000034" fill="#1b1b1b"/><rect x="346.7" y="293.9" width="1.1" height="33.900000000000034" fill="#1b1b1b"/><rect x="349.3" y="293.9" width="1.1" height="33.900000000000034" fill="#1b1b1b"/><rect x="351.9" y="293.9" width="1.1" height="33.900000000000034" fill="#1b1b1b"/><rect x="354.5" y="293.9" width="1.1" height="33.900000000000034" fill="#1b1b1b"/><rect x="357.1" y="293.9" width="1.1" height="33.900000000000034" fill="#1b1b1b"/><rect x="359.7" y="293.9" width="1.1" height="33.900000000000034" fill="#1b1b1b"/><rect x="362.3" y="293.9" width="1.1" height="33.900000000000034" fill="#1b1b1b"/><rect x="364.9" y="293.9" width="1.1" height="33.900000000000034" fill="#1b1b1b"/><rect x="367.5" y="293.9" width="1.1" height="33.900000000000034" fill="#1b1b1b"/><rect x="370.1" y="293.9" width="1.1" height="33.900000000000034" fill="#1b1b1b"/><rect x="372.7" y="293.9" width="1.1" height="33.900000000000034" fill="#1b1b1b"/><rect x="375.3" y="293.9" width="1.1" height="33.900000000000034" fill="#1b1b1b"/><rect x="377.9" y="293.9" width="1.1" height="33.900000000000034" fill="#1b1b1b"/><rect x="380.5" y="293.9" width="1.1" height="33.900000000000034" fill="#1b1b1b"/><rect x="383.1" y="293.9" width="1.1" height="33.900000000000034" fill="#1b1b1b"/><rect x="385.7" y="293.9" width="1.1" height="33.900000000000034" fill="#1b1b1b"/></g>
<g transform="translate(336.8 294.7) scale(0.930 1.000)" filter="url(#blur05)"><path d="M-4,29 L-7,33 M-2,30 L-3,33.5 M4,29 L7,33 M2,30 L3,33.5" stroke="#9a9a9a" stroke-width="0.8" fill="none"/><path d="M0,0 C0.8,0.4 1.6,1.8 2.1,3.2 C2.6,4.5 3.2,5.4 4.1,5.9 C4.8,6.4 4.8,8 4.1,8.9 C4.6,10.5 5.4,13 5.8,16 C6.3,19.5 6.8,23 6.6,26 C6.4,28.5 4.5,30.6 0,31.2 C-4.5,30.6 -6.4,28.5 -6.6,26 C-6.8,23 -6.3,19.5 -5.8,16 C-5.4,13 -4.6,10.5 -4.1,8.9 C-4.8,8 -4.8,6.4 -4.1,5.9 C-3.2,5.4 -2.6,4.5 -2.1,3.2 C-1.6,1.8 -0.8,0.4 0,0 Z" fill="url(#mouseg)"/><path d="M0,0 C0.8,0.4 1.6,1.8 2.1,3.2 C2.6,4.5 3.2,5.4 4.1,5.9 C4.8,6.4 4.8,8 4.1,8.9 C4.6,10.5 5.4,13 5.8,16 C6.3,19.5 6.8,23 6.6,26 C6.4,28.5 4.5,30.6 0,31.2 C-4.5,30.6 -6.4,28.5 -6.6,26 C-6.8,23 -6.3,19.5 -5.8,16 C-5.4,13 -4.6,10.5 -4.1,8.9 C-4.8,8 -4.8,6.4 -4.1,5.9 C-3.2,5.4 -2.6,4.5 -2.1,3.2 C-1.6,1.8 -0.8,0.4 0,0 Z" fill="url(#mouseedge)"/><ellipse cx="-3.2" cy="7.6" rx="1.2" ry="1.2" fill="#8c8c8c" opacity="0.6"/><ellipse cx="3.2" cy="7.6" rx="1.2" ry="1.2" fill="#8c8c8c" opacity="0.6"/><ellipse cx="0" cy="19" rx="3.5" ry="6" fill="#fff" opacity="0.5"/></g>
<g transform="translate(350.7 294.7) scale(0.930 1.000)" filter="url(#blur05)"><path d="M-4,29 L-7,33 M-2,30 L-3,33.5 M4,29 L7,33 M2,30 L3,33.5" stroke="#9a9a9a" stroke-width="0.8" fill="none"/><path d="M0,0 C0.8,0.4 1.6,1.8 2.1,3.2 C2.6,4.5 3.2,5.4 4.1,5.9 C4.8,6.4 4.8,8 4.1,8.9 C4.6,10.5 5.4,13 5.8,16 C6.3,19.5 6.8,23 6.6,26 C6.4,28.5 4.5,30.6 0,31.2 C-4.5,30.6 -6.4,28.5 -6.6,26 C-6.8,23 -6.3,19.5 -5.8,16 C-5.4,13 -4.6,10.5 -4.1,8.9 C-4.8,8 -4.8,6.4 -4.1,5.9 C-3.2,5.4 -2.6,4.5 -2.1,3.2 C-1.6,1.8 -0.8,0.4 0,0 Z" fill="url(#mouseg)"/><path d="M0,0 C0.8,0.4 1.6,1.8 2.1,3.2 C2.6,4.5 3.2,5.4 4.1,5.9 C4.8,6.4 4.8,8 4.1,8.9 C4.6,10.5 5.4,13 5.8,16 C6.3,19.5 6.8,23 6.6,26 C6.4,28.5 4.5,30.6 0,31.2 C-4.5,30.6 -6.4,28.5 -6.6,26 C-6.8,23 -6.3,19.5 -5.8,16 C-5.4,13 -4.6,10.5 -4.1,8.9 C-4.8,8 -4.8,6.4 -4.1,5.9 C-3.2,5.4 -2.6,4.5 -2.1,3.2 C-1.6,1.8 -0.8,0.4 0,0 Z" fill="url(#mouseedge)"/><ellipse cx="-3.2" cy="7.6" rx="1.2" ry="1.2" fill="#8c8c8c" opacity="0.6"/><ellipse cx="3.2" cy="7.6" rx="1.2" ry="1.2" fill="#8c8c8c" opacity="0.6"/><ellipse cx="0" cy="19" rx="3.5" ry="6" fill="#fff" opacity="0.5"/></g>
<g transform="translate(364.0 294.7) scale(0.930 1.000)" filter="url(#blur05)"><path d="M-4,29 L-7,33 M-2,30 L-3,33.5 M4,29 L7,33 M2,30 L3,33.5" stroke="#9a9a9a" stroke-width="0.8" fill="none"/><path d="M0,0 C0.8,0.4 1.6,1.8 2.1,3.2 C2.6,4.5 3.2,5.4 4.1,5.9 C4.8,6.4 4.8,8 4.1,8.9 C4.6,10.5 5.4,13 5.8,16 C6.3,19.5 6.8,23 6.6,26 C6.4,28.5 4.5,30.6 0,31.2 C-4.5,30.6 -6.4,28.5 -6.6,26 C-6.8,23 -6.3,19.5 -5.8,16 C-5.4,13 -4.6,10.5 -4.1,8.9 C-4.8,8 -4.8,6.4 -4.1,5.9 C-3.2,5.4 -2.6,4.5 -2.1,3.2 C-1.6,1.8 -0.8,0.4 0,0 Z" fill="url(#mouseg)"/><path d="M0,0 C0.8,0.4 1.6,1.8 2.1,3.2 C2.6,4.5 3.2,5.4 4.1,5.9 C4.8,6.4 4.8,8 4.1,8.9 C4.6,10.5 5.4,13 5.8,16 C6.3,19.5 6.8,23 6.6,26 C6.4,28.5 4.5,30.6 0,31.2 C-4.5,30.6 -6.4,28.5 -6.6,26 C-6.8,23 -6.3,19.5 -5.8,16 C-5.4,13 -4.6,10.5 -4.1,8.9 C-4.8,8 -4.8,6.4 -4.1,5.9 C-3.2,5.4 -2.6,4.5 -2.1,3.2 C-1.6,1.8 -0.8,0.4 0,0 Z" fill="url(#mouseedge)"/><ellipse cx="-3.2" cy="7.6" rx="1.2" ry="1.2" fill="#8c8c8c" opacity="0.6"/><ellipse cx="3.2" cy="7.6" rx="1.2" ry="1.2" fill="#8c8c8c" opacity="0.6"/><ellipse cx="0" cy="19" rx="3.5" ry="6" fill="#fff" opacity="0.5"/></g>
<g transform="translate(377.4 294.7) scale(0.930 1.000)" filter="url(#blur05)"><path d="M-4,29 L-7,33 M-2,30 L-3,33.5 M4,29 L7,33 M2,30 L3,33.5" stroke="#9a9a9a" stroke-width="0.8" fill="none"/><path d="M0,0 C0.8,0.4 1.6,1.8 2.1,3.2 C2.6,4.5 3.2,5.4 4.1,5.9 C4.8,6.4 4.8,8 4.1,8.9 C4.6,10.5 5.4,13 5.8,16 C6.3,19.5 6.8,23 6.6,26 C6.4,28.5 4.5,30.6 0,31.2 C-4.5,30.6 -6.4,28.5 -6.6,26 C-6.8,23 -6.3,19.5 -5.8,16 C-5.4,13 -4.6,10.5 -4.1,8.9 C-4.8,8 -4.8,6.4 -4.1,5.9 C-3.2,5.4 -2.6,4.5 -2.1,3.2 C-1.6,1.8 -0.8,0.4 0,0 Z" fill="url(#mouseg)"/><path d="M0,0 C0.8,0.4 1.6,1.8 2.1,3.2 C2.6,4.5 3.2,5.4 4.1,5.9 C4.8,6.4 4.8,8 4.1,8.9 C4.6,10.5 5.4,13 5.8,16 C6.3,19.5 6.8,23 6.6,26 C6.4,28.5 4.5,30.6 0,31.2 C-4.5,30.6 -6.4,28.5 -6.6,26 C-6.8,23 -6.3,19.5 -5.8,16 C-5.4,13 -4.6,10.5 -4.1,8.9 C-4.8,8 -4.8,6.4 -4.1,5.9 C-3.2,5.4 -2.6,4.5 -2.1,3.2 C-1.6,1.8 -0.8,0.4 0,0 Z" fill="url(#mouseedge)"/><ellipse cx="-3.2" cy="7.6" rx="1.2" ry="1.2" fill="#8c8c8c" opacity="0.6"/><ellipse cx="3.2" cy="7.6" rx="1.2" ry="1.2" fill="#8c8c8c" opacity="0.6"/><ellipse cx="0" cy="19" rx="3.5" ry="6" fill="#fff" opacity="0.5"/></g>
<g filter="url(#blur05)">
<circle cx="331" cy="318.6" r="1.6" fill="#6a00ff"/>
<circle cx="340.6" cy="318.2" r="2.3" fill="#6a00ff"/>
<circle cx="346" cy="316.6" r="2.1" fill="#6a00ff"/>
<circle cx="355.4" cy="317.3" r="2.3" fill="#6a00ff"/>
<circle cx="360" cy="320.2" r="2.3" fill="#6a00ff"/>
<circle cx="362.8" cy="323.6" r="2.1" fill="#6a00ff"/>
<circle cx="366" cy="324.9" r="2.1" fill="#6a00ff"/>
<circle cx="369.1" cy="317.9" r="2.0" fill="#6a00ff"/>
<circle cx="373.8" cy="317.7" r="2.3" fill="#6a00ff"/>
<circle cx="382.5" cy="317.7" r="2.3" fill="#6a00ff"/>
<circle cx="381.8" cy="320.5" r="1.6" fill="#6a00ff"/>
<circle cx="378" cy="324.3" r="1.1" fill="#6a00ff"/>
</g>
</g>
<clipPath id="clip388_293"><rect x="388.7" y="293.9" width="64.60000000000002" height="33.900000000000034"/></clipPath>
<g clip-path="url(#clip388_293)">
<rect x="388.7" y="293.9" width="64.60000000000002" height="33.900000000000034" fill="#2c2c2c"/>
<g opacity="0.7"><rect x="390.2" y="293.9" width="1.1" height="33.900000000000034" fill="#1b1b1b"/><rect x="392.8" y="293.9" width="1.1" height="33.900000000000034" fill="#1b1b1b"/><rect x="395.4" y="293.9" width="1.1" height="33.900000000000034" fill="#1b1b1b"/><rect x="398.0" y="293.9" width="1.1" height="33.900000000000034" fill="#1b1b1b"/><rect x="400.6" y="293.9" width="1.1" height="33.900000000000034" fill="#1b1b1b"/><rect x="403.2" y="293.9" width="1.1" height="33.900000000000034" fill="#1b1b1b"/><rect x="405.8" y="293.9" width="1.1" height="33.900000000000034" fill="#1b1b1b"/><rect x="408.4" y="293.9" width="1.1" height="33.900000000000034" fill="#1b1b1b"/><rect x="411.0" y="293.9" width="1.1" height="33.900000000000034" fill="#1b1b1b"/><rect x="413.6" y="293.9" width="1.1" height="33.900000000000034" fill="#1b1b1b"/><rect x="416.2" y="293.9" width="1.1" height="33.900000000000034" fill="#1b1b1b"/><rect x="418.8" y="293.9" width="1.1" height="33.900000000000034" fill="#1b1b1b"/><rect x="421.4" y="293.9" width="1.1" height="33.900000000000034" fill="#1b1b1b"/><rect x="424.0" y="293.9" width="1.1" height="33.900000000000034" fill="#1b1b1b"/><rect x="426.6" y="293.9" width="1.1" height="33.900000000000034" fill="#1b1b1b"/><rect x="429.2" y="293.9" width="1.1" height="33.900000000000034" fill="#1b1b1b"/><rect x="431.8" y="293.9" width="1.1" height="33.900000000000034" fill="#1b1b1b"/><rect x="434.4" y="293.9" width="1.1" height="33.900000000000034" fill="#1b1b1b"/><rect x="437.0" y="293.9" width="1.1" height="33.900000000000034" fill="#1b1b1b"/><rect x="439.6" y="293.9" width="1.1" height="33.900000000000034" fill="#1b1b1b"/><rect x="442.2" y="293.9" width="1.1" height="33.900000000000034" fill="#1b1b1b"/><rect x="444.8" y="293.9" width="1.1" height="33.900000000000034" fill="#1b1b1b"/><rect x="447.4" y="293.9" width="1.1" height="33.900000000000034" fill="#1b1b1b"/><rect x="450.0" y="293.9" width="1.1" height="33.900000000000034" fill="#1b1b1b"/><rect x="452.6" y="293.9" width="1.1" height="33.900000000000034" fill="#1b1b1b"/></g>
<g transform="translate(397.4 294.7) scale(0.930 1.000)" filter="url(#blur05)"><path d="M-4,29 L-7,33 M-2,30 L-3,33.5 M4,29 L7,33 M2,30 L3,33.5" stroke="#9a9a9a" stroke-width="0.8" fill="none"/><path d="M0,0 C0.8,0.4 1.6,1.8 2.1,3.2 C2.6,4.5 3.2,5.4 4.1,5.9 C4.8,6.4 4.8,8 4.1,8.9 C4.6,10.5 5.4,13 5.8,16 C6.3,19.5 6.8,23 6.6,26 C6.4,28.5 4.5,30.6 0,31.2 C-4.5,30.6 -6.4,28.5 -6.6,26 C-6.8,23 -6.3,19.5 -5.8,16 C-5.4,13 -4.6,10.5 -4.1,8.9 C-4.8,8 -4.8,6.4 -4.1,5.9 C-3.2,5.4 -2.6,4.5 -2.1,3.2 C-1.6,1.8 -0.8,0.4 0,0 Z" fill="url(#mouseg)"/><path d="M0,0 C0.8,0.4 1.6,1.8 2.1,3.2 C2.6,4.5 3.2,5.4 4.1,5.9 C4.8,6.4 4.8,8 4.1,8.9 C4.6,10.5 5.4,13 5.8,16 C6.3,19.5 6.8,23 6.6,26 C6.4,28.5 4.5,30.6 0,31.2 C-4.5,30.6 -6.4,28.5 -6.6,26 C-6.8,23 -6.3,19.5 -5.8,16 C-5.4,13 -4.6,10.5 -4.1,8.9 C-4.8,8 -4.8,6.4 -4.1,5.9 C-3.2,5.4 -2.6,4.5 -2.1,3.2 C-1.6,1.8 -0.8,0.4 0,0 Z" fill="url(#mouseedge)"/><ellipse cx="-3.2" cy="7.6" rx="1.2" ry="1.2" fill="#8c8c8c" opacity="0.6"/><ellipse cx="3.2" cy="7.6" rx="1.2" ry="1.2" fill="#8c8c8c" opacity="0.6"/><ellipse cx="0" cy="19" rx="3.5" ry="6" fill="#fff" opacity="0.5"/></g>
<g transform="translate(412.9 294.7) scale(0.930 1.000)" filter="url(#blur05)"><path d="M-4,29 L-7,33 M-2,30 L-3,33.5 M4,29 L7,33 M2,30 L3,33.5" stroke="#9a9a9a" stroke-width="0.8" fill="none"/><path d="M0,0 C0.8,0.4 1.6,1.8 2.1,3.2 C2.6,4.5 3.2,5.4 4.1,5.9 C4.8,6.4 4.8,8 4.1,8.9 C4.6,10.5 5.4,13 5.8,16 C6.3,19.5 6.8,23 6.6,26 C6.4,28.5 4.5,30.6 0,31.2 C-4.5,30.6 -6.4,28.5 -6.6,26 C-6.8,23 -6.3,19.5 -5.8,16 C-5.4,13 -4.6,10.5 -4.1,8.9 C-4.8,8 -4.8,6.4 -4.1,5.9 C-3.2,5.4 -2.6,4.5 -2.1,3.2 C-1.6,1.8 -0.8,0.4 0,0 Z" fill="url(#mouseg)"/><path d="M0,0 C0.8,0.4 1.6,1.8 2.1,3.2 C2.6,4.5 3.2,5.4 4.1,5.9 C4.8,6.4 4.8,8 4.1,8.9 C4.6,10.5 5.4,13 5.8,16 C6.3,19.5 6.8,23 6.6,26 C6.4,28.5 4.5,30.6 0,31.2 C-4.5,30.6 -6.4,28.5 -6.6,26 C-6.8,23 -6.3,19.5 -5.8,16 C-5.4,13 -4.6,10.5 -4.1,8.9 C-4.8,8 -4.8,6.4 -4.1,5.9 C-3.2,5.4 -2.6,4.5 -2.1,3.2 C-1.6,1.8 -0.8,0.4 0,0 Z" fill="url(#mouseedge)"/><ellipse cx="-3.2" cy="7.6" rx="1.2" ry="1.2" fill="#8c8c8c" opacity="0.6"/><ellipse cx="3.2" cy="7.6" rx="1.2" ry="1.2" fill="#8c8c8c" opacity="0.6"/><ellipse cx="0" cy="19" rx="3.5" ry="6" fill="#fff" opacity="0.5"/></g>
<g transform="translate(428.4 294.7) scale(0.930 1.000)" filter="url(#blur05)"><path d="M-4,29 L-7,33 M-2,30 L-3,33.5 M4,29 L7,33 M2,30 L3,33.5" stroke="#9a9a9a" stroke-width="0.8" fill="none"/><path d="M0,0 C0.8,0.4 1.6,1.8 2.1,3.2 C2.6,4.5 3.2,5.4 4.1,5.9 C4.8,6.4 4.8,8 4.1,8.9 C4.6,10.5 5.4,13 5.8,16 C6.3,19.5 6.8,23 6.6,26 C6.4,28.5 4.5,30.6 0,31.2 C-4.5,30.6 -6.4,28.5 -6.6,26 C-6.8,23 -6.3,19.5 -5.8,16 C-5.4,13 -4.6,10.5 -4.1,8.9 C-4.8,8 -4.8,6.4 -4.1,5.9 C-3.2,5.4 -2.6,4.5 -2.1,3.2 C-1.6,1.8 -0.8,0.4 0,0 Z" fill="url(#mouseg)"/><path d="M0,0 C0.8,0.4 1.6,1.8 2.1,3.2 C2.6,4.5 3.2,5.4 4.1,5.9 C4.8,6.4 4.8,8 4.1,8.9 C4.6,10.5 5.4,13 5.8,16 C6.3,19.5 6.8,23 6.6,26 C6.4,28.5 4.5,30.6 0,31.2 C-4.5,30.6 -6.4,28.5 -6.6,26 C-6.8,23 -6.3,19.5 -5.8,16 C-5.4,13 -4.6,10.5 -4.1,8.9 C-4.8,8 -4.8,6.4 -4.1,5.9 C-3.2,5.4 -2.6,4.5 -2.1,3.2 C-1.6,1.8 -0.8,0.4 0,0 Z" fill="url(#mouseedge)"/><ellipse cx="-3.2" cy="7.6" rx="1.2" ry="1.2" fill="#8c8c8c" opacity="0.6"/><ellipse cx="3.2" cy="7.6" rx="1.2" ry="1.2" fill="#8c8c8c" opacity="0.6"/><ellipse cx="0" cy="19" rx="3.5" ry="6" fill="#fff" opacity="0.5"/></g>
<g transform="translate(445.0 294.7) scale(0.930 1.000)" filter="url(#blur05)"><path d="M-4,29 L-7,33 M-2,30 L-3,33.5 M4,29 L7,33 M2,30 L3,33.5" stroke="#9a9a9a" stroke-width="0.8" fill="none"/><path d="M0,0 C0.8,0.4 1.6,1.8 2.1,3.2 C2.6,4.5 3.2,5.4 4.1,5.9 C4.8,6.4 4.8,8 4.1,8.9 C4.6,10.5 5.4,13 5.8,16 C6.3,19.5 6.8,23 6.6,26 C6.4,28.5 4.5,30.6 0,31.2 C-4.5,30.6 -6.4,28.5 -6.6,26 C-6.8,23 -6.3,19.5 -5.8,16 C-5.4,13 -4.6,10.5 -4.1,8.9 C-4.8,8 -4.8,6.4 -4.1,5.9 C-3.2,5.4 -2.6,4.5 -2.1,3.2 C-1.6,1.8 -0.8,0.4 0,0 Z" fill="url(#mouseg)"/><path d="M0,0 C0.8,0.4 1.6,1.8 2.1,3.2 C2.6,4.5 3.2,5.4 4.1,5.9 C4.8,6.4 4.8,8 4.1,8.9 C4.6,10.5 5.4,13 5.8,16 C6.3,19.5 6.8,23 6.6,26 C6.4,28.5 4.5,30.6 0,31.2 C-4.5,30.6 -6.4,28.5 -6.6,26 C-6.8,23 -6.3,19.5 -5.8,16 C-5.4,13 -4.6,10.5 -4.1,8.9 C-4.8,8 -4.8,6.4 -4.1,5.9 C-3.2,5.4 -2.6,4.5 -2.1,3.2 C-1.6,1.8 -0.8,0.4 0,0 Z" fill="url(#mouseedge)"/><ellipse cx="-3.2" cy="7.6" rx="1.2" ry="1.2" fill="#8c8c8c" opacity="0.6"/><ellipse cx="3.2" cy="7.6" rx="1.2" ry="1.2" fill="#8c8c8c" opacity="0.6"/><ellipse cx="0" cy="19" rx="3.5" ry="6" fill="#fff" opacity="0.5"/></g>
<g filter="url(#blur05)"><ellipse cx="397.6" cy="303.2" rx="4.0" ry="4.6" fill="#6a00ff"/><ellipse cx="397.4" cy="319" rx="7.6" ry="5.0" fill="#6a00ff"/><circle cx="392" cy="317.6" r="2.3" fill="#2070ff"/><circle cx="392" cy="317.6" r="1.4" fill="#00e8ff"/><circle cx="402.8" cy="318.3" r="2.4" fill="#2070ff"/><circle cx="402.8" cy="318.3" r="1.6" fill="#00e8ff"/><circle cx="402.8" cy="318.3" r="0.8" fill="#80ff60"/><ellipse cx="412.9" cy="302.8" rx="4.0" ry="5.4" fill="#6a00ff"/><ellipse cx="412.3" cy="319" rx="7.6" ry="5.0" fill="#6a00ff"/><circle cx="406.9" cy="317" r="2.4" fill="#2070ff"/><circle cx="406.9" cy="317" r="1.5" fill="#00e8ff"/><circle cx="406.9" cy="317" r="0.7" fill="#80ff60"/><circle cx="417.6" cy="318" r="2.3" fill="#2070ff"/><circle cx="417.6" cy="318" r="1.4" fill="#00e8ff"/><ellipse cx="427.7" cy="304.8" rx="1.2" ry="1.2" fill="#6a00ff"/><ellipse cx="428.6" cy="321" rx="7" ry="5.5" fill="#6a00ff"/><circle cx="421.7" cy="319.6" r="1.9" fill="#2070ff"/><circle cx="433.8" cy="318.3" r="1.9" fill="#2070ff"/><circle cx="433.8" cy="318.3" r="0.9" fill="#00e8ff"/><ellipse cx="444.8" cy="303.6" rx="4.4" ry="3.2" fill="#6a00ff"/><ellipse cx="444.5" cy="319" rx="7.6" ry="5.0" fill="#6a00ff"/><circle cx="437.8" cy="316.2" r="1.7" fill="#2070ff"/><circle cx="437.8" cy="316.2" r="0.9" fill="#00e8ff"/><circle cx="449.9" cy="318.5" r="1.8" fill="#2070ff"/><circle cx="449.9" cy="318.5" r="0.9" fill="#00e8ff"/></g>
</g>
<clipPath id="clip455_293"><rect x="455.9" y="293.9" width="55.5" height="33.900000000000034"/></clipPath>
<g clip-path="url(#clip455_293)">
<rect x="455.9" y="293.9" width="55.5" height="33.900000000000034" fill="#2c2c2c"/>
<g opacity="0.7"><rect x="457.4" y="293.9" width="1.1" height="33.900000000000034" fill="#1b1b1b"/><rect x="460.0" y="293.9" width="1.1" height="33.900000000000034" fill="#1b1b1b"/><rect x="462.6" y="293.9" width="1.1" height="33.900000000000034" fill="#1b1b1b"/><rect x="465.2" y="293.9" width="1.1" height="33.900000000000034" fill="#1b1b1b"/><rect x="467.8" y="293.9" width="1.1" height="33.900000000000034" fill="#1b1b1b"/><rect x="470.4" y="293.9" width="1.1" height="33.900000000000034" fill="#1b1b1b"/><rect x="473.0" y="293.9" width="1.1" height="33.900000000000034" fill="#1b1b1b"/><rect x="475.6" y="293.9" width="1.1" height="33.900000000000034" fill="#1b1b1b"/><rect x="478.2" y="293.9" width="1.1" height="33.900000000000034" fill="#1b1b1b"/><rect x="480.8" y="293.9" width="1.1" height="33.900000000000034" fill="#1b1b1b"/><rect x="483.4" y="293.9" width="1.1" height="33.900000000000034" fill="#1b1b1b"/><rect x="486.0" y="293.9" width="1.1" height="33.900000000000034" fill="#1b1b1b"/><rect x="488.6" y="293.9" width="1.1" height="33.900000000000034" fill="#1b1b1b"/><rect x="491.2" y="293.9" width="1.1" height="33.900000000000034" fill="#1b1b1b"/><rect x="493.8" y="293.9" width="1.1" height="33.900000000000034" fill="#1b1b1b"/><rect x="496.4" y="293.9" width="1.1" height="33.900000000000034" fill="#1b1b1b"/><rect x="499.0" y="293.9" width="1.1" height="33.900000000000034" fill="#1b1b1b"/><rect x="501.6" y="293.9" width="1.1" height="33.900000000000034" fill="#1b1b1b"/><rect x="504.2" y="293.9" width="1.1" height="33.900000000000034" fill="#1b1b1b"/><rect x="506.8" y="293.9" width="1.1" height="33.900000000000034" fill="#1b1b1b"/><rect x="509.4" y="293.9" width="1.1" height="33.900000000000034" fill="#1b1b1b"/></g>
<g transform="translate(462.9 294.7) scale(0.930 1.000)" filter="url(#blur05)"><path d="M-4,29 L-7,33 M-2,30 L-3,33.5 M4,29 L7,33 M2,30 L3,33.5" stroke="#9a9a9a" stroke-width="0.8" fill="none"/><path d="M0,0 C0.8,0.4 1.6,1.8 2.1,3.2 C2.6,4.5 3.2,5.4 4.1,5.9 C4.8,6.4 4.8,8 4.1,8.9 C4.6,10.5 5.4,13 5.8,16 C6.3,19.5 6.8,23 6.6,26 C6.4,28.5 4.5,30.6 0,31.2 C-4.5,30.6 -6.4,28.5 -6.6,26 C-6.8,23 -6.3,19.5 -5.8,16 C-5.4,13 -4.6,10.5 -4.1,8.9 C-4.8,8 -4.8,6.4 -4.1,5.9 C-3.2,5.4 -2.6,4.5 -2.1,3.2 C-1.6,1.8 -0.8,0.4 0,0 Z" fill="url(#mouseg)"/><path d="M0,0 C0.8,0.4 1.6,1.8 2.1,3.2 C2.6,4.5 3.2,5.4 4.1,5.9 C4.8,6.4 4.8,8 4.1,8.9 C4.6,10.5 5.4,13 5.8,16 C6.3,19.5 6.8,23 6.6,26 C6.4,28.5 4.5,30.6 0,31.2 C-4.5,30.6 -6.4,28.5 -6.6,26 C-6.8,23 -6.3,19.5 -5.8,16 C-5.4,13 -4.6,10.5 -4.1,8.9 C-4.8,8 -4.8,6.4 -4.1,5.9 C-3.2,5.4 -2.6,4.5 -2.1,3.2 C-1.6,1.8 -0.8,0.4 0,0 Z" fill="url(#mouseedge)"/><ellipse cx="-3.2" cy="7.6" rx="1.2" ry="1.2" fill="#8c8c8c" opacity="0.6"/><ellipse cx="3.2" cy="7.6" rx="1.2" ry="1.2" fill="#8c8c8c" opacity="0.6"/><ellipse cx="0" cy="19" rx="3.5" ry="6" fill="#fff" opacity="0.5"/></g>
<g transform="translate(476.2 294.7) scale(0.930 1.000)" filter="url(#blur05)"><path d="M-4,29 L-7,33 M-2,30 L-3,33.5 M4,29 L7,33 M2,30 L3,33.5" stroke="#9a9a9a" stroke-width="0.8" fill="none"/><path d="M0,0 C0.8,0.4 1.6,1.8 2.1,3.2 C2.6,4.5 3.2,5.4 4.1,5.9 C4.8,6.4 4.8,8 4.1,8.9 C4.6,10.5 5.4,13 5.8,16 C6.3,19.5 6.8,23 6.6,26 C6.4,28.5 4.5,30.6 0,31.2 C-4.5,30.6 -6.4,28.5 -6.6,26 C-6.8,23 -6.3,19.5 -5.8,16 C-5.4,13 -4.6,10.5 -4.1,8.9 C-4.8,8 -4.8,6.4 -4.1,5.9 C-3.2,5.4 -2.6,4.5 -2.1,3.2 C-1.6,1.8 -0.8,0.4 0,0 Z" fill="url(#mouseg)"/><path d="M0,0 C0.8,0.4 1.6,1.8 2.1,3.2 C2.6,4.5 3.2,5.4 4.1,5.9 C4.8,6.4 4.8,8 4.1,8.9 C4.6,10.5 5.4,13 5.8,16 C6.3,19.5 6.8,23 6.6,26 C6.4,28.5 4.5,30.6 0,31.2 C-4.5,30.6 -6.4,28.5 -6.6,26 C-6.8,23 -6.3,19.5 -5.8,16 C-5.4,13 -4.6,10.5 -4.1,8.9 C-4.8,8 -4.8,6.4 -4.1,5.9 C-3.2,5.4 -2.6,4.5 -2.1,3.2 C-1.6,1.8 -0.8,0.4 0,0 Z" fill="url(#mouseedge)"/><ellipse cx="-3.2" cy="7.6" rx="1.2" ry="1.2" fill="#8c8c8c" opacity="0.6"/><ellipse cx="3.2" cy="7.6" rx="1.2" ry="1.2" fill="#8c8c8c" opacity="0.6"/><ellipse cx="0" cy="19" rx="3.5" ry="6" fill="#fff" opacity="0.5"/></g>
<g transform="translate(490.2 294.7) scale(0.930 1.000)" filter="url(#blur05)"><path d="M-4,29 L-7,33 M-2,30 L-3,33.5 M4,29 L7,33 M2,30 L3,33.5" stroke="#9a9a9a" stroke-width="0.8" fill="none"/><path d="M0,0 C0.8,0.4 1.6,1.8 2.1,3.2 C2.6,4.5 3.2,5.4 4.1,5.9 C4.8,6.4 4.8,8 4.1,8.9 C4.6,10.5 5.4,13 5.8,16 C6.3,19.5 6.8,23 6.6,26 C6.4,28.5 4.5,30.6 0,31.2 C-4.5,30.6 -6.4,28.5 -6.6,26 C-6.8,23 -6.3,19.5 -5.8,16 C-5.4,13 -4.6,10.5 -4.1,8.9 C-4.8,8 -4.8,6.4 -4.1,5.9 C-3.2,5.4 -2.6,4.5 -2.1,3.2 C-1.6,1.8 -0.8,0.4 0,0 Z" fill="url(#mouseg)"/><path d="M0,0 C0.8,0.4 1.6,1.8 2.1,3.2 C2.6,4.5 3.2,5.4 4.1,5.9 C4.8,6.4 4.8,8 4.1,8.9 C4.6,10.5 5.4,13 5.8,16 C6.3,19.5 6.8,23 6.6,26 C6.4,28.5 4.5,30.6 0,31.2 C-4.5,30.6 -6.4,28.5 -6.6,26 C-6.8,23 -6.3,19.5 -5.8,16 C-5.4,13 -4.6,10.5 -4.1,8.9 C-4.8,8 -4.8,6.4 -4.1,5.9 C-3.2,5.4 -2.6,4.5 -2.1,3.2 C-1.6,1.8 -0.8,0.4 0,0 Z" fill="url(#mouseedge)"/><ellipse cx="-3.2" cy="7.6" rx="1.2" ry="1.2" fill="#8c8c8c" opacity="0.6"/><ellipse cx="3.2" cy="7.6" rx="1.2" ry="1.2" fill="#8c8c8c" opacity="0.6"/><ellipse cx="0" cy="19" rx="3.5" ry="6" fill="#fff" opacity="0.5"/></g>
<g transform="translate(504.1 294.7) scale(0.930 1.000)" filter="url(#blur05)"><path d="M-4,29 L-7,33 M-2,30 L-3,33.5 M4,29 L7,33 M2,30 L3,33.5" stroke="#9a9a9a" stroke-width="0.8" fill="none"/><path d="M0,0 C0.8,0.4 1.6,1.8 2.1,3.2 C2.6,4.5 3.2,5.4 4.1,5.9 C4.8,6.4 4.8,8 4.1,8.9 C4.6,10.5 5.4,13 5.8,16 C6.3,19.5 6.8,23 6.6,26 C6.4,28.5 4.5,30.6 0,31.2 C-4.5,30.6 -6.4,28.5 -6.6,26 C-6.8,23 -6.3,19.5 -5.8,16 C-5.4,13 -4.6,10.5 -4.1,8.9 C-4.8,8 -4.8,6.4 -4.1,5.9 C-3.2,5.4 -2.6,4.5 -2.1,3.2 C-1.6,1.8 -0.8,0.4 0,0 Z" fill="url(#mouseg)"/><path d="M0,0 C0.8,0.4 1.6,1.8 2.1,3.2 C2.6,4.5 3.2,5.4 4.1,5.9 C4.8,6.4 4.8,8 4.1,8.9 C4.6,10.5 5.4,13 5.8,16 C6.3,19.5 6.8,23 6.6,26 C6.4,28.5 4.5,30.6 0,31.2 C-4.5,30.6 -6.4,28.5 -6.6,26 C-6.8,23 -6.3,19.5 -5.8,16 C-5.4,13 -4.6,10.5 -4.1,8.9 C-4.8,8 -4.8,6.4 -4.1,5.9 C-3.2,5.4 -2.6,4.5 -2.1,3.2 C-1.6,1.8 -0.8,0.4 0,0 Z" fill="url(#mouseedge)"/><ellipse cx="-3.2" cy="7.6" rx="1.2" ry="1.2" fill="#8c8c8c" opacity="0.6"/><ellipse cx="3.2" cy="7.6" rx="1.2" ry="1.2" fill="#8c8c8c" opacity="0.6"/><ellipse cx="0" cy="19" rx="3.5" ry="6" fill="#fff" opacity="0.5"/></g>
<g filter="url(#blur05)"><ellipse cx="461.5" cy="306" rx="1.8" ry="1.2" fill="#6a00ff"/><ellipse cx="462.3" cy="320.5" rx="6.6" ry="5.0" fill="#6a00ff"/><circle cx="458" cy="319" r="1.8" fill="#1a50ff"/><circle cx="466.5" cy="318.5" r="1.8" fill="#1a50ff"/><ellipse cx="477" cy="303" rx="1.9" ry="5.4" fill="#6a00ff"/><ellipse cx="476.5" cy="320" rx="7.0" ry="5.2" fill="#6a00ff"/><ellipse cx="477" cy="300.2" rx="3.4" ry="1.7" fill="#6a00ff"/><circle cx="471.4" cy="319" r="1.8" fill="#1a50ff"/><circle cx="481.7" cy="318.5" r="1.8" fill="#1a50ff"/><ellipse cx="489.6" cy="305" rx="1.2" ry="1.6" fill="#6a00ff"/><ellipse cx="490.7" cy="321" rx="7.2" ry="5.5" fill="#6a00ff"/><circle cx="486.5" cy="322.7" r="1.6" fill="#1a50ff"/><circle cx="495" cy="318.5" r="1.6" fill="#1a50ff"/><circle cx="498" cy="318.5" r="1.5" fill="#1a50ff"/><ellipse cx="504.2" cy="304.3" rx="4.8" ry="4.2" fill="#6a00ff"/><ellipse cx="504.4" cy="319.7" rx="6.6" ry="5.6" fill="#6a00ff"/><circle cx="509" cy="317.3" r="1.8" fill="#1a50ff"/></g>
</g>
<text x="9.50" y="413.00" font-size="14" style="fill:#000;stroke:#000" textLength="8.50" lengthAdjust="spacingAndGlyphs">D</text>
<text x="76.20" y="433.20" font-size="9.5" textLength="30.00" lengthAdjust="spacingAndGlyphs">Vehicle</text>
<text x="133.70" y="421.10" font-size="9.5" textLength="31.30" lengthAdjust="spacingAndGlyphs">CYT387</text>
<text x="133.40" y="432.70" font-size="9.5" textLength="48.40" lengthAdjust="spacingAndGlyphs">(100mg/Kg)</text>
<text x="207.30" y="421.30" font-size="9.5" textLength="31.60" lengthAdjust="spacingAndGlyphs">CYT387</text>
<text x="207.30" y="432.90" font-size="9.5" textLength="44.30" lengthAdjust="spacingAndGlyphs">(10mg/Kg)</text>
<line x1="61.00" y1="439.10" x2="121.80" y2="439.10" stroke="#111" stroke-width="1.5"/>
<line x1="129.00" y1="439.10" x2="190.00" y2="439.10" stroke="#111" stroke-width="1.5"/>
<line x1="200.40" y1="439.10" x2="260.90" y2="439.10" stroke="#111" stroke-width="1.5"/>
<text x="47.70" y="456.20" font-size="9.5" text-anchor="end" textLength="23.40" lengthAdjust="spacingAndGlyphs">pYB-1</text>
<text x="47.70" y="484.50" font-size="9.5" text-anchor="end" textLength="17.70" lengthAdjust="spacingAndGlyphs">MYC</text>
<text x="47.70" y="513.20" font-size="9.5" text-anchor="end" textLength="22.50" lengthAdjust="spacingAndGlyphs">IKBKE</text>
<text x="47.70" y="539.80" font-size="9.5" text-anchor="end" textLength="20.40" lengthAdjust="spacingAndGlyphs">Actin</text>
<clipPath id="bl1"><rect x="55.5" y="442.6" width="205.10000000000002" height="20.69999999999999"/></clipPath>
<g clip-path="url(#bl1)"><rect x="55.5" y="442.6" width="205.10000000000002" height="20.69999999999999" fill="#747474"/>
<g filter="url(#blurD)"><rect x="55" y="442" width="207" height="22" rx="0" fill="#747474" opacity="1"/><rect x="89.0" y="442" width="6.0" height="22" rx="0" fill="#aaaaaa" opacity="0.95"/><rect x="122.0" y="442" width="7.0" height="22" rx="0" fill="#aaaaaa" opacity="0.95"/><rect x="191.5" y="442" width="8.0" height="22" rx="0" fill="#aaaaaa" opacity="0.95"/><rect x="224.5" y="442" width="8.0" height="22" rx="0" fill="#aaaaaa" opacity="0.95"/><ellipse cx="74" cy="453.8" rx="15" ry="7.0" fill="#2c2c2c" opacity="1"/><ellipse cx="108.5" cy="453.8" rx="14.5" ry="6.8" fill="#303030" opacity="1"/><ellipse cx="74" cy="454.2" rx="11" ry="4.2" fill="#141414" opacity="1"/><ellipse cx="108.5" cy="454.2" rx="11" ry="4.0" fill="#161616" opacity="1"/><ellipse cx="142" cy="455.6" rx="13" ry="4.6" fill="#404040" opacity="1"/><ellipse cx="131" cy="449.5" rx="4.5" ry="4" fill="#a0a0a0" opacity="0.7"/><ellipse cx="177" cy="455.4" rx="14" ry="5.0" fill="#4a4a4a" opacity="1"/><ellipse cx="212" cy="453.5" rx="13.5" ry="5.6" fill="#505050" opacity="1"/><ellipse cx="246" cy="453.6" rx="14.5" ry="7.0" fill="#262626" opacity="1"/><ellipse cx="246" cy="454.0" rx="10.5" ry="4.4" fill="#121212" opacity="1"/></g></g>
<rect x="55.5" y="442.6" width="205.10000000000002" height="20.69999999999999" fill="none" stroke="#000" stroke-width="1.3"/>
<clipPath id="bl2"><rect x="54.3" y="468.0" width="207.5" height="26.5"/></clipPath>
<g clip-path="url(#bl2)"><rect x="54.3" y="468.0" width="207.5" height="26.5" fill="#4a4a4a"/>
<g filter="url(#blurD)"><rect x="55" y="468" width="207" height="27" rx="0" fill="#4a4a4a" opacity="1"/><rect x="56" y="469" width="35" height="25" rx="0" fill="#121212" opacity="1"/><ellipse cx="62" cy="490" rx="6" ry="3" fill="#3a3a3a" opacity="0.8"/><ellipse cx="80" cy="476" rx="8" ry="2" fill="#222" opacity="0.8"/><ellipse cx="84" cy="489" rx="6" ry="2.5" fill="#303030" opacity="0.8"/><rect x="93" y="469" width="28" height="25" rx="0" fill="#262626" opacity="1"/><rect x="120.5" y="468" width="8" height="27" rx="0" fill="#7a7a7a" opacity="0.95"/><rect x="191" y="468" width="8.5" height="27" rx="0" fill="#8c8c8c" opacity="0.95"/><rect x="225" y="468" width="7" height="27" rx="0" fill="#8e8e8e" opacity="0.95"/><ellipse cx="107" cy="474.5" rx="13.5" ry="2.533333333333333" fill="#080808" opacity="1"/><ellipse cx="107" cy="481" rx="13.5" ry="2.1333333333333333" fill="#080808" opacity="1"/><ellipse cx="107" cy="488" rx="13.5" ry="2.9333333333333336" fill="#080808" opacity="1"/><rect x="128.5" y="469" width="34" height="25" rx="0" fill="#303030" opacity="1"/><ellipse cx="142" cy="474.5" rx="13" ry="2.8000000000000003" fill="#0a0a0a" opacity="1"/><ellipse cx="142" cy="482.5" rx="13" ry="2.2666666666666666" fill="#0a0a0a" opacity="1"/><ellipse cx="142" cy="489.5" rx="13" ry="2.0" fill="#0a0a0a" opacity="1"/><rect x="163" y="469" width="28" height="25" rx="0" fill="#484848" opacity="1"/><ellipse cx="177" cy="475.5" rx="13" ry="2.4" fill="#151515" opacity="1"/><ellipse cx="177" cy="481" rx="13" ry="2.1333333333333333" fill="#151515" opacity="1"/><ellipse cx="177" cy="489" rx="13" ry="2.0" fill="#151515" opacity="1"/><rect x="199" y="469" width="26" height="25" rx="0" fill="#7a7a7a" opacity="1"/><ellipse cx="212" cy="475.2" rx="12" ry="2.2666666666666666" fill="#262626" opacity="1"/><ellipse cx="212" cy="480.5" rx="12" ry="2.0" fill="#262626" opacity="1"/><rect x="232" y="469" width="30" height="25" rx="0" fill="#5a5a5a" opacity="1"/><ellipse cx="246" cy="485.8" rx="14" ry="4.8" fill="#0a0a0a" opacity="1"/><ellipse cx="246" cy="475.5" rx="12.5" ry="2.2" fill="#2a2a2a" opacity="1"/></g></g>
<rect x="54.3" y="468.0" width="207.5" height="26.5" fill="none" stroke="#000" stroke-width="1.3"/>
<clipPath id="bl3"><rect x="52.3" y="499.0" width="212.3" height="22.299999999999955"/></clipPath>
<g clip-path="url(#bl3)"><rect x="52.3" y="499.0" width="212.3" height="22.299999999999955" fill="#f4f4f4"/>
<g filter="url(#blurD)"><rect x="59.5" y="499.5" width="29.0" height="22" rx="0" fill="#8a8a8a" opacity="1"/><rect x="94.4" y="499.5" width="29.599999999999994" height="22" rx="0" fill="#8a8a8a" opacity="1"/><rect x="130.4" y="499.5" width="27.900000000000006" height="22" rx="0" fill="#8a8a8a" opacity="1"/><rect x="164.8" y="499.5" width="26.099999999999994" height="22" rx="0" fill="#8a8a8a" opacity="1"/><rect x="198.5" y="499.5" width="28.19999999999999" height="22" rx="0" fill="#8a8a8a" opacity="1"/><rect x="232.2" y="499.5" width="31.30000000000001" height="22" rx="0" fill="#8a8a8a" opacity="1"/><ellipse cx="74" cy="513.8" rx="15" ry="6.0" fill="#181818" opacity="1"/><ellipse cx="109" cy="514.0" rx="16" ry="5.8" fill="#141414" opacity="1"/><ellipse cx="144.3" cy="514.4" rx="14.5" ry="5.6" fill="#1c1c1c" opacity="1"/><ellipse cx="177.8" cy="512.6" rx="14" ry="4.6" fill="#303030" opacity="1"/><ellipse cx="212.6" cy="507.8" rx="15" ry="4.4" fill="#141414" opacity="1"/><ellipse cx="248" cy="507.4" rx="16" ry="4.4" fill="#141414" opacity="1"/><ellipse cx="177.8" cy="517.5" rx="12" ry="2.4" fill="#606060" opacity="1"/><ellipse cx="212.6" cy="516" rx="12" ry="3" fill="#6a6a6a" opacity="1"/><ellipse cx="248" cy="516" rx="13" ry="3" fill="#6a6a6a" opacity="1"/><rect x="59.5" y="499.5" width="2.2" height="22" rx="0" fill="#1a1a1a" opacity="0.55"/><rect x="86.3" y="499.5" width="2.2" height="22" rx="0" fill="#1a1a1a" opacity="0.55"/><rect x="94.4" y="499.5" width="2.2" height="22" rx="0" fill="#1a1a1a" opacity="0.55"/><rect x="121.8" y="499.5" width="2.2" height="22" rx="0" fill="#1a1a1a" opacity="0.55"/><rect x="130.4" y="499.5" width="2.2" height="22" rx="0" fill="#1a1a1a" opacity="0.55"/><rect x="156.10000000000002" y="499.5" width="2.2" height="22" rx="0" fill="#1a1a1a" opacity="0.55"/><rect x="164.8" y="499.5" width="2.2" height="22" rx="0" fill="#1a1a1a" opacity="0.55"/><rect x="188.70000000000002" y="499.5" width="2.2" height="22" rx="0" fill="#1a1a1a" opacity="0.55"/><rect x="198.5" y="499.5" width="2.2" height="22" rx="0" fill="#1a1a1a" opacity="0.55"/><rect x="224.5" y="499.5" width="2.2" height="22" rx="0" fill="#1a1a1a" opacity="0.55"/><rect x="232.2" y="499.5" width="2.2" height="22" rx="0" fill="#1a1a1a" opacity="0.55"/><rect x="261.3" y="499.5" width="2.2" height="22" rx="0" fill="#1a1a1a" opacity="0.55"/></g></g>
<rect x="52.3" y="499.0" width="212.3" height="22.299999999999955" fill="none" stroke="#000" stroke-width="1.3"/>
<clipPath id="bl4"><rect x="51.5" y="525.7" width="213.39999999999998" height="21.899999999999977"/></clipPath>
<g clip-path="url(#bl4)"><rect x="51.5" y="525.7" width="213.39999999999998" height="21.899999999999977" fill="#d4d4d4"/>
<g filter="url(#blurD)"><rect x="52" y="526" width="213" height="22" rx="0" fill="#d4d4d4" opacity="1"/><rect x="52" y="541" width="213" height="7" rx="0" fill="#c6c6c6" opacity="1"/><ellipse cx="73.2" cy="538.3" rx="17" ry="3.8" fill="#050505" opacity="1"/><ellipse cx="108.2" cy="537.6" rx="16.2" ry="3.8" fill="#050505" opacity="1"/><ellipse cx="142.2" cy="538.0" rx="16" ry="3.8" fill="#050505" opacity="1"/><ellipse cx="178.2" cy="536.2" rx="16.6" ry="3.8" fill="#050505" opacity="1"/><ellipse cx="213" cy="534.3" rx="15" ry="3.8" fill="#050505" opacity="1"/><ellipse cx="247.3" cy="533.7" rx="16" ry="3.8" fill="#050505" opacity="1"/></g></g>
<rect x="51.5" y="525.7" width="213.39999999999998" height="21.899999999999977" fill="none" stroke="#000" stroke-width="1.3"/>
<text x="284.30" y="412.60" font-size="13.7" style="fill:#000;stroke:#000" textLength="6.60" lengthAdjust="spacingAndGlyphs">E</text>
<line x1="331.60" y1="414.40" x2="331.60" y2="495.30" stroke="#111" stroke-width="1.6"/>
<line x1="330.80" y1="494.60" x2="447.50" y2="494.60" stroke="#111" stroke-width="1.6"/>
<line x1="327.80" y1="494.60" x2="331.60" y2="494.60" stroke="#111" stroke-width="1.3"/>
<text x="324.60" y="497.70" font-size="8.6" text-anchor="end" textLength="11.80" lengthAdjust="spacingAndGlyphs">0.0</text>
<line x1="327.80" y1="475.50" x2="331.60" y2="475.50" stroke="#111" stroke-width="1.3"/>
<text x="324.60" y="478.60" font-size="8.6" text-anchor="end" textLength="11.80" lengthAdjust="spacingAndGlyphs">0.5</text>
<line x1="327.80" y1="456.40" x2="331.60" y2="456.40" stroke="#111" stroke-width="1.3"/>
<text x="324.60" y="459.50" font-size="8.6" text-anchor="end" textLength="11.80" lengthAdjust="spacingAndGlyphs">1.0</text>
<line x1="327.80" y1="437.30" x2="331.60" y2="437.30" stroke="#111" stroke-width="1.3"/>
<text x="324.60" y="440.40" font-size="8.6" text-anchor="end" textLength="11.80" lengthAdjust="spacingAndGlyphs">1.5</text>
<line x1="327.80" y1="418.20" x2="331.60" y2="418.20" stroke="#111" stroke-width="1.3"/>
<text x="324.60" y="421.30" font-size="8.6" text-anchor="end" textLength="11.80" lengthAdjust="spacingAndGlyphs">2.0</text>
<line x1="355.00" y1="494.60" x2="355.00" y2="498.20" stroke="#111" stroke-width="1.3"/>
<line x1="389.40" y1="494.60" x2="389.40" y2="498.20" stroke="#111" stroke-width="1.3"/>
<line x1="423.80" y1="494.60" x2="423.80" y2="498.20" stroke="#111" stroke-width="1.3"/>
<text x="303.70" y="454.30" font-size="11" text-anchor="middle" textLength="59.50" lengthAdjust="spacingAndGlyphs" transform="rotate(-90 303.70 454.30)">pYB-1/ actin</text>
<text x="0" y="0" font-size="8.6" text-anchor="end" textLength="29.4" lengthAdjust="spacingAndGlyphs" transform="translate(359.2 507.6) rotate(-45)">Control</text>
<text x="0" y="0" font-size="8.6" text-anchor="end" textLength="79.5" lengthAdjust="spacingAndGlyphs" transform="translate(394.6 507.6) rotate(-45)">CYT387(100mg/kg)</text>
<text x="0" y="0" font-size="8.6" text-anchor="end" textLength="76.5" lengthAdjust="spacingAndGlyphs" transform="translate(429.6 507.6) rotate(-45)">CYT387 (10mg/kg)</text>
<path d="M354.3 432.8 V428.5 H389.7 V452.8" fill="none" stroke="#111" stroke-width="1.2"/>
<text x="371.80" y="427.40" font-size="7.6" text-anchor="middle" textLength="7.20" lengthAdjust="spacingAndGlyphs" style="stroke-width:0.1px">**</text>
<line x1="343.25" y1="456.40" x2="366.25" y2="456.40" stroke="#111" stroke-width="1.5"/>
<line x1="354.75" y1="450.70" x2="354.75" y2="461.70" stroke="#111" stroke-width="1.3"/>
<line x1="348.95" y1="450.70" x2="360.55" y2="450.70" stroke="#111" stroke-width="1.3"/>
<line x1="348.95" y1="461.70" x2="360.55" y2="461.70" stroke="#111" stroke-width="1.3"/>
<line x1="378.10" y1="480.00" x2="400.30" y2="480.00" stroke="#111" stroke-width="1.5"/>
<line x1="389.20" y1="478.80" x2="389.20" y2="481.20" stroke="#111" stroke-width="1.3"/>
<line x1="384.70" y1="478.80" x2="393.70" y2="478.80" stroke="#111" stroke-width="1.3"/>
<line x1="384.70" y1="481.20" x2="393.70" y2="481.20" stroke="#111" stroke-width="1.3"/>
<line x1="412.10" y1="458.50" x2="435.10" y2="458.50" stroke="#111" stroke-width="1.5"/>
<line x1="423.60" y1="453.80" x2="423.60" y2="463.40" stroke="#111" stroke-width="1.3"/>
<line x1="417.80" y1="453.80" x2="429.40" y2="453.80" stroke="#111" stroke-width="1.3"/>
<line x1="417.80" y1="463.40" x2="429.40" y2="463.40" stroke="#111" stroke-width="1.3"/>
<circle cx="354.75" cy="438.4" r="1.85" fill="#ad0b2b"/>
<circle cx="356.9" cy="447.5" r="1.85" fill="#ad0b2b"/>
<circle cx="352.2" cy="451.3" r="1.85" fill="#ad0b2b"/>
<circle cx="354.75" cy="459.1" r="1.85" fill="#ad0b2b"/>
<circle cx="351.8" cy="470.1" r="1.85" fill="#ad0b2b"/>
<circle cx="357.5" cy="470.1" r="1.85" fill="#ad0b2b"/>
<rect x="380.2" y="476.4" width="3.6" height="3.6" fill="#2b4c8c"/>
<rect x="383.7" y="477.5" width="3.6" height="3.6" fill="#2b4c8c"/>
<rect x="387.4" y="478.7" width="3.6" height="3.6" fill="#2b4c8c"/>
<rect x="391.0" y="477.5" width="3.6" height="3.6" fill="#2b4c8c"/>
<rect x="394.8" y="475.0" width="3.6" height="3.6" fill="#2b4c8c"/>
<rect x="387.4" y="481.7" width="3.6" height="3.6" fill="#2b4c8c"/>
<path d="M423.5 444.7 L425.6 448.4 L421.4 448.4Z" fill="#62b23f"/>
<path d="M418.8 451.6 L420.90000000000003 455.3 L416.7 455.3Z" fill="#62b23f"/>
<path d="M423.0 451.6 L425.1 455.3 L420.9 455.3Z" fill="#62b23f"/>
<path d="M428.0 451.6 L430.1 455.3 L425.9 455.3Z" fill="#62b23f"/>
<path d="M423.7 466.5 L425.8 470.2 L421.59999999999997 470.2Z" fill="#62b23f"/>
<path d="M423.7 474.90000000000003 L425.8 478.6 L421.59999999999997 478.6Z" fill="#62b23f"/>
<text x="9.60" y="600.40" font-size="14" style="fill:#000;stroke:#000" textLength="6.00" lengthAdjust="spacingAndGlyphs">F</text>
<line x1="56.20" y1="605.80" x2="56.20" y2="716.60" stroke="#111" stroke-width="1.6"/>
<line x1="55.40" y1="715.90" x2="205.80" y2="715.90" stroke="#111" stroke-width="1.6"/>
<line x1="52.40" y1="715.90" x2="56.20" y2="715.90" stroke="#111" stroke-width="1.3"/>
<text x="49.30" y="719.00" font-size="8.6" text-anchor="end" textLength="12.40" lengthAdjust="spacingAndGlyphs">0.0</text>
<line x1="52.40" y1="689.48" x2="56.20" y2="689.48" stroke="#111" stroke-width="1.3"/>
<text x="49.30" y="692.58" font-size="8.6" text-anchor="end" textLength="12.40" lengthAdjust="spacingAndGlyphs">0.5</text>
<line x1="52.40" y1="663.05" x2="56.20" y2="663.05" stroke="#111" stroke-width="1.3"/>
<text x="49.30" y="666.15" font-size="8.6" text-anchor="end" textLength="12.40" lengthAdjust="spacingAndGlyphs">1.0</text>
<line x1="52.40" y1="636.62" x2="56.20" y2="636.62" stroke="#111" stroke-width="1.3"/>
<text x="49.30" y="639.73" font-size="8.6" text-anchor="end" textLength="12.40" lengthAdjust="spacingAndGlyphs">1.5</text>
<line x1="52.40" y1="610.20" x2="56.20" y2="610.20" stroke="#111" stroke-width="1.3"/>
<text x="49.30" y="613.30" font-size="8.6" text-anchor="end" textLength="12.40" lengthAdjust="spacingAndGlyphs">2.0</text>
<line x1="88.00" y1="715.90" x2="88.00" y2="719.00" stroke="#111" stroke-width="1.3"/>
<line x1="135.60" y1="715.90" x2="135.60" y2="719.00" stroke="#111" stroke-width="1.3"/>
<line x1="182.60" y1="715.90" x2="182.60" y2="719.00" stroke="#111" stroke-width="1.3"/>
<text x="28.60" y="660.80" font-size="10.5" text-anchor="middle" textLength="82.00" lengthAdjust="spacingAndGlyphs" transform="rotate(-90 28.60 660.80)">MYC mRNA level</text>
<text x="0" y="0" font-size="8.6" text-anchor="end" textLength="29.0" lengthAdjust="spacingAndGlyphs" transform="translate(92.3 728.4) rotate(-45)">Control</text>
<text x="0" y="0" font-size="8.6" text-anchor="end" textLength="82.0" lengthAdjust="spacingAndGlyphs" transform="translate(142.4 728.4) rotate(-45)">CYT387 (100mg/kg)</text>
<text x="0" y="0" font-size="8.6" text-anchor="end" textLength="78.0" lengthAdjust="spacingAndGlyphs" transform="translate(189.6 728.4) rotate(-45)">CYT387 (10mg/kg)</text>
<path d="M86.6 622.7 V618.1 H139.6 V640.4" fill="none" stroke="#111" stroke-width="1.2"/>
<text x="113.20" y="616.90" font-size="8" text-anchor="middle">*</text>
<line x1="72.30" y1="663.00" x2="103.70" y2="663.00" stroke="#111" stroke-width="1.6"/>
<line x1="88.00" y1="637.00" x2="88.00" y2="689.20" stroke="#111" stroke-width="1.4"/>
<line x1="79.90" y1="637.00" x2="96.10" y2="637.00" stroke="#111" stroke-width="1.4"/>
<line x1="79.90" y1="689.20" x2="96.10" y2="689.20" stroke="#111" stroke-width="1.4"/>
<line x1="120.00" y1="703.50" x2="150.80" y2="703.50" stroke="#111" stroke-width="1.6"/>
<line x1="135.40" y1="696.50" x2="135.40" y2="711.00" stroke="#111" stroke-width="1.4"/>
<line x1="128.40" y1="696.50" x2="142.40" y2="696.50" stroke="#111" stroke-width="1.4"/>
<line x1="128.40" y1="711.00" x2="142.40" y2="711.00" stroke="#111" stroke-width="1.4"/>
<line x1="166.80" y1="673.80" x2="198.40" y2="673.80" stroke="#111" stroke-width="1.6"/>
<line x1="182.60" y1="636.00" x2="182.60" y2="710.20" stroke="#111" stroke-width="1.4"/>
<line x1="174.90" y1="636.00" x2="190.30" y2="636.00" stroke="#111" stroke-width="1.4"/>
<line x1="174.90" y1="710.20" x2="190.30" y2="710.20" stroke="#111" stroke-width="1.4"/>
<circle cx="88.1" cy="628.4" r="3.2" fill="#ad0b2b"/>
<circle cx="88.1" cy="648.1" r="3.2" fill="#ad0b2b"/>
<circle cx="83.9" cy="660.4" r="3.2" fill="#ad0b2b"/>
<circle cx="91.9" cy="658.5" r="3.2" fill="#ad0b2b"/>
<circle cx="88.1" cy="677.6" r="3.2" fill="#ad0b2b"/>
<circle cx="88.1" cy="705.3" r="3.2" fill="#ad0b2b"/>
<rect x="132.4" y="689.8000000000001" width="5.8" height="5.8" fill="#2b4c8c"/>
<rect x="128.29999999999998" y="694.9" width="5.8" height="5.8" fill="#2b4c8c"/>
<rect x="136.4" y="699.8000000000001" width="5.8" height="5.8" fill="#2b4c8c"/>
<rect x="123.6" y="703.6" width="5.8" height="5.8" fill="#2b4c8c"/>
<rect x="140.29999999999998" y="705.5" width="5.8" height="5.8" fill="#2b4c8c"/>
<rect x="132.4" y="711.3000000000001" width="5.8" height="5.8" fill="#2b4c8c"/>
<path d="M186.2 630.5 L189.39999999999998 636.0999999999999 L183.0 636.0999999999999Z" fill="#62b23f"/>
<path d="M178.5 638.2 L181.7 643.8 L175.3 643.8Z" fill="#62b23f"/>
<path d="M182.5 669.9000000000001 L185.7 675.5 L179.3 675.5Z" fill="#62b23f"/>
<path d="M186.8 704.4000000000001 L190.0 710.0 L183.60000000000002 710.0Z" fill="#62b23f"/>
<path d="M178.5 710.5 L181.7 716.0999999999999 L175.3 716.0999999999999Z" fill="#62b23f"/>
<text x="225.60" y="600.40" font-size="14" style="fill:#000;stroke:#000" textLength="8.40" lengthAdjust="spacingAndGlyphs">G</text>
<rect x="290.4" y="632.8" width="21.900000000000034" height="114.80000000000007" fill="#a2022b"/>
<rect x="343.8" y="666.0" width="21.80000000000001" height="81.60000000000002" fill="#a2022b"/>
<rect x="396.3" y="650.3" width="21.80000000000001" height="97.30000000000007" fill="#a2022b"/>
<line x1="274.90" y1="606.00" x2="274.90" y2="748.30" stroke="#111" stroke-width="1.6"/>
<line x1="274.10" y1="747.60" x2="423.80" y2="747.60" stroke="#111" stroke-width="1.6"/>
<line x1="270.60" y1="747.60" x2="274.90" y2="747.60" stroke="#111" stroke-width="1.3"/>
<text x="268.20" y="750.60" font-size="8.6" text-anchor="end">0</text>
<line x1="270.60" y1="724.70" x2="274.90" y2="724.70" stroke="#111" stroke-width="1.3"/>
<text x="268.20" y="727.70" font-size="8.6" text-anchor="end" textLength="13.00" lengthAdjust="spacingAndGlyphs">0.2</text>
<line x1="270.60" y1="701.80" x2="274.90" y2="701.80" stroke="#111" stroke-width="1.3"/>
<text x="268.20" y="704.80" font-size="8.6" text-anchor="end" textLength="13.00" lengthAdjust="spacingAndGlyphs">0.4</text>
<line x1="270.60" y1="678.90" x2="274.90" y2="678.90" stroke="#111" stroke-width="1.3"/>
<text x="268.20" y="681.90" font-size="8.6" text-anchor="end" textLength="13.00" lengthAdjust="spacingAndGlyphs">0.6</text>
<line x1="270.60" y1="656.00" x2="274.90" y2="656.00" stroke="#111" stroke-width="1.3"/>
<text x="268.20" y="659.00" font-size="8.6" text-anchor="end" textLength="13.00" lengthAdjust="spacingAndGlyphs">0.8</text>
<line x1="270.60" y1="633.10" x2="274.90" y2="633.10" stroke="#111" stroke-width="1.3"/>
<text x="268.20" y="636.10" font-size="8.6" text-anchor="end">1</text>
<line x1="270.60" y1="610.20" x2="274.90" y2="610.20" stroke="#111" stroke-width="1.3"/>
<text x="268.20" y="613.20" font-size="8.6" text-anchor="end" textLength="13.00" lengthAdjust="spacingAndGlyphs">1.2</text>
<text x="246.80" y="676.80" font-size="10.5" text-anchor="middle" textLength="60.50" lengthAdjust="spacingAndGlyphs" transform="rotate(-90 246.80 676.80)">IKBKE/ actin</text>
<line x1="301.30" y1="619.70" x2="301.30" y2="644.40" stroke="#111" stroke-width="1.2"/>
<line x1="297.70" y1="619.70" x2="304.90" y2="619.70" stroke="#111" stroke-width="1.2"/>
<line x1="297.70" y1="644.40" x2="304.90" y2="644.40" stroke="#111" stroke-width="1.2"/>
<line x1="354.60" y1="656.00" x2="354.60" y2="674.60" stroke="#111" stroke-width="1.2"/>
<line x1="351.00" y1="656.00" x2="358.20" y2="656.00" stroke="#111" stroke-width="1.2"/>
<line x1="351.00" y1="674.60" x2="358.20" y2="674.60" stroke="#111" stroke-width="1.2"/>
<line x1="407.20" y1="649.30" x2="407.20" y2="651.80" stroke="#111" stroke-width="1.2"/>
<line x1="404.20" y1="649.30" x2="410.20" y2="649.30" stroke="#111" stroke-width="1.2"/>
<line x1="404.20" y1="651.80" x2="410.20" y2="651.80" stroke="#111" stroke-width="1.2"/>
<text x="301.40" y="760.30" font-size="9.3" text-anchor="middle" textLength="28.80" lengthAdjust="spacingAndGlyphs">Vehicle</text>
<text x="354.20" y="760.30" font-size="9.3" text-anchor="middle" textLength="31.00" lengthAdjust="spacingAndGlyphs">CYT387</text>
<text x="353.70" y="771.70" font-size="9.3" text-anchor="middle" textLength="48.40" lengthAdjust="spacingAndGlyphs">(100mg/Kg)</text>
<text x="407.30" y="760.30" font-size="9.3" text-anchor="middle" textLength="31.40" lengthAdjust="spacingAndGlyphs">CYT387</text>
<text x="407.10" y="771.70" font-size="9.3" text-anchor="middle" textLength="44.20" lengthAdjust="spacingAndGlyphs">(10mg/Kg)</text>
<rect x="0" y="0" width="520" height="1.6" fill="#000"/>
<rect x="0" y="0" width="2" height="801" fill="#333"/>
<rect x="518" y="0" width="2" height="801" fill="#1a1a1a"/>
<rect x="0" y="799" width="520" height="2" fill="#1a1a1a"/>

</svg>
</body></html>
